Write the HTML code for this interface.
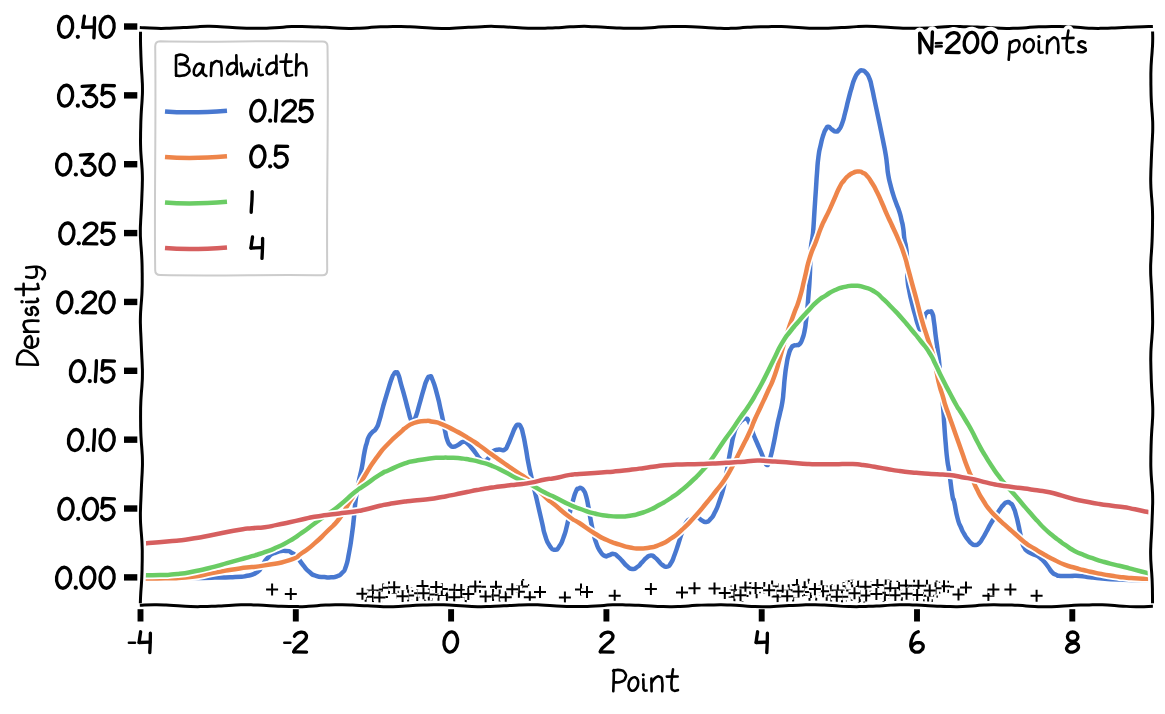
<!DOCTYPE html>
<html><head><meta charset="utf-8"><title>KDE bandwidth</title>
<style>html,body{margin:0;padding:0;background:#fff;font-family:"Liberation Sans",sans-serif}svg{display:block}</style></head>
<body>
<svg width="1165" height="714" viewBox="0 0 1165 714" style="display:block">
<rect width="1165" height="714" fill="#fff"/>
<defs><clipPath id="cp"><rect x="140.4" y="27.2" width="1012.3" height="578.5"/></clipPath></defs>
<g clip-path="url(#cp)" fill="none" stroke-linecap="butt" stroke-linejoin="round">
<path d="M141 578.2C154 578.13 155.4 578.2 180 578C204.6 577.8 196.47 577.93 214.8 577.6C233.13 577.27 224.2 577.6 235 577C245.8 576.4 239.8 577.43 247.2 575.8C254.6 574.17 252.27 575.37 257.2 572.1C262.13 568.83 258.67 570.57 262 566C265.33 561.43 262.87 562.8 267.2 558.4C271.53 554 268.8 555.3 275 552.8C281.2 550.3 280.13 550.83 285.8 550.9C291.47 550.97 288.23 550.93 292 553C295.77 555.07 293.43 553.1 297.1 557.1C300.77 561.1 298.87 560 303 565C307.13 570 305.17 568.5 309.5 572.1C313.83 575.7 311 574.13 316 575.8C321 577.47 319.5 576.6 324.5 577.1C329.5 577.6 326.83 577.57 331 577.3C335.17 577.03 333.33 577.73 337 576.3C340.67 574.87 339.1 576.07 342 573C344.9 569.93 343.37 573.77 345.7 567.1C348.03 560.43 346.93 563.8 349 553C351.07 542.2 350.23 546.7 351.9 534.7C353.57 522.7 352.73 528.63 354 517C355.27 505.37 354.2 511.13 355.7 499.8C357.2 488.47 356.43 493.8 358.5 483C360.57 472.2 359.9 477.73 361.9 467.4C363.9 457.07 362.83 460.3 364.5 452C366.17 443.7 365.53 447.4 366.9 442.5C368.27 437.6 366.9 440.63 368.6 437.3C370.3 433.97 369.5 435.43 372 432.5C374.5 429.57 373.6 432.67 376.1 428.5C378.6 424.33 377.2 427.17 379.5 420C381.8 412.83 380.4 416.2 383 407C385.6 397.8 384.47 401.73 387.3 392.4C390.13 383.07 389.27 385.13 391.5 379C393.73 372.87 392.47 376.2 394 374C395.53 371.8 394.6 372.07 396.1 372.4C397.6 372.73 396.87 371.13 398.5 375C400.13 378.87 398.9 376.53 401 384C403.1 391.47 402.47 388.9 404.8 397.4C407.13 405.9 405.93 402.03 408 409.5C410.07 416.97 409.23 415.9 411 419.8C412.77 423.7 411.63 422.47 413.3 421.2C414.97 419.93 413.93 421.73 416 416C418.07 410.27 417 412.7 419.5 404C422 395.3 421.07 397.9 423.5 389.9C425.93 381.9 424.73 384.33 426.8 380C428.87 375.67 427.77 376.9 429.7 376.9C431.63 376.9 430.1 374 432.6 380C435.1 386 434.57 385.23 437.2 394.9C439.83 404.57 438.43 399.87 440.5 409C442.57 418.13 441.8 414.63 443.4 422.3C445 429.97 444.03 426.17 445.3 432C446.57 437.83 445.63 435.47 447.2 439.8C448.77 444.13 447.93 442.7 450 445C452.07 447.3 450.73 446.7 453.4 446.7C456.07 446.7 454.67 446.67 458 445C461.33 443.33 460.23 442.2 463.4 441.7C466.57 441.2 464.6 441.23 467.5 443.5C470.4 445.77 469.27 445.17 472.1 448.5C474.93 451.83 473.5 450.2 476 453.5C478.5 456.8 476.93 455.9 479.6 458.4C482.27 460.9 481.1 461 484 461C486.9 461 485.97 460.9 488.3 458.4C490.63 455.9 488.93 456.13 491 453.5C493.07 450.87 491.83 451.8 494.5 450.5C497.17 449.2 495.67 449.87 499 449.6C502.33 449.33 501.5 451.4 504.5 449.7C507.5 448 505.5 449.47 508 444.5C510.5 439.53 509.5 440.63 512 434.8C514.5 428.97 513.43 430.33 515.5 427C517.57 423.67 516.43 424.8 518.2 424.8C519.97 424.8 519.13 423.67 520.8 427C522.47 430.33 521.57 427.97 523.2 434.8C524.83 441.63 524.03 438.37 525.7 447.5C527.37 456.63 526.53 453.37 528.2 462.2C529.87 471.03 529.03 466.53 530.7 474C532.37 481.47 531.37 476.83 533.2 484.6C535.03 492.37 533.3 484.83 536.2 497.3C539.1 509.77 539 509.53 541.9 522C544.8 534.47 542.37 526.87 544.9 534.7C547.43 542.53 546.17 540.5 549.5 545.5C552.83 550.5 551.57 549.53 554.9 549.7C558.23 549.87 556.6 550.17 559.5 546C562.4 541.83 561.1 544.03 563.6 537.2C566.1 530.37 564.9 533.8 567 525.5C569.1 517.2 567.9 520.63 569.9 512.3C571.9 503.97 570.93 507.57 573 500.5C575.07 493.43 574.23 495.07 576.1 491.1C577.97 487.13 576.93 489.6 578.6 488.6C580.27 487.6 579.43 487.5 581.1 488.1C582.77 488.7 581.93 487.73 583.6 490.4C585.27 493.07 584.43 490.23 586.1 496.1C587.77 501.97 586.93 499.3 588.6 508C590.27 516.7 589.47 513.87 591.1 522.2C592.73 530.53 591.87 526.33 593.5 533C595.13 539.67 593.83 536.2 596 542.2C598.17 548.2 597.07 546.43 600 551C602.93 555.57 601.8 554.47 604.8 555.9C607.8 557.33 606.1 555.97 609 555.3C611.9 554.63 610.57 553.5 613.5 553.9C616.43 554.3 614.9 554.17 617.8 556.5C620.7 558.83 619.13 557.73 622.2 560.9C625.27 564.07 623.67 563.33 627 566C630.33 568.67 628.8 568.57 632.2 568.9C635.6 569.23 633.87 569.27 637.2 567C640.53 564.73 639.1 565.2 642.2 562.1C645.3 559 643.6 559.93 646.5 557.7C649.4 555.47 648.2 555.57 650.9 555.4C653.6 555.23 652.1 555.37 654.6 557.2C657.1 559.03 655.77 558.3 658.4 560.9C661.03 563.5 659.6 563.1 662.5 565C665.4 566.9 664.27 567.27 667.1 566.6C669.93 565.93 668.5 566.97 671 563C673.5 559.03 672.17 561.03 674.6 554.7C677.03 548.37 675.8 551.5 678.3 544C680.8 536.5 679.53 539.2 682.1 532.2C684.67 525.2 683.03 527.47 686 523C688.97 518.53 687.33 520.6 691 518.8C694.67 517 693.33 517.03 697 517.6C700.67 518.17 699 519.03 702 520.5C705 521.97 703.17 522.5 706 522C708.83 521.5 707.5 522.3 710.5 519C713.5 515.7 712 518.1 715 512.1C718 506.1 716.6 509.3 719.5 501C722.4 492.7 721.43 496.2 723.7 487.2C725.97 478.2 724.63 483.13 726.3 474C727.97 464.87 727.07 468.97 728.7 459.8C730.33 450.63 729.53 454.83 731.2 446.5C732.87 438.17 731.9 441.3 733.7 434.8C735.5 428.3 734.53 431.13 736.6 427C738.67 422.87 737.77 424.9 739.9 422.4C742.03 419.9 740.93 420.77 743 419.5C745.07 418.23 744.17 417.93 746.1 418.6C748.03 419.27 746.87 417.87 748.8 421.5C750.73 425.13 750.3 425.07 751.9 429.5C753.5 433.93 751.8 430.13 753.6 434.8C755.4 439.47 754.8 437.67 757.3 443.5C759.8 449.33 758.87 446.97 761.1 452.3C763.33 457.63 762.1 455.33 764 459.5C765.9 463.67 765.13 464.13 766.8 464.8C768.47 465.47 767.57 464.83 769 461.5C770.43 458.17 769.37 461.63 771.1 454.8C772.83 447.97 772.13 450.97 774.2 441C776.27 431.03 775.43 433.9 777.3 424.9C779.17 415.9 778.13 421.5 779.8 414C781.47 406.5 781.03 410.07 782.3 402.4C783.57 394.73 782.77 399.27 783.6 391C784.43 382.73 783.83 386.27 784.8 377.6C785.77 368.93 785.27 372.5 786.5 365C787.73 357.5 787 360.6 788.5 355.1C790 349.6 789.33 351.63 791 348.5C792.67 345.37 791.67 346.8 793.5 345.7C795.33 344.6 794.43 345.8 796.5 345.2C798.57 344.6 797.7 346.13 799.7 343.9C801.7 341.67 800.83 343.07 802.5 338.5C804.17 333.93 803.53 336.03 804.7 330.2C805.87 324.37 805.17 327.63 806 321C806.83 314.37 806.37 318.97 807.2 310.3C808.03 301.63 807.67 305.8 808.5 295C809.33 284.2 809.1 288.9 809.7 277.9C810.3 266.9 809.9 272 810.3 262C810.7 252 810.17 256.23 810.9 247.9C811.63 239.57 811.67 243.63 812.5 237C813.33 230.37 812.7 237.33 813.4 228C814.1 218.67 813.77 221.8 814.6 209C815.43 196.2 815.1 201.6 815.9 189.6C816.7 177.6 816.17 183.8 817 173C817.83 162.2 817.17 166.53 818.4 157.2C819.63 147.87 819.03 152.47 820.7 145C822.37 137.53 821.63 140.13 823.4 134.8C825.17 129.47 824.33 131.67 826 129C827.67 126.33 826.4 126.63 828.4 126.8C830.4 126.97 829.5 127.93 832 129.5C834.5 131.07 833.57 131.5 835.9 131.5C838.23 131.5 836.93 132.17 839 129.5C841.07 126.83 840.03 129.17 842.1 123.5C844.17 117.83 843.13 120.37 845.2 112.5C847.27 104.63 846.23 107.9 848.3 99.9C850.37 91.9 849.3 95.57 851.4 88.5C853.5 81.43 852.3 84 854.6 78.7C856.9 73.4 855.8 75.37 858.3 72.6C860.8 69.83 859.53 70.33 862.1 70.4C864.67 70.47 863.53 70.03 866 72.8C868.47 75.57 867.5 73.63 869.5 78.7C871.5 83.77 870.33 80.93 872 88C873.67 95.07 872.63 91.07 874.5 99.9C876.37 108.73 875.5 104.53 877.6 114.5C879.7 124.47 878.9 120.63 880.8 129.8C882.7 138.97 881.67 133.7 883.3 142C884.93 150.3 884.47 147.2 885.7 154.7C886.93 162.2 886.17 157.83 887 164.5C887.83 171.17 887.03 167.87 888.2 174.7C889.37 181.53 888.83 178.37 890.5 185C892.17 191.63 891.27 188.43 893.2 194.6C895.13 200.77 894.2 197.67 896.3 203.5C898.4 209.33 897.77 206.6 899.5 212.1C901.23 217.6 900.27 214.7 901.5 220C902.73 225.3 902.23 221.67 903.2 228C904.17 234.33 903.47 232.67 904.4 239C905.33 245.33 905.17 241.33 906 247C906.83 252.67 906.47 249 906.9 256C907.33 263 907.07 259.87 907.3 268C907.53 276.13 906.87 272.4 907.6 280.4C908.33 288.4 908.07 284.53 909.5 292C910.93 299.47 910.07 295.3 911.9 302.8C913.73 310.3 912.93 307.03 915 314.5C917.07 321.97 916.27 320.2 918.1 325.2C919.93 330.2 919 329.23 920.5 329.5C922 329.77 921.27 330.17 922.6 326C923.93 321.83 923.2 321.37 924.5 317C925.8 312.63 924.87 314.67 926.5 312.9C928.13 311.13 927.5 311.6 929.4 311.7C931.3 311.8 930.67 309.77 932.2 313.2C933.73 316.63 932.87 314.67 934 322C935.13 329.33 934.43 326.2 935.6 335.2C936.77 344.2 936.27 339.43 937.5 349C938.73 358.57 938.13 351.9 939.3 363.9C940.47 375.9 939.73 370.5 941 385C942.27 399.5 942 394.07 943.1 407.4C944.2 420.73 943.47 413.37 944.3 425C945.13 436.63 944.6 430.67 945.6 442.3C946.6 453.93 946.07 449.93 947.3 459.9C948.53 469.87 947.63 460.57 949.3 472.2C950.97 483.83 950.63 484.8 952.3 494.8C953.97 504.8 952.57 494.47 954.3 502.2C956.03 509.93 955.27 509.57 957.5 518C959.73 526.43 958.67 522 961 527.5C963.33 533 962.17 530.47 964.5 534.5C966.83 538.53 965.67 536.6 968 539.6C970.33 542.6 969.1 541.67 971.5 543.5C973.9 545.33 972.7 545.17 975.2 545.1C977.7 545.03 976.53 545.53 979 543.3C981.47 541.07 980.1 542.33 982.6 538.4C985.1 534.47 983.87 536.3 986.5 531.5C989.13 526.7 987.67 528.83 990.5 524C993.33 519.17 991.93 521.73 995 517C998.07 512.27 996.87 513.87 999.7 509.8C1002.53 505.73 1001.03 507.3 1003.5 504.8C1005.97 502.3 1004.83 502.83 1007.1 502.3C1009.37 501.77 1008.2 501.53 1010.3 503.2C1012.4 504.87 1011.5 503.37 1013.4 507.3C1015.3 511.23 1014.33 509.2 1016 515C1017.67 520.8 1016.97 518.37 1018.4 524.7C1019.83 531.03 1019.07 528.17 1020.3 534C1021.53 539.83 1020.77 537.7 1022.1 542.2C1023.43 546.7 1022.63 544.6 1024.3 547.5C1025.97 550.4 1024.53 548.83 1027.1 550.9C1029.67 552.97 1028.67 552.03 1032 553.7C1035.33 555.37 1034.17 554.3 1037.1 555.9C1040.03 557.5 1038.33 556.43 1040.8 558.5C1043.27 560.57 1042 559.27 1044.5 562.1C1047 564.93 1045.8 563.67 1048.3 567C1050.8 570.33 1049.43 569.5 1052 572.1C1054.57 574.7 1053.1 573.53 1056 574.8C1058.9 576.07 1056.03 575.5 1060.7 575.9C1065.37 576.3 1063.77 576 1070 576C1076.23 576 1072.73 575.5 1079.4 575.9C1086.07 576.3 1083.33 576.4 1090 577.2C1096.67 578 1089.63 577.5 1099.4 578.3C1109.17 579.1 1105.77 579.03 1119.3 579.6C1132.83 580.17 1128.77 579.83 1140 580C1151.23 580.17 1148.67 580.07 1153 580.1" stroke="#fff" stroke-width="8"/>
<path d="M141 578.2C154 578.13 155.4 578.2 180 578C204.6 577.8 196.47 577.93 214.8 577.6C233.13 577.27 224.2 577.6 235 577C245.8 576.4 239.8 577.43 247.2 575.8C254.6 574.17 252.27 575.37 257.2 572.1C262.13 568.83 258.67 570.57 262 566C265.33 561.43 262.87 562.8 267.2 558.4C271.53 554 268.8 555.3 275 552.8C281.2 550.3 280.13 550.83 285.8 550.9C291.47 550.97 288.23 550.93 292 553C295.77 555.07 293.43 553.1 297.1 557.1C300.77 561.1 298.87 560 303 565C307.13 570 305.17 568.5 309.5 572.1C313.83 575.7 311 574.13 316 575.8C321 577.47 319.5 576.6 324.5 577.1C329.5 577.6 326.83 577.57 331 577.3C335.17 577.03 333.33 577.73 337 576.3C340.67 574.87 339.1 576.07 342 573C344.9 569.93 343.37 573.77 345.7 567.1C348.03 560.43 346.93 563.8 349 553C351.07 542.2 350.23 546.7 351.9 534.7C353.57 522.7 352.73 528.63 354 517C355.27 505.37 354.2 511.13 355.7 499.8C357.2 488.47 356.43 493.8 358.5 483C360.57 472.2 359.9 477.73 361.9 467.4C363.9 457.07 362.83 460.3 364.5 452C366.17 443.7 365.53 447.4 366.9 442.5C368.27 437.6 366.9 440.63 368.6 437.3C370.3 433.97 369.5 435.43 372 432.5C374.5 429.57 373.6 432.67 376.1 428.5C378.6 424.33 377.2 427.17 379.5 420C381.8 412.83 380.4 416.2 383 407C385.6 397.8 384.47 401.73 387.3 392.4C390.13 383.07 389.27 385.13 391.5 379C393.73 372.87 392.47 376.2 394 374C395.53 371.8 394.6 372.07 396.1 372.4C397.6 372.73 396.87 371.13 398.5 375C400.13 378.87 398.9 376.53 401 384C403.1 391.47 402.47 388.9 404.8 397.4C407.13 405.9 405.93 402.03 408 409.5C410.07 416.97 409.23 415.9 411 419.8C412.77 423.7 411.63 422.47 413.3 421.2C414.97 419.93 413.93 421.73 416 416C418.07 410.27 417 412.7 419.5 404C422 395.3 421.07 397.9 423.5 389.9C425.93 381.9 424.73 384.33 426.8 380C428.87 375.67 427.77 376.9 429.7 376.9C431.63 376.9 430.1 374 432.6 380C435.1 386 434.57 385.23 437.2 394.9C439.83 404.57 438.43 399.87 440.5 409C442.57 418.13 441.8 414.63 443.4 422.3C445 429.97 444.03 426.17 445.3 432C446.57 437.83 445.63 435.47 447.2 439.8C448.77 444.13 447.93 442.7 450 445C452.07 447.3 450.73 446.7 453.4 446.7C456.07 446.7 454.67 446.67 458 445C461.33 443.33 460.23 442.2 463.4 441.7C466.57 441.2 464.6 441.23 467.5 443.5C470.4 445.77 469.27 445.17 472.1 448.5C474.93 451.83 473.5 450.2 476 453.5C478.5 456.8 476.93 455.9 479.6 458.4C482.27 460.9 481.1 461 484 461C486.9 461 485.97 460.9 488.3 458.4C490.63 455.9 488.93 456.13 491 453.5C493.07 450.87 491.83 451.8 494.5 450.5C497.17 449.2 495.67 449.87 499 449.6C502.33 449.33 501.5 451.4 504.5 449.7C507.5 448 505.5 449.47 508 444.5C510.5 439.53 509.5 440.63 512 434.8C514.5 428.97 513.43 430.33 515.5 427C517.57 423.67 516.43 424.8 518.2 424.8C519.97 424.8 519.13 423.67 520.8 427C522.47 430.33 521.57 427.97 523.2 434.8C524.83 441.63 524.03 438.37 525.7 447.5C527.37 456.63 526.53 453.37 528.2 462.2C529.87 471.03 529.03 466.53 530.7 474C532.37 481.47 531.37 476.83 533.2 484.6C535.03 492.37 533.3 484.83 536.2 497.3C539.1 509.77 539 509.53 541.9 522C544.8 534.47 542.37 526.87 544.9 534.7C547.43 542.53 546.17 540.5 549.5 545.5C552.83 550.5 551.57 549.53 554.9 549.7C558.23 549.87 556.6 550.17 559.5 546C562.4 541.83 561.1 544.03 563.6 537.2C566.1 530.37 564.9 533.8 567 525.5C569.1 517.2 567.9 520.63 569.9 512.3C571.9 503.97 570.93 507.57 573 500.5C575.07 493.43 574.23 495.07 576.1 491.1C577.97 487.13 576.93 489.6 578.6 488.6C580.27 487.6 579.43 487.5 581.1 488.1C582.77 488.7 581.93 487.73 583.6 490.4C585.27 493.07 584.43 490.23 586.1 496.1C587.77 501.97 586.93 499.3 588.6 508C590.27 516.7 589.47 513.87 591.1 522.2C592.73 530.53 591.87 526.33 593.5 533C595.13 539.67 593.83 536.2 596 542.2C598.17 548.2 597.07 546.43 600 551C602.93 555.57 601.8 554.47 604.8 555.9C607.8 557.33 606.1 555.97 609 555.3C611.9 554.63 610.57 553.5 613.5 553.9C616.43 554.3 614.9 554.17 617.8 556.5C620.7 558.83 619.13 557.73 622.2 560.9C625.27 564.07 623.67 563.33 627 566C630.33 568.67 628.8 568.57 632.2 568.9C635.6 569.23 633.87 569.27 637.2 567C640.53 564.73 639.1 565.2 642.2 562.1C645.3 559 643.6 559.93 646.5 557.7C649.4 555.47 648.2 555.57 650.9 555.4C653.6 555.23 652.1 555.37 654.6 557.2C657.1 559.03 655.77 558.3 658.4 560.9C661.03 563.5 659.6 563.1 662.5 565C665.4 566.9 664.27 567.27 667.1 566.6C669.93 565.93 668.5 566.97 671 563C673.5 559.03 672.17 561.03 674.6 554.7C677.03 548.37 675.8 551.5 678.3 544C680.8 536.5 679.53 539.2 682.1 532.2C684.67 525.2 683.03 527.47 686 523C688.97 518.53 687.33 520.6 691 518.8C694.67 517 693.33 517.03 697 517.6C700.67 518.17 699 519.03 702 520.5C705 521.97 703.17 522.5 706 522C708.83 521.5 707.5 522.3 710.5 519C713.5 515.7 712 518.1 715 512.1C718 506.1 716.6 509.3 719.5 501C722.4 492.7 721.43 496.2 723.7 487.2C725.97 478.2 724.63 483.13 726.3 474C727.97 464.87 727.07 468.97 728.7 459.8C730.33 450.63 729.53 454.83 731.2 446.5C732.87 438.17 731.9 441.3 733.7 434.8C735.5 428.3 734.53 431.13 736.6 427C738.67 422.87 737.77 424.9 739.9 422.4C742.03 419.9 740.93 420.77 743 419.5C745.07 418.23 744.17 417.93 746.1 418.6C748.03 419.27 746.87 417.87 748.8 421.5C750.73 425.13 750.3 425.07 751.9 429.5C753.5 433.93 751.8 430.13 753.6 434.8C755.4 439.47 754.8 437.67 757.3 443.5C759.8 449.33 758.87 446.97 761.1 452.3C763.33 457.63 762.1 455.33 764 459.5C765.9 463.67 765.13 464.13 766.8 464.8C768.47 465.47 767.57 464.83 769 461.5C770.43 458.17 769.37 461.63 771.1 454.8C772.83 447.97 772.13 450.97 774.2 441C776.27 431.03 775.43 433.9 777.3 424.9C779.17 415.9 778.13 421.5 779.8 414C781.47 406.5 781.03 410.07 782.3 402.4C783.57 394.73 782.77 399.27 783.6 391C784.43 382.73 783.83 386.27 784.8 377.6C785.77 368.93 785.27 372.5 786.5 365C787.73 357.5 787 360.6 788.5 355.1C790 349.6 789.33 351.63 791 348.5C792.67 345.37 791.67 346.8 793.5 345.7C795.33 344.6 794.43 345.8 796.5 345.2C798.57 344.6 797.7 346.13 799.7 343.9C801.7 341.67 800.83 343.07 802.5 338.5C804.17 333.93 803.53 336.03 804.7 330.2C805.87 324.37 805.17 327.63 806 321C806.83 314.37 806.37 318.97 807.2 310.3C808.03 301.63 807.67 305.8 808.5 295C809.33 284.2 809.1 288.9 809.7 277.9C810.3 266.9 809.9 272 810.3 262C810.7 252 810.17 256.23 810.9 247.9C811.63 239.57 811.67 243.63 812.5 237C813.33 230.37 812.7 237.33 813.4 228C814.1 218.67 813.77 221.8 814.6 209C815.43 196.2 815.1 201.6 815.9 189.6C816.7 177.6 816.17 183.8 817 173C817.83 162.2 817.17 166.53 818.4 157.2C819.63 147.87 819.03 152.47 820.7 145C822.37 137.53 821.63 140.13 823.4 134.8C825.17 129.47 824.33 131.67 826 129C827.67 126.33 826.4 126.63 828.4 126.8C830.4 126.97 829.5 127.93 832 129.5C834.5 131.07 833.57 131.5 835.9 131.5C838.23 131.5 836.93 132.17 839 129.5C841.07 126.83 840.03 129.17 842.1 123.5C844.17 117.83 843.13 120.37 845.2 112.5C847.27 104.63 846.23 107.9 848.3 99.9C850.37 91.9 849.3 95.57 851.4 88.5C853.5 81.43 852.3 84 854.6 78.7C856.9 73.4 855.8 75.37 858.3 72.6C860.8 69.83 859.53 70.33 862.1 70.4C864.67 70.47 863.53 70.03 866 72.8C868.47 75.57 867.5 73.63 869.5 78.7C871.5 83.77 870.33 80.93 872 88C873.67 95.07 872.63 91.07 874.5 99.9C876.37 108.73 875.5 104.53 877.6 114.5C879.7 124.47 878.9 120.63 880.8 129.8C882.7 138.97 881.67 133.7 883.3 142C884.93 150.3 884.47 147.2 885.7 154.7C886.93 162.2 886.17 157.83 887 164.5C887.83 171.17 887.03 167.87 888.2 174.7C889.37 181.53 888.83 178.37 890.5 185C892.17 191.63 891.27 188.43 893.2 194.6C895.13 200.77 894.2 197.67 896.3 203.5C898.4 209.33 897.77 206.6 899.5 212.1C901.23 217.6 900.27 214.7 901.5 220C902.73 225.3 902.23 221.67 903.2 228C904.17 234.33 903.47 232.67 904.4 239C905.33 245.33 905.17 241.33 906 247C906.83 252.67 906.47 249 906.9 256C907.33 263 907.07 259.87 907.3 268C907.53 276.13 906.87 272.4 907.6 280.4C908.33 288.4 908.07 284.53 909.5 292C910.93 299.47 910.07 295.3 911.9 302.8C913.73 310.3 912.93 307.03 915 314.5C917.07 321.97 916.27 320.2 918.1 325.2C919.93 330.2 919 329.23 920.5 329.5C922 329.77 921.27 330.17 922.6 326C923.93 321.83 923.2 321.37 924.5 317C925.8 312.63 924.87 314.67 926.5 312.9C928.13 311.13 927.5 311.6 929.4 311.7C931.3 311.8 930.67 309.77 932.2 313.2C933.73 316.63 932.87 314.67 934 322C935.13 329.33 934.43 326.2 935.6 335.2C936.77 344.2 936.27 339.43 937.5 349C938.73 358.57 938.13 351.9 939.3 363.9C940.47 375.9 939.73 370.5 941 385C942.27 399.5 942 394.07 943.1 407.4C944.2 420.73 943.47 413.37 944.3 425C945.13 436.63 944.6 430.67 945.6 442.3C946.6 453.93 946.07 449.93 947.3 459.9C948.53 469.87 947.63 460.57 949.3 472.2C950.97 483.83 950.63 484.8 952.3 494.8C953.97 504.8 952.57 494.47 954.3 502.2C956.03 509.93 955.27 509.57 957.5 518C959.73 526.43 958.67 522 961 527.5C963.33 533 962.17 530.47 964.5 534.5C966.83 538.53 965.67 536.6 968 539.6C970.33 542.6 969.1 541.67 971.5 543.5C973.9 545.33 972.7 545.17 975.2 545.1C977.7 545.03 976.53 545.53 979 543.3C981.47 541.07 980.1 542.33 982.6 538.4C985.1 534.47 983.87 536.3 986.5 531.5C989.13 526.7 987.67 528.83 990.5 524C993.33 519.17 991.93 521.73 995 517C998.07 512.27 996.87 513.87 999.7 509.8C1002.53 505.73 1001.03 507.3 1003.5 504.8C1005.97 502.3 1004.83 502.83 1007.1 502.3C1009.37 501.77 1008.2 501.53 1010.3 503.2C1012.4 504.87 1011.5 503.37 1013.4 507.3C1015.3 511.23 1014.33 509.2 1016 515C1017.67 520.8 1016.97 518.37 1018.4 524.7C1019.83 531.03 1019.07 528.17 1020.3 534C1021.53 539.83 1020.77 537.7 1022.1 542.2C1023.43 546.7 1022.63 544.6 1024.3 547.5C1025.97 550.4 1024.53 548.83 1027.1 550.9C1029.67 552.97 1028.67 552.03 1032 553.7C1035.33 555.37 1034.17 554.3 1037.1 555.9C1040.03 557.5 1038.33 556.43 1040.8 558.5C1043.27 560.57 1042 559.27 1044.5 562.1C1047 564.93 1045.8 563.67 1048.3 567C1050.8 570.33 1049.43 569.5 1052 572.1C1054.57 574.7 1053.1 573.53 1056 574.8C1058.9 576.07 1056.03 575.5 1060.7 575.9C1065.37 576.3 1063.77 576 1070 576C1076.23 576 1072.73 575.5 1079.4 575.9C1086.07 576.3 1083.33 576.4 1090 577.2C1096.67 578 1089.63 577.5 1099.4 578.3C1109.17 579.1 1105.77 579.03 1119.3 579.6C1132.83 580.17 1128.77 579.83 1140 580C1151.23 580.17 1148.67 580.07 1153 580.1" stroke="#4878d0" stroke-width="4.5"/>
<path d="M141 578.5C149 578.43 148.7 578.77 165 578.3C181.3 577.83 173.3 579 189.9 577.1C206.5 575.2 198.2 575.5 214.8 572.6C231.4 569.7 223.07 570.8 239.7 568.4C256.33 566 248.07 568.17 264.7 565.4C281.33 562.63 277.17 564.23 289.6 560.1C302.03 555.97 293.7 558.57 302 553C310.3 547.43 306.17 550.57 314.5 543.4C322.83 536.23 318.7 539.8 327 531.5C335.3 523.2 332.4 527.5 339.4 518.5C346.4 509.5 342.17 514.07 348 504.5C353.83 494.93 350.73 500.3 356.9 489.8C363.07 479.3 359.87 483.8 366.5 473C373.13 462.2 369.63 467.07 376.8 457.4C383.97 447.73 379.67 452.73 388 444C396.33 435.27 396.2 436.4 401.8 431.2C407.4 426 400.73 431.13 404.8 428.4C408.87 425.67 407.37 425.47 414 423C420.63 420.53 418.37 421.4 424.7 421C431.03 420.6 427.17 420.7 433 421.8C438.83 422.9 435.2 421.57 442.2 424.3C449.2 427.03 445.7 425.67 454 430C462.3 434.33 458.6 432.13 467.1 437.3C475.6 442.47 471.2 439.7 479.5 445.5C487.8 451.3 483.67 448.7 492 454.7C500.33 460.7 496.17 457.67 504.5 463.5C512.83 469.33 508.67 466.4 517 472.2C525.33 478 520.2 472.77 529.5 480.9C538.8 489.03 536.6 488.7 544.9 496.6C553.2 504.5 546.07 497.7 554.4 504.6C562.73 511.5 561.6 511.17 569.9 517.3C578.2 523.43 571 517.6 579.3 523C587.6 528.4 585.57 527.83 594.8 533.5C604.03 539.17 598.7 536.27 607 540C615.3 543.73 612.03 542.2 619.7 544.7C627.37 547.2 623.33 546.27 630 547.5C636.67 548.73 633.03 548.4 639.7 548.4C646.37 548.4 643.37 548.73 650 547.5C656.63 546.27 652.6 547.7 659.6 544.7C666.6 541.7 663.5 543.5 671 538.5C678.5 533.5 674.27 536.87 682.1 529.7C689.93 522.53 686.2 526.13 694.5 517C702.8 507.87 699.83 510.97 707 502.3C714.17 493.63 710.2 498.47 716 491C721.8 483.53 719.4 487.23 724.4 479.9C729.4 472.57 726.83 476.5 731 469C735.17 461.5 732.9 465.23 736.9 457.4C740.9 449.57 738.83 453.8 743 445.5C747.17 437.2 745.4 441.33 749.4 432.5C753.4 423.67 751.1 427.83 755 419C758.9 410.17 756.77 415.33 761.1 406C765.43 396.67 763.43 401.3 768 391C772.57 380.7 770.47 387.43 774.8 375.1C779.13 362.77 776.83 368.13 781 354C785.17 339.87 783.13 345.7 787.3 332.7C791.47 319.7 789.37 326.63 793.5 315C797.63 303.37 795.97 310.13 799.7 297.8C803.43 285.47 801.37 291.3 804.7 278C808.03 264.7 805.93 270.07 809.7 257.9C813.47 245.73 812.27 251.47 816 241.5C819.73 231.53 817.9 235.5 820.9 228C823.9 220.5 822.1 225.13 825 219C827.9 212.87 826.43 216.43 829.6 209.6C832.77 202.77 831.17 206 834.5 198.5C837.83 191 836.43 193.1 839.6 187.1C842.77 181.1 841.1 184.23 844 180.5C846.9 176.77 845.2 178.5 848.3 175.9C851.4 173.3 849.97 174.2 853.3 172.7C856.63 171.2 855.2 171.4 858.3 171.4C861.4 171.4 859.7 171.2 862.6 172.7C865.5 174.2 863.87 172.47 867 175.9C870.13 179.33 868.67 177.6 872 183C875.33 188.4 873.67 185.43 877 192.1C880.33 198.77 878.67 195.5 882 203C885.33 210.5 884.27 208.43 887 214.6C889.73 220.77 888.13 217.03 890.2 221.5C892.27 225.97 890.27 221.5 893.2 228C896.13 234.5 895.27 231.87 899 241C902.73 250.13 901.33 246.07 904.4 255.4C907.47 264.73 905.7 259.87 908.2 269C910.7 278.13 908.97 271.97 911.9 282.8C914.83 293.63 913.67 289.03 917 301.5C920.33 313.97 918.4 308.03 921.9 320.2C925.4 332.37 923.77 326.37 927.5 338C931.23 349.63 930.17 344.27 933.1 355.1C936.03 365.93 934.23 360.67 936.3 370.5C938.37 380.33 937.07 375.77 939.3 384.6C941.53 393.43 940.9 389.87 943 397C945.1 404.13 943.5 399.53 945.6 406C947.7 412.47 946 407.07 949.3 416.4C952.6 425.73 951.33 422.2 955.5 434C959.67 445.8 957.9 440.83 961.8 451.8C965.7 462.77 963.73 458 967.2 466.9C970.67 475.8 968.87 470.87 972.2 478.5C975.53 486.13 973.43 482.3 977.2 489.8C980.97 497.3 979.33 494.33 983.5 501C987.67 507.67 985.2 504.3 989.7 509.8C994.2 515.3 992.03 512.53 997 517.5C1001.97 522.47 998.73 519.37 1004.6 524.7C1010.47 530.03 1007.93 527.67 1014.6 533.5C1021.27 539.33 1017.97 537.13 1024.6 542.2C1031.23 547.27 1027.87 544.53 1034.5 548.7C1041.13 552.87 1037.83 550.93 1044.5 554.7C1051.17 558.47 1047.83 556.7 1054.5 560C1061.17 563.3 1057.43 561.93 1064.5 564.6C1071.57 567.27 1068.23 565.9 1075.7 568C1083.17 570.1 1079 569.03 1086.9 570.9C1094.8 572.77 1091.1 571.97 1099.4 573.6C1107.7 575.23 1103.93 574.57 1111.8 575.8C1119.67 577.03 1115.5 576.47 1123 577.3C1130.5 578.13 1126.37 577.8 1134.3 578.3C1142.23 578.8 1140.57 578.57 1146.8 578.8C1153.03 579.03 1150.93 578.93 1153 579" stroke="#fff" stroke-width="8"/>
<path d="M141 578.5C149 578.43 148.7 578.77 165 578.3C181.3 577.83 173.3 579 189.9 577.1C206.5 575.2 198.2 575.5 214.8 572.6C231.4 569.7 223.07 570.8 239.7 568.4C256.33 566 248.07 568.17 264.7 565.4C281.33 562.63 277.17 564.23 289.6 560.1C302.03 555.97 293.7 558.57 302 553C310.3 547.43 306.17 550.57 314.5 543.4C322.83 536.23 318.7 539.8 327 531.5C335.3 523.2 332.4 527.5 339.4 518.5C346.4 509.5 342.17 514.07 348 504.5C353.83 494.93 350.73 500.3 356.9 489.8C363.07 479.3 359.87 483.8 366.5 473C373.13 462.2 369.63 467.07 376.8 457.4C383.97 447.73 379.67 452.73 388 444C396.33 435.27 396.2 436.4 401.8 431.2C407.4 426 400.73 431.13 404.8 428.4C408.87 425.67 407.37 425.47 414 423C420.63 420.53 418.37 421.4 424.7 421C431.03 420.6 427.17 420.7 433 421.8C438.83 422.9 435.2 421.57 442.2 424.3C449.2 427.03 445.7 425.67 454 430C462.3 434.33 458.6 432.13 467.1 437.3C475.6 442.47 471.2 439.7 479.5 445.5C487.8 451.3 483.67 448.7 492 454.7C500.33 460.7 496.17 457.67 504.5 463.5C512.83 469.33 508.67 466.4 517 472.2C525.33 478 520.2 472.77 529.5 480.9C538.8 489.03 536.6 488.7 544.9 496.6C553.2 504.5 546.07 497.7 554.4 504.6C562.73 511.5 561.6 511.17 569.9 517.3C578.2 523.43 571 517.6 579.3 523C587.6 528.4 585.57 527.83 594.8 533.5C604.03 539.17 598.7 536.27 607 540C615.3 543.73 612.03 542.2 619.7 544.7C627.37 547.2 623.33 546.27 630 547.5C636.67 548.73 633.03 548.4 639.7 548.4C646.37 548.4 643.37 548.73 650 547.5C656.63 546.27 652.6 547.7 659.6 544.7C666.6 541.7 663.5 543.5 671 538.5C678.5 533.5 674.27 536.87 682.1 529.7C689.93 522.53 686.2 526.13 694.5 517C702.8 507.87 699.83 510.97 707 502.3C714.17 493.63 710.2 498.47 716 491C721.8 483.53 719.4 487.23 724.4 479.9C729.4 472.57 726.83 476.5 731 469C735.17 461.5 732.9 465.23 736.9 457.4C740.9 449.57 738.83 453.8 743 445.5C747.17 437.2 745.4 441.33 749.4 432.5C753.4 423.67 751.1 427.83 755 419C758.9 410.17 756.77 415.33 761.1 406C765.43 396.67 763.43 401.3 768 391C772.57 380.7 770.47 387.43 774.8 375.1C779.13 362.77 776.83 368.13 781 354C785.17 339.87 783.13 345.7 787.3 332.7C791.47 319.7 789.37 326.63 793.5 315C797.63 303.37 795.97 310.13 799.7 297.8C803.43 285.47 801.37 291.3 804.7 278C808.03 264.7 805.93 270.07 809.7 257.9C813.47 245.73 812.27 251.47 816 241.5C819.73 231.53 817.9 235.5 820.9 228C823.9 220.5 822.1 225.13 825 219C827.9 212.87 826.43 216.43 829.6 209.6C832.77 202.77 831.17 206 834.5 198.5C837.83 191 836.43 193.1 839.6 187.1C842.77 181.1 841.1 184.23 844 180.5C846.9 176.77 845.2 178.5 848.3 175.9C851.4 173.3 849.97 174.2 853.3 172.7C856.63 171.2 855.2 171.4 858.3 171.4C861.4 171.4 859.7 171.2 862.6 172.7C865.5 174.2 863.87 172.47 867 175.9C870.13 179.33 868.67 177.6 872 183C875.33 188.4 873.67 185.43 877 192.1C880.33 198.77 878.67 195.5 882 203C885.33 210.5 884.27 208.43 887 214.6C889.73 220.77 888.13 217.03 890.2 221.5C892.27 225.97 890.27 221.5 893.2 228C896.13 234.5 895.27 231.87 899 241C902.73 250.13 901.33 246.07 904.4 255.4C907.47 264.73 905.7 259.87 908.2 269C910.7 278.13 908.97 271.97 911.9 282.8C914.83 293.63 913.67 289.03 917 301.5C920.33 313.97 918.4 308.03 921.9 320.2C925.4 332.37 923.77 326.37 927.5 338C931.23 349.63 930.17 344.27 933.1 355.1C936.03 365.93 934.23 360.67 936.3 370.5C938.37 380.33 937.07 375.77 939.3 384.6C941.53 393.43 940.9 389.87 943 397C945.1 404.13 943.5 399.53 945.6 406C947.7 412.47 946 407.07 949.3 416.4C952.6 425.73 951.33 422.2 955.5 434C959.67 445.8 957.9 440.83 961.8 451.8C965.7 462.77 963.73 458 967.2 466.9C970.67 475.8 968.87 470.87 972.2 478.5C975.53 486.13 973.43 482.3 977.2 489.8C980.97 497.3 979.33 494.33 983.5 501C987.67 507.67 985.2 504.3 989.7 509.8C994.2 515.3 992.03 512.53 997 517.5C1001.97 522.47 998.73 519.37 1004.6 524.7C1010.47 530.03 1007.93 527.67 1014.6 533.5C1021.27 539.33 1017.97 537.13 1024.6 542.2C1031.23 547.27 1027.87 544.53 1034.5 548.7C1041.13 552.87 1037.83 550.93 1044.5 554.7C1051.17 558.47 1047.83 556.7 1054.5 560C1061.17 563.3 1057.43 561.93 1064.5 564.6C1071.57 567.27 1068.23 565.9 1075.7 568C1083.17 570.1 1079 569.03 1086.9 570.9C1094.8 572.77 1091.1 571.97 1099.4 573.6C1107.7 575.23 1103.93 574.57 1111.8 575.8C1119.67 577.03 1115.5 576.47 1123 577.3C1130.5 578.13 1126.37 577.8 1134.3 578.3C1142.23 578.8 1140.57 578.57 1146.8 578.8C1153.03 579.03 1150.93 578.93 1153 579" stroke="#ee854a" stroke-width="4.5"/>
<path d="M141 575.3C147.33 575.2 147.87 575.4 160 575C172.13 574.6 165.4 575.43 177.4 574.1C189.4 572.77 183.53 573.5 196 571C208.47 568.5 204.47 569.2 214.8 566.6C225.13 564 218.7 565.53 227 563.2C235.3 560.87 231.37 561.93 239.7 559.6C248.03 557.27 243.67 558.67 252 556.2C260.33 553.73 256.37 555.17 264.7 552.2C273.03 549.23 268.7 551.07 277 547.3C285.3 543.53 281.27 545.77 289.6 540.9C297.93 536.03 293.7 538.5 302 532.7C310.3 526.9 306.17 529.57 314.5 523.5C322.83 517.43 318.7 520.5 327 514.5C335.3 508.5 330.1 512.97 339.4 505.5C348.7 498.03 346.57 498.8 354.9 492.1C363.23 485.4 356.07 491.2 364.4 485.4C372.73 479.6 371.6 479.83 379.9 474.7C388.2 469.57 381 473.77 389.3 470C397.6 466.23 396.5 466.4 404.8 463.4C413.1 460.4 405.9 462.67 414.2 461C422.5 459.33 421.1 459.47 429.7 458.4C438.3 457.33 433.33 458.03 440 457.8C446.67 457.57 443.03 457.53 449.7 457.7C456.37 457.87 453.37 457.63 460 458.3C466.63 458.97 462.6 458.37 469.6 459.7C476.6 461.03 473.53 460.23 481 462.3C488.47 464.37 484.17 462.77 492 465.9C499.83 469.03 496.17 467.53 504.5 471.7C512.83 475.87 508.67 474.3 517 478.4C525.33 482.5 520.2 479.27 529.5 484C538.8 488.73 536.6 488.27 544.9 492.6C553.2 496.93 546.07 492.93 554.4 497C562.73 501.07 560.7 500.63 569.9 504.8C579.1 508.97 573.7 506.6 582 509.5C590.3 512.4 586.47 511.43 594.8 513.5C603.13 515.57 598.7 514.7 607 515.7C615.3 516.7 612.03 516.5 619.7 516.5C627.37 516.5 623.33 516.7 630 515.7C636.67 514.7 633.03 515.47 639.7 513.5C646.37 511.53 643.37 512.7 650 509.8C656.63 506.9 652.6 508.73 659.6 504.8C666.6 500.87 663.5 503 671 498C678.5 493 675.1 495.47 682.1 489.8C689.1 484.13 685.37 487.23 692 481C698.63 474.77 695.67 478.1 702 471.1C708.33 464.1 705.17 467.87 711 460C716.83 452.13 714.5 454.83 719.5 447.5C724.5 440.17 721.87 443.83 726 438C730.13 432.17 727.23 436.67 731.9 430C736.57 423.33 734.43 426 740 418C745.57 410 742.93 414.67 748.6 406C754.27 397.33 751.6 401.47 757 392C762.4 382.53 759.3 388.27 764.8 377.6C770.3 366.93 767.67 371.63 773.5 360C779.33 348.37 776.47 352.53 782.3 342.7C788.13 332.87 785.2 338 791 330.5C796.8 323 793.87 326.87 799.7 320.2C805.53 313.53 802.67 316.73 808.5 310.5C814.33 304.27 811.37 306.57 817.2 301.5C823.03 296.43 820.2 299.03 826 295.3C831.8 291.57 828.4 293.1 834.6 290.3C840.8 287.5 837.93 288.4 844.6 286.9C851.27 285.4 847.97 285.63 854.6 285.8C861.23 285.97 857.87 285.47 864.5 287.4C871.13 289.33 868.33 287.8 874.5 291.6C880.67 295.4 877.17 293.4 883 298.8C888.83 304.2 885.67 301.23 892 307.8C898.33 314.37 895.37 311.03 902 318.5C908.63 325.97 905.67 322.7 911.9 330.2C918.13 337.7 914.87 333.5 920.7 341C926.53 348.5 924.43 344.87 929.4 352.7C934.37 360.53 931.47 356.2 935.6 364.5C939.73 372.8 937.23 368.43 941.8 377.6C946.37 386.77 944.3 382.53 949.3 392C954.3 401.47 953.47 400.07 956.8 406C960.13 411.93 956.4 405.13 959.3 409.8C962.2 414.47 961.43 413.17 965.5 420C969.57 426.83 967.33 422.63 971.5 430.3C975.67 437.97 973.6 434.8 978 443C982.4 451.2 980.03 447.07 984.7 454.9C989.37 462.73 987 459 992 466.5C997 474 994.7 470.8 999.7 477.4C1004.7 484 1002.03 480.5 1007 486.3C1011.97 492.1 1009.6 489.07 1014.6 494.8C1019.6 500.53 1017 497.67 1022 503.5C1027 509.33 1024.6 506.6 1029.6 512.3C1034.6 518 1032.03 515.2 1037 520.6C1041.97 526 1039.5 523.7 1044.5 528.5C1049.5 533.3 1047 530.87 1052 535C1057 539.13 1054.5 537.17 1059.5 540.9C1064.5 544.63 1062 542.87 1067 546.2C1072 549.53 1068.67 547.87 1074.5 550.9C1080.33 553.93 1077.87 552.63 1084.5 555.3C1091.13 557.97 1087.77 556.67 1094.4 558.9C1101.03 561.13 1097.77 560.1 1104.4 562C1111.03 563.9 1107.67 562.93 1114.3 564.6C1120.93 566.27 1117.63 565.33 1124.3 567C1130.97 568.67 1126.8 567.63 1134.3 569.6C1141.8 571.57 1140.57 571.27 1146.8 572.9C1153.03 574.53 1150.93 573.97 1153 574.5" stroke="#fff" stroke-width="8"/>
<path d="M141 575.3C147.33 575.2 147.87 575.4 160 575C172.13 574.6 165.4 575.43 177.4 574.1C189.4 572.77 183.53 573.5 196 571C208.47 568.5 204.47 569.2 214.8 566.6C225.13 564 218.7 565.53 227 563.2C235.3 560.87 231.37 561.93 239.7 559.6C248.03 557.27 243.67 558.67 252 556.2C260.33 553.73 256.37 555.17 264.7 552.2C273.03 549.23 268.7 551.07 277 547.3C285.3 543.53 281.27 545.77 289.6 540.9C297.93 536.03 293.7 538.5 302 532.7C310.3 526.9 306.17 529.57 314.5 523.5C322.83 517.43 318.7 520.5 327 514.5C335.3 508.5 330.1 512.97 339.4 505.5C348.7 498.03 346.57 498.8 354.9 492.1C363.23 485.4 356.07 491.2 364.4 485.4C372.73 479.6 371.6 479.83 379.9 474.7C388.2 469.57 381 473.77 389.3 470C397.6 466.23 396.5 466.4 404.8 463.4C413.1 460.4 405.9 462.67 414.2 461C422.5 459.33 421.1 459.47 429.7 458.4C438.3 457.33 433.33 458.03 440 457.8C446.67 457.57 443.03 457.53 449.7 457.7C456.37 457.87 453.37 457.63 460 458.3C466.63 458.97 462.6 458.37 469.6 459.7C476.6 461.03 473.53 460.23 481 462.3C488.47 464.37 484.17 462.77 492 465.9C499.83 469.03 496.17 467.53 504.5 471.7C512.83 475.87 508.67 474.3 517 478.4C525.33 482.5 520.2 479.27 529.5 484C538.8 488.73 536.6 488.27 544.9 492.6C553.2 496.93 546.07 492.93 554.4 497C562.73 501.07 560.7 500.63 569.9 504.8C579.1 508.97 573.7 506.6 582 509.5C590.3 512.4 586.47 511.43 594.8 513.5C603.13 515.57 598.7 514.7 607 515.7C615.3 516.7 612.03 516.5 619.7 516.5C627.37 516.5 623.33 516.7 630 515.7C636.67 514.7 633.03 515.47 639.7 513.5C646.37 511.53 643.37 512.7 650 509.8C656.63 506.9 652.6 508.73 659.6 504.8C666.6 500.87 663.5 503 671 498C678.5 493 675.1 495.47 682.1 489.8C689.1 484.13 685.37 487.23 692 481C698.63 474.77 695.67 478.1 702 471.1C708.33 464.1 705.17 467.87 711 460C716.83 452.13 714.5 454.83 719.5 447.5C724.5 440.17 721.87 443.83 726 438C730.13 432.17 727.23 436.67 731.9 430C736.57 423.33 734.43 426 740 418C745.57 410 742.93 414.67 748.6 406C754.27 397.33 751.6 401.47 757 392C762.4 382.53 759.3 388.27 764.8 377.6C770.3 366.93 767.67 371.63 773.5 360C779.33 348.37 776.47 352.53 782.3 342.7C788.13 332.87 785.2 338 791 330.5C796.8 323 793.87 326.87 799.7 320.2C805.53 313.53 802.67 316.73 808.5 310.5C814.33 304.27 811.37 306.57 817.2 301.5C823.03 296.43 820.2 299.03 826 295.3C831.8 291.57 828.4 293.1 834.6 290.3C840.8 287.5 837.93 288.4 844.6 286.9C851.27 285.4 847.97 285.63 854.6 285.8C861.23 285.97 857.87 285.47 864.5 287.4C871.13 289.33 868.33 287.8 874.5 291.6C880.67 295.4 877.17 293.4 883 298.8C888.83 304.2 885.67 301.23 892 307.8C898.33 314.37 895.37 311.03 902 318.5C908.63 325.97 905.67 322.7 911.9 330.2C918.13 337.7 914.87 333.5 920.7 341C926.53 348.5 924.43 344.87 929.4 352.7C934.37 360.53 931.47 356.2 935.6 364.5C939.73 372.8 937.23 368.43 941.8 377.6C946.37 386.77 944.3 382.53 949.3 392C954.3 401.47 953.47 400.07 956.8 406C960.13 411.93 956.4 405.13 959.3 409.8C962.2 414.47 961.43 413.17 965.5 420C969.57 426.83 967.33 422.63 971.5 430.3C975.67 437.97 973.6 434.8 978 443C982.4 451.2 980.03 447.07 984.7 454.9C989.37 462.73 987 459 992 466.5C997 474 994.7 470.8 999.7 477.4C1004.7 484 1002.03 480.5 1007 486.3C1011.97 492.1 1009.6 489.07 1014.6 494.8C1019.6 500.53 1017 497.67 1022 503.5C1027 509.33 1024.6 506.6 1029.6 512.3C1034.6 518 1032.03 515.2 1037 520.6C1041.97 526 1039.5 523.7 1044.5 528.5C1049.5 533.3 1047 530.87 1052 535C1057 539.13 1054.5 537.17 1059.5 540.9C1064.5 544.63 1062 542.87 1067 546.2C1072 549.53 1068.67 547.87 1074.5 550.9C1080.33 553.93 1077.87 552.63 1084.5 555.3C1091.13 557.97 1087.77 556.67 1094.4 558.9C1101.03 561.13 1097.77 560.1 1104.4 562C1111.03 563.9 1107.67 562.93 1114.3 564.6C1120.93 566.27 1117.63 565.33 1124.3 567C1130.97 568.67 1126.8 567.63 1134.3 569.6C1141.8 571.57 1140.57 571.27 1146.8 572.9C1153.03 574.53 1150.93 573.97 1153 574.5" stroke="#6acc64" stroke-width="4.5"/>
<path d="M141 544C142.33 543.8 136.33 544.23 145 543.4C153.67 542.57 152.03 542.97 167 541.5C181.97 540.03 173.97 541.33 189.9 539C205.83 536.67 198.2 537.6 214.8 534.5C231.4 531.4 227.3 531.8 239.7 529.7C252.1 527.6 243.67 529.03 252 528.2C260.33 527.37 256.37 528.3 264.7 527.2C273.03 526.1 268.7 526.57 277 524.9C285.3 523.23 281.27 524 289.6 522.2C297.93 520.4 293.7 521.3 302 519.5C310.3 517.7 306.17 518.3 314.5 516.8C322.83 515.3 318.7 516.1 327 515C335.3 513.9 330.1 514.7 339.4 513.5C348.7 512.3 346.57 512.63 354.9 511.4C363.23 510.17 356.07 511.67 364.4 509.8C372.73 507.93 371.6 507.73 379.9 505.8C388.2 503.87 381 505.4 389.3 504C397.6 502.6 395.57 502.87 404.8 501.6C414.03 500.33 408.7 501.03 417 500.2C425.3 499.37 421.37 500.17 429.7 499.1C438.03 498.03 433.67 498.5 442 497C450.33 495.5 446.37 496.27 454.7 494.6C463.03 492.93 458.7 493.67 467 492C475.3 490.33 471.27 491.07 479.6 489.6C487.93 488.13 483.7 488.83 492 487.6C500.3 486.37 496.17 486.97 504.5 485.9C512.83 484.83 508.67 485.4 517 484.4C525.33 483.4 520.2 484.53 529.5 482.9C538.8 481.27 536.6 481.07 544.9 479.5C553.2 477.93 546.07 479.73 554.4 478.2C562.73 476.67 561.6 476.3 569.9 474.9C578.2 473.5 571 474.67 579.3 474C587.6 473.33 585.57 473.57 594.8 472.9C604.03 472.23 598.7 472.6 607 472C615.3 471.4 611.37 471.9 619.7 471.1C628.03 470.3 623.67 470.67 632 469.6C640.33 468.53 636.37 469.03 644.7 467.9C653.03 466.77 648.7 467.2 657 466.2C665.3 465.2 661.27 465.5 669.6 464.9C677.93 464.3 673.7 464.63 682 464.4C690.3 464.17 686.17 464.43 694.5 464.2C702.83 463.97 698.67 464.03 707 463.7C715.33 463.37 711.17 463.63 719.5 463.2C727.83 462.77 723.7 462.9 732 462.4C740.3 461.9 735.97 462.3 744.4 461.7C752.83 461.1 749 460.77 757.3 460.6C765.6 460.43 760.97 460.77 769.3 461.2C777.63 461.63 773.97 461.33 782.3 461.9C790.63 462.47 786 462.2 794.3 462.9C802.6 463.6 798.63 463.53 807.2 464C815.77 464.47 810.73 464.23 820 464.3C829.27 464.37 825.13 464.3 835 464.2C844.87 464.1 840.6 463.77 849.6 464C858.6 464.23 853.7 464 862 464.9C870.3 465.8 866.17 465.33 874.5 466.7C882.83 468.07 878.6 467.57 887 469C895.4 470.43 891.37 469.87 899.7 471C908.03 472.13 903.7 471.57 912 472.4C920.3 473.23 916.27 472.9 924.6 473.5C932.93 474.1 928.7 473.7 937 474.2C945.3 474.7 941.17 474 949.5 475C957.83 476 953.67 475.7 962 477.2C970.33 478.7 966.17 477.7 974.5 479.5C982.83 481.3 978.6 480.67 987 482.6C995.4 484.53 991.37 483.83 999.7 485.3C1008.03 486.77 1003.7 485.9 1012 487C1020.3 488.1 1016.27 487.5 1024.6 488.6C1032.93 489.7 1028.7 489.07 1037 490.3C1045.3 491.53 1041.17 490.5 1049.5 492.3C1057.83 494.1 1053.67 493.37 1062 495.7C1070.33 498.03 1066.17 497.27 1074.5 499.3C1082.83 501.33 1078.7 500.23 1087 501.8C1095.3 503.37 1091.07 502.7 1099.4 504C1107.73 505.3 1103.7 504.6 1112 505.7C1120.3 506.8 1116.63 506.1 1124.3 507.3C1131.97 508.5 1127.5 507.8 1135 509.3C1142.5 510.8 1140.8 510.5 1146.8 511.8C1152.8 513.1 1150.93 512.73 1153 513.2" stroke="#fff" stroke-width="8"/>
<path d="M141 544C142.33 543.8 136.33 544.23 145 543.4C153.67 542.57 152.03 542.97 167 541.5C181.97 540.03 173.97 541.33 189.9 539C205.83 536.67 198.2 537.6 214.8 534.5C231.4 531.4 227.3 531.8 239.7 529.7C252.1 527.6 243.67 529.03 252 528.2C260.33 527.37 256.37 528.3 264.7 527.2C273.03 526.1 268.7 526.57 277 524.9C285.3 523.23 281.27 524 289.6 522.2C297.93 520.4 293.7 521.3 302 519.5C310.3 517.7 306.17 518.3 314.5 516.8C322.83 515.3 318.7 516.1 327 515C335.3 513.9 330.1 514.7 339.4 513.5C348.7 512.3 346.57 512.63 354.9 511.4C363.23 510.17 356.07 511.67 364.4 509.8C372.73 507.93 371.6 507.73 379.9 505.8C388.2 503.87 381 505.4 389.3 504C397.6 502.6 395.57 502.87 404.8 501.6C414.03 500.33 408.7 501.03 417 500.2C425.3 499.37 421.37 500.17 429.7 499.1C438.03 498.03 433.67 498.5 442 497C450.33 495.5 446.37 496.27 454.7 494.6C463.03 492.93 458.7 493.67 467 492C475.3 490.33 471.27 491.07 479.6 489.6C487.93 488.13 483.7 488.83 492 487.6C500.3 486.37 496.17 486.97 504.5 485.9C512.83 484.83 508.67 485.4 517 484.4C525.33 483.4 520.2 484.53 529.5 482.9C538.8 481.27 536.6 481.07 544.9 479.5C553.2 477.93 546.07 479.73 554.4 478.2C562.73 476.67 561.6 476.3 569.9 474.9C578.2 473.5 571 474.67 579.3 474C587.6 473.33 585.57 473.57 594.8 472.9C604.03 472.23 598.7 472.6 607 472C615.3 471.4 611.37 471.9 619.7 471.1C628.03 470.3 623.67 470.67 632 469.6C640.33 468.53 636.37 469.03 644.7 467.9C653.03 466.77 648.7 467.2 657 466.2C665.3 465.2 661.27 465.5 669.6 464.9C677.93 464.3 673.7 464.63 682 464.4C690.3 464.17 686.17 464.43 694.5 464.2C702.83 463.97 698.67 464.03 707 463.7C715.33 463.37 711.17 463.63 719.5 463.2C727.83 462.77 723.7 462.9 732 462.4C740.3 461.9 735.97 462.3 744.4 461.7C752.83 461.1 749 460.77 757.3 460.6C765.6 460.43 760.97 460.77 769.3 461.2C777.63 461.63 773.97 461.33 782.3 461.9C790.63 462.47 786 462.2 794.3 462.9C802.6 463.6 798.63 463.53 807.2 464C815.77 464.47 810.73 464.23 820 464.3C829.27 464.37 825.13 464.3 835 464.2C844.87 464.1 840.6 463.77 849.6 464C858.6 464.23 853.7 464 862 464.9C870.3 465.8 866.17 465.33 874.5 466.7C882.83 468.07 878.6 467.57 887 469C895.4 470.43 891.37 469.87 899.7 471C908.03 472.13 903.7 471.57 912 472.4C920.3 473.23 916.27 472.9 924.6 473.5C932.93 474.1 928.7 473.7 937 474.2C945.3 474.7 941.17 474 949.5 475C957.83 476 953.67 475.7 962 477.2C970.33 478.7 966.17 477.7 974.5 479.5C982.83 481.3 978.6 480.67 987 482.6C995.4 484.53 991.37 483.83 999.7 485.3C1008.03 486.77 1003.7 485.9 1012 487C1020.3 488.1 1016.27 487.5 1024.6 488.6C1032.93 489.7 1028.7 489.07 1037 490.3C1045.3 491.53 1041.17 490.5 1049.5 492.3C1057.83 494.1 1053.67 493.37 1062 495.7C1070.33 498.03 1066.17 497.27 1074.5 499.3C1082.83 501.33 1078.7 500.23 1087 501.8C1095.3 503.37 1091.07 502.7 1099.4 504C1107.73 505.3 1103.7 504.6 1112 505.7C1120.3 506.8 1116.63 506.1 1124.3 507.3C1131.97 508.5 1127.5 507.8 1135 509.3C1142.5 510.8 1140.8 510.5 1146.8 511.8C1152.8 513.1 1150.93 512.73 1153 513.2" stroke="#d65f5f" stroke-width="4.5"/>
</g>
<g fill="none" stroke-linecap="butt">
<path d="M882.37 585.31H894.37M888.37 579.31V591.31" stroke="#fff" stroke-width="7"/><path d="M882.37 585.31H894.37M888.37 579.31V591.31" stroke="#000" stroke-width="2"/>
<path d="M847.12 585.74H859.12M853.12 579.74V591.74" stroke="#fff" stroke-width="7"/><path d="M847.12 585.74H859.12M853.12 579.74V591.74" stroke="#000" stroke-width="2"/>
<path d="M852.66 586.63H864.66M858.66 580.63V592.63" stroke="#fff" stroke-width="7"/><path d="M852.66 586.63H864.66M858.66 580.63V592.63" stroke="#000" stroke-width="2"/>
<path d="M771.58 589.33H783.58M777.58 583.33V595.33" stroke="#fff" stroke-width="7"/><path d="M771.58 589.33H783.58M777.58 583.33V595.33" stroke="#000" stroke-width="2"/>
<path d="M833.43 596.02H845.43M839.43 590.02V602.02" stroke="#fff" stroke-width="7"/><path d="M833.43 596.02H845.43M839.43 590.02V602.02" stroke="#000" stroke-width="2"/>
<path d="M825.9 590.47H837.9M831.9 584.47V596.47" stroke="#fff" stroke-width="7"/><path d="M825.9 590.47H837.9M831.9 584.47V596.47" stroke="#000" stroke-width="2"/>
<path d="M750.61 592.31H762.61M756.61 586.31V598.31" stroke="#fff" stroke-width="7"/><path d="M750.61 592.31H762.61M756.61 586.31V598.31" stroke="#000" stroke-width="2"/>
<path d="M517.2 584.98H529.2M523.2 578.98V590.98" stroke="#fff" stroke-width="7"/><path d="M517.2 584.98H529.2M523.2 578.98V590.98" stroke="#000" stroke-width="2"/>
<path d="M918.08 595.76H930.08M924.08 589.76V601.76" stroke="#fff" stroke-width="7"/><path d="M918.08 595.76H930.08M924.08 589.76V601.76" stroke="#000" stroke-width="2"/>
<path d="M430.6 590.92H442.6M436.6 584.92V596.92" stroke="#fff" stroke-width="7"/><path d="M430.6 590.92H442.6M436.6 584.92V596.92" stroke="#000" stroke-width="2"/>
<path d="M891.41 586.71H903.41M897.41 580.71V592.71" stroke="#fff" stroke-width="7"/><path d="M891.41 586.71H903.41M897.41 580.71V592.71" stroke="#000" stroke-width="2"/>
<path d="M832.27 593.75H844.27M838.27 587.75V599.75" stroke="#fff" stroke-width="7"/><path d="M832.27 593.75H844.27M838.27 587.75V599.75" stroke="#000" stroke-width="2"/>
<path d="M826.81 591.36H838.81M832.81 585.36V597.36" stroke="#fff" stroke-width="7"/><path d="M826.81 591.36H838.81M832.81 585.36V597.36" stroke="#000" stroke-width="2"/>
<path d="M839.83 595.55H851.83M845.83 589.55V601.55" stroke="#fff" stroke-width="7"/><path d="M839.83 595.55H851.83M845.83 589.55V601.55" stroke="#000" stroke-width="2"/>
<path d="M878.98 586.14H890.98M884.98 580.14V592.14" stroke="#fff" stroke-width="7"/><path d="M878.98 586.14H890.98M884.98 580.14V592.14" stroke="#000" stroke-width="2"/>
<path d="M789.21 591.61H801.21M795.21 585.61V597.61" stroke="#fff" stroke-width="7"/><path d="M789.21 591.61H801.21M795.21 585.61V597.61" stroke="#000" stroke-width="2"/>
<path d="M822.1 594.53H834.1M828.1 588.53V600.53" stroke="#fff" stroke-width="7"/><path d="M822.1 594.53H834.1M828.1 588.53V600.53" stroke="#000" stroke-width="2"/>
<path d="M857.11 587.61H869.11M863.11 581.61V593.61" stroke="#fff" stroke-width="7"/><path d="M857.11 587.61H869.11M863.11 581.61V593.61" stroke="#000" stroke-width="2"/>
<path d="M881.58 588.2H893.58M887.58 582.2V594.2" stroke="#fff" stroke-width="7"/><path d="M881.58 588.2H893.58M887.58 582.2V594.2" stroke="#000" stroke-width="2"/>
<path d="M816.78 588.34H828.78M822.78 582.34V594.34" stroke="#fff" stroke-width="7"/><path d="M816.78 588.34H828.78M822.78 582.34V594.34" stroke="#000" stroke-width="2"/>
<path d="M827.2 592.64H839.2M833.2 586.64V598.64" stroke="#fff" stroke-width="7"/><path d="M827.2 592.64H839.2M833.2 586.64V598.64" stroke="#000" stroke-width="2"/>
<path d="M908.59 596.81H920.59M914.59 590.81V602.81" stroke="#fff" stroke-width="7"/><path d="M908.59 596.81H920.59M914.59 590.81V602.81" stroke="#000" stroke-width="2"/>
<path d="M864.26 588.88H876.26M870.26 582.88V594.88" stroke="#fff" stroke-width="7"/><path d="M864.26 588.88H876.26M870.26 582.88V594.88" stroke="#000" stroke-width="2"/>
<path d="M440.89 595.05H452.89M446.89 589.05V601.05" stroke="#fff" stroke-width="7"/><path d="M440.89 595.05H452.89M446.89 589.05V601.05" stroke="#000" stroke-width="2"/>
<path d="M860.09 590.32H872.09M866.09 584.32V596.32" stroke="#fff" stroke-width="7"/><path d="M860.09 590.32H872.09M866.09 584.32V596.32" stroke="#000" stroke-width="2"/>
<path d="M942.03 586.87H954.03M948.03 580.87V592.87" stroke="#fff" stroke-width="7"/><path d="M942.03 586.87H954.03M948.03 580.87V592.87" stroke="#000" stroke-width="2"/>
<path d="M887.02 594.77H899.02M893.02 588.77V600.77" stroke="#fff" stroke-width="7"/><path d="M887.02 594.77H899.02M893.02 588.77V600.77" stroke="#000" stroke-width="2"/>
<path d="M925.85 596.66H937.85M931.85 590.66V602.66" stroke="#fff" stroke-width="7"/><path d="M925.85 596.66H937.85M931.85 590.66V602.66" stroke="#000" stroke-width="2"/>
<path d="M855.66 589.9H867.66M861.66 583.9V595.9" stroke="#fff" stroke-width="7"/><path d="M855.66 589.9H867.66M861.66 583.9V595.9" stroke="#000" stroke-width="2"/>
<path d="M766.12 586.48H778.12M772.12 580.48V592.48" stroke="#fff" stroke-width="7"/><path d="M766.12 586.48H778.12M772.12 580.48V592.48" stroke="#000" stroke-width="2"/>
<path d="M383 587.62H395M389 581.62V593.62" stroke="#fff" stroke-width="7"/><path d="M383 587.62H395M389 581.62V593.62" stroke="#000" stroke-width="2"/>
<path d="M877.71 591.36H889.71M883.71 585.36V597.36" stroke="#fff" stroke-width="7"/><path d="M877.71 591.36H889.71M883.71 585.36V597.36" stroke="#000" stroke-width="2"/>
<path d="M725.5 591.54H737.5M731.5 585.54V597.54" stroke="#fff" stroke-width="7"/><path d="M725.5 591.54H737.5M731.5 585.54V597.54" stroke="#000" stroke-width="2"/>
<path d="M796.9 590.43H808.9M802.9 584.43V596.43" stroke="#fff" stroke-width="7"/><path d="M796.9 590.43H808.9M802.9 584.43V596.43" stroke="#000" stroke-width="2"/>
<path d="M490 586.67H502M496 580.67V592.67" stroke="#fff" stroke-width="7"/><path d="M490 586.67H502M496 580.67V592.67" stroke="#000" stroke-width="2"/>
<path d="M845.6 585.73H857.6M851.6 579.73V591.73" stroke="#fff" stroke-width="7"/><path d="M845.6 585.73H857.6M851.6 579.73V591.73" stroke="#000" stroke-width="2"/>
<path d="M459.72 596.92H471.72M465.72 590.92V602.92" stroke="#fff" stroke-width="7"/><path d="M459.72 596.92H471.72M465.72 590.92V602.92" stroke="#000" stroke-width="2"/>
<path d="M840.57 586.56H852.57M846.57 580.56V592.56" stroke="#fff" stroke-width="7"/><path d="M840.57 586.56H852.57M846.57 580.56V592.56" stroke="#000" stroke-width="2"/>
<path d="M827.51 593.67H839.51M833.51 587.67V599.67" stroke="#fff" stroke-width="7"/><path d="M827.51 593.67H839.51M833.51 587.67V599.67" stroke="#000" stroke-width="2"/>
<path d="M802.68 584.85H814.68M808.68 578.85V590.85" stroke="#fff" stroke-width="7"/><path d="M802.68 584.85H814.68M808.68 578.85V590.85" stroke="#000" stroke-width="2"/>
<path d="M930.87 591.54H942.87M936.87 585.54V597.54" stroke="#fff" stroke-width="7"/><path d="M930.87 591.54H942.87M936.87 585.54V597.54" stroke="#000" stroke-width="2"/>
<path d="M467.72 586.98H479.72M473.72 580.98V592.98" stroke="#fff" stroke-width="7"/><path d="M467.72 586.98H479.72M473.72 580.98V592.98" stroke="#000" stroke-width="2"/>
<path d="M845.8 594.83H857.8M851.8 588.83V600.83" stroke="#fff" stroke-width="7"/><path d="M845.8 594.83H857.8M851.8 588.83V600.83" stroke="#000" stroke-width="2"/>
<path d="M930.64 586.45H942.64M936.64 580.45V592.45" stroke="#fff" stroke-width="7"/><path d="M930.64 586.45H942.64M936.64 580.45V592.45" stroke="#000" stroke-width="2"/>
<path d="M833.29 591.63H845.29M839.29 585.63V597.63" stroke="#fff" stroke-width="7"/><path d="M833.29 591.63H845.29M839.29 585.63V597.63" stroke="#000" stroke-width="2"/>
<path d="M411.25 595.04H423.25M417.25 589.04V601.04" stroke="#fff" stroke-width="7"/><path d="M411.25 595.04H423.25M417.25 589.04V601.04" stroke="#000" stroke-width="2"/>
<path d="M884.72 586.46H896.72M890.72 580.46V592.46" stroke="#fff" stroke-width="7"/><path d="M884.72 586.46H896.72M890.72 580.46V592.46" stroke="#000" stroke-width="2"/>
<path d="M405.32 593.16H417.32M411.32 587.16V599.16" stroke="#fff" stroke-width="7"/><path d="M405.32 593.16H417.32M411.32 587.16V599.16" stroke="#000" stroke-width="2"/>
<path d="M516.08 586.48H528.08M522.08 580.48V592.48" stroke="#fff" stroke-width="7"/><path d="M516.08 586.48H528.08M522.08 580.48V592.48" stroke="#000" stroke-width="2"/>
<path d="M854.59 596.99H866.59M860.59 590.99V602.99" stroke="#fff" stroke-width="7"/><path d="M854.59 596.99H866.59M860.59 590.99V602.99" stroke="#000" stroke-width="2"/>
<path d="M926.97 591.88H938.97M932.97 585.88V597.88" stroke="#fff" stroke-width="7"/><path d="M926.97 591.88H938.97M932.97 585.88V597.88" stroke="#000" stroke-width="2"/>
<path d="M359.66 597.04H371.66M365.66 591.04V603.04" stroke="#fff" stroke-width="7"/><path d="M359.66 597.04H371.66M365.66 591.04V603.04" stroke="#000" stroke-width="2"/>
<path d="M836.82 591.96H848.82M842.82 585.96V597.96" stroke="#fff" stroke-width="7"/><path d="M836.82 591.96H848.82M842.82 585.96V597.96" stroke="#000" stroke-width="2"/>
<path d="M807.4 594.08H819.4M813.4 588.08V600.08" stroke="#fff" stroke-width="7"/><path d="M807.4 594.08H819.4M813.4 588.08V600.08" stroke="#000" stroke-width="2"/>
<path d="M837.63 588.12H849.63M843.63 582.12V594.12" stroke="#fff" stroke-width="7"/><path d="M837.63 588.12H849.63M843.63 582.12V594.12" stroke="#000" stroke-width="2"/>
<path d="M448.67 589.87H460.67M454.67 583.87V595.87" stroke="#fff" stroke-width="7"/><path d="M448.67 589.87H460.67M454.67 583.87V595.87" stroke="#000" stroke-width="2"/>
<path d="M744.57 588.02H756.57M750.57 582.02V594.02" stroke="#fff" stroke-width="7"/><path d="M744.57 588.02H756.57M750.57 582.02V594.02" stroke="#000" stroke-width="2"/>
<path d="M432.47 594.9H444.47M438.47 588.9V600.9" stroke="#fff" stroke-width="7"/><path d="M432.47 594.9H444.47M438.47 588.9V600.9" stroke="#000" stroke-width="2"/>
<path d="M377.23 589.47H389.23M383.23 583.47V595.47" stroke="#fff" stroke-width="7"/><path d="M377.23 589.47H389.23M383.23 583.47V595.47" stroke="#000" stroke-width="2"/>
<path d="M868.11 591.89H880.11M874.11 585.89V597.89" stroke="#fff" stroke-width="7"/><path d="M868.11 591.89H880.11M874.11 585.89V597.89" stroke="#000" stroke-width="2"/>
<path d="M503.15 593.21H515.15M509.15 587.21V599.21" stroke="#fff" stroke-width="7"/><path d="M503.15 593.21H515.15M509.15 587.21V599.21" stroke="#000" stroke-width="2"/>
<path d="M383 587.7H395M389 581.7V593.7" stroke="#fff" stroke-width="7"/><path d="M383 587.7H395M389 581.7V593.7" stroke="#000" stroke-width="2"/>
<path d="M787.15 596.55H799.15M793.15 590.55V602.55" stroke="#fff" stroke-width="7"/><path d="M787.15 596.55H799.15M793.15 590.55V602.55" stroke="#000" stroke-width="2"/>
<path d="M872.62 589.04H884.62M878.62 583.04V595.04" stroke="#fff" stroke-width="7"/><path d="M872.62 589.04H884.62M878.62 583.04V595.04" stroke="#000" stroke-width="2"/>
<path d="M812.91 591.97H824.91M818.91 585.97V597.97" stroke="#fff" stroke-width="7"/><path d="M812.91 591.97H824.91M818.91 585.97V597.97" stroke="#000" stroke-width="2"/>
<path d="M814.77 587.98H826.77M820.77 581.98V593.98" stroke="#fff" stroke-width="7"/><path d="M814.77 587.98H826.77M820.77 581.98V593.98" stroke="#000" stroke-width="2"/>
<path d="M820.35 591.99H832.35M826.35 585.99V597.99" stroke="#fff" stroke-width="7"/><path d="M820.35 591.99H832.35M826.35 585.99V597.99" stroke="#000" stroke-width="2"/>
<path d="M853.6 593.97H865.6M859.6 587.97V599.97" stroke="#fff" stroke-width="7"/><path d="M853.6 593.97H865.6M859.6 587.97V599.97" stroke="#000" stroke-width="2"/>
<path d="M810.18 594.84H822.18M816.18 588.84V600.84" stroke="#fff" stroke-width="7"/><path d="M810.18 594.84H822.18M816.18 588.84V600.84" stroke="#000" stroke-width="2"/>
<path d="M416.51 585.89H428.51M422.51 579.89V591.89" stroke="#fff" stroke-width="7"/><path d="M416.51 585.89H428.51M422.51 579.89V591.89" stroke="#000" stroke-width="2"/>
<path d="M829.6 590.92H841.6M835.6 584.92V596.92" stroke="#fff" stroke-width="7"/><path d="M829.6 590.92H841.6M835.6 584.92V596.92" stroke="#000" stroke-width="2"/>
<path d="M744.16 588.55H756.16M750.16 582.55V594.55" stroke="#fff" stroke-width="7"/><path d="M744.16 588.55H756.16M750.16 582.55V594.55" stroke="#000" stroke-width="2"/>
<path d="M869.76 590.44H881.76M875.76 584.44V596.44" stroke="#fff" stroke-width="7"/><path d="M869.76 590.44H881.76M875.76 584.44V596.44" stroke="#000" stroke-width="2"/>
<path d="M825.14 596.48H837.14M831.14 590.48V602.48" stroke="#fff" stroke-width="7"/><path d="M825.14 596.48H837.14M831.14 590.48V602.48" stroke="#000" stroke-width="2"/>
<path d="M824.84 591.27H836.84M830.84 585.27V597.27" stroke="#fff" stroke-width="7"/><path d="M824.84 591.27H836.84M830.84 585.27V597.27" stroke="#000" stroke-width="2"/>
<path d="M487.07 595.12H499.07M493.07 589.12V601.12" stroke="#fff" stroke-width="7"/><path d="M487.07 595.12H499.07M493.07 589.12V601.12" stroke="#000" stroke-width="2"/>
<path d="M809.38 591.91H821.38M815.38 585.91V597.91" stroke="#fff" stroke-width="7"/><path d="M809.38 591.91H821.38M815.38 585.91V597.91" stroke="#000" stroke-width="2"/>
<path d="M778.9 592.27H790.9M784.9 586.27V598.27" stroke="#fff" stroke-width="7"/><path d="M778.9 592.27H790.9M784.9 586.27V598.27" stroke="#000" stroke-width="2"/>
<path d="M858.18 597.47H870.18M864.18 591.47V603.47" stroke="#fff" stroke-width="7"/><path d="M858.18 597.47H870.18M864.18 591.47V603.47" stroke="#000" stroke-width="2"/>
<path d="M729.1 590.35H741.1M735.1 584.35V596.35" stroke="#fff" stroke-width="7"/><path d="M729.1 590.35H741.1M735.1 584.35V596.35" stroke="#000" stroke-width="2"/>
<path d="M804.21 590.86H816.21M810.21 584.86V596.86" stroke="#fff" stroke-width="7"/><path d="M804.21 590.86H816.21M810.21 584.86V596.86" stroke="#000" stroke-width="2"/>
<path d="M419.27 596.45H431.27M425.27 590.45V602.45" stroke="#fff" stroke-width="7"/><path d="M419.27 596.45H431.27M425.27 590.45V602.45" stroke="#000" stroke-width="2"/>
<path d="M789.97 591.22H801.97M795.97 585.22V597.22" stroke="#fff" stroke-width="7"/><path d="M789.97 591.22H801.97M795.97 585.22V597.22" stroke="#000" stroke-width="2"/>
<path d="M925.6 589.14H937.6M931.6 583.14V595.14" stroke="#fff" stroke-width="7"/><path d="M925.6 589.14H937.6M931.6 583.14V595.14" stroke="#000" stroke-width="2"/>
<path d="M836.3 596.87H848.3M842.3 590.87V602.87" stroke="#fff" stroke-width="7"/><path d="M836.3 596.87H848.3M842.3 590.87V602.87" stroke="#000" stroke-width="2"/>
<path d="M455.27 589.94H467.27M461.27 583.94V595.94" stroke="#fff" stroke-width="7"/><path d="M455.27 589.94H467.27M461.27 583.94V595.94" stroke="#000" stroke-width="2"/>
<path d="M808.42 591.43H820.42M814.42 585.43V597.43" stroke="#fff" stroke-width="7"/><path d="M808.42 591.43H820.42M814.42 585.43V597.43" stroke="#000" stroke-width="2"/>
<path d="M879.73 585.62H891.73M885.73 579.62V591.62" stroke="#fff" stroke-width="7"/><path d="M879.73 585.62H891.73M885.73 579.62V591.62" stroke="#000" stroke-width="2"/>
<path d="M493.68 595.38H505.68M499.68 589.38V601.38" stroke="#fff" stroke-width="7"/><path d="M493.68 595.38H505.68M499.68 589.38V601.38" stroke="#000" stroke-width="2"/>
<path d="M366.68 590.52H378.68M372.68 584.52V596.52" stroke="#fff" stroke-width="7"/><path d="M366.68 590.52H378.68M372.68 584.52V596.52" stroke="#000" stroke-width="2"/>
<path d="M877.62 597.24H889.62M883.62 591.24V603.24" stroke="#fff" stroke-width="7"/><path d="M877.62 597.24H889.62M883.62 591.24V603.24" stroke="#000" stroke-width="2"/>
<path d="M375.91 597.02H387.91M381.91 591.02V603.02" stroke="#fff" stroke-width="7"/><path d="M375.91 597.02H387.91M381.91 591.02V603.02" stroke="#000" stroke-width="2"/>
<path d="M862.65 589.14H874.65M868.65 583.14V595.14" stroke="#fff" stroke-width="7"/><path d="M862.65 589.14H874.65M868.65 583.14V595.14" stroke="#000" stroke-width="2"/>
<path d="M933.39 587.85H945.39M939.39 581.85V593.85" stroke="#fff" stroke-width="7"/><path d="M933.39 587.85H945.39M939.39 581.85V593.85" stroke="#000" stroke-width="2"/>
<path d="M891.55 590.2H903.55M897.55 584.2V596.2" stroke="#fff" stroke-width="7"/><path d="M891.55 590.2H903.55M897.55 584.2V596.2" stroke="#000" stroke-width="2"/>
<path d="M865.26 587.31H877.26M871.26 581.31V593.31" stroke="#fff" stroke-width="7"/><path d="M865.26 587.31H877.26M871.26 581.31V593.31" stroke="#000" stroke-width="2"/>
<path d="M899.88 592.1H911.88M905.88 586.1V598.1" stroke="#fff" stroke-width="7"/><path d="M899.88 592.1H911.88M905.88 586.1V598.1" stroke="#000" stroke-width="2"/>
<path d="M922.13 595.84H934.13M928.13 589.84V601.84" stroke="#fff" stroke-width="7"/><path d="M922.13 595.84H934.13M928.13 589.84V601.84" stroke="#000" stroke-width="2"/>
<path d="M842.78 586.36H854.78M848.78 580.36V592.36" stroke="#fff" stroke-width="7"/><path d="M842.78 586.36H854.78M848.78 580.36V592.36" stroke="#000" stroke-width="2"/>
<path d="M877.6 597.41H889.6M883.6 591.41V603.41" stroke="#fff" stroke-width="7"/><path d="M877.6 597.41H889.6M883.6 591.41V603.41" stroke="#000" stroke-width="2"/>
<path d="M851.8 596.28H863.8M857.8 590.28V602.28" stroke="#fff" stroke-width="7"/><path d="M851.8 596.28H863.8M857.8 590.28V602.28" stroke="#000" stroke-width="2"/>
<path d="M435.81 589.06H447.81M441.81 583.06V595.06" stroke="#fff" stroke-width="7"/><path d="M435.81 589.06H447.81M441.81 583.06V595.06" stroke="#000" stroke-width="2"/>
<path d="M815.59 586.16H827.59M821.59 580.16V592.16" stroke="#fff" stroke-width="7"/><path d="M815.59 586.16H827.59M821.59 580.16V592.16" stroke="#000" stroke-width="2"/>
<path d="M912.02 592.92H924.02M918.02 586.92V598.92" stroke="#fff" stroke-width="7"/><path d="M912.02 592.92H924.02M918.02 586.92V598.92" stroke="#000" stroke-width="2"/>
<path d="M878.86 594.89H890.86M884.86 588.89V600.89" stroke="#fff" stroke-width="7"/><path d="M878.86 594.89H890.86M884.86 588.89V600.89" stroke="#000" stroke-width="2"/>
<path d="M771.61 596.45H783.61M777.61 590.45V602.45" stroke="#fff" stroke-width="7"/><path d="M771.61 596.45H783.61M777.61 590.45V602.45" stroke="#000" stroke-width="2"/>
<path d="M388.76 587.42H400.76M394.76 581.42V593.42" stroke="#fff" stroke-width="7"/><path d="M388.76 587.42H400.76M394.76 581.42V593.42" stroke="#000" stroke-width="2"/>
<path d="M901.06 585.95H913.06M907.06 579.95V591.95" stroke="#fff" stroke-width="7"/><path d="M901.06 585.95H913.06M907.06 579.95V591.95" stroke="#000" stroke-width="2"/>
<path d="M854.18 593.25H866.18M860.18 587.25V599.25" stroke="#fff" stroke-width="7"/><path d="M854.18 593.25H866.18M860.18 587.25V599.25" stroke="#000" stroke-width="2"/>
<path d="M852.89 597.18H864.89M858.89 591.18V603.18" stroke="#fff" stroke-width="7"/><path d="M852.89 597.18H864.89M858.89 591.18V603.18" stroke="#000" stroke-width="2"/>
<path d="M890.39 596.47H902.39M896.39 590.47V602.47" stroke="#fff" stroke-width="7"/><path d="M890.39 596.47H902.39M896.39 590.47V602.47" stroke="#000" stroke-width="2"/>
<path d="M920.96 585.65H932.96M926.96 579.65V591.65" stroke="#fff" stroke-width="7"/><path d="M920.96 585.65H932.96M926.96 579.65V591.65" stroke="#000" stroke-width="2"/>
<path d="M893.13 588.11H905.13M899.13 582.11V594.11" stroke="#fff" stroke-width="7"/><path d="M893.13 588.11H905.13M899.13 582.11V594.11" stroke="#000" stroke-width="2"/>
<path d="M499.75 597.35H511.75M505.75 591.35V603.35" stroke="#fff" stroke-width="7"/><path d="M499.75 597.35H511.75M505.75 591.35V603.35" stroke="#000" stroke-width="2"/>
<path d="M845.58 587.88H857.58M851.58 581.88V593.88" stroke="#fff" stroke-width="7"/><path d="M845.58 587.88H857.58M851.58 581.88V593.88" stroke="#000" stroke-width="2"/>
<path d="M902.83 590.24H914.83M908.83 584.24V596.24" stroke="#fff" stroke-width="7"/><path d="M902.83 590.24H914.83M908.83 584.24V596.24" stroke="#000" stroke-width="2"/>
<path d="M462.31 594.08H474.31M468.31 588.08V600.08" stroke="#fff" stroke-width="7"/><path d="M462.31 594.08H474.31M468.31 588.08V600.08" stroke="#000" stroke-width="2"/>
<path d="M869.86 585.05H881.86M875.86 579.05V591.05" stroke="#fff" stroke-width="7"/><path d="M869.86 585.05H881.86M875.86 579.05V591.05" stroke="#000" stroke-width="2"/>
<path d="M790.99 585.04H802.99M796.99 579.04V591.04" stroke="#fff" stroke-width="7"/><path d="M790.99 585.04H802.99M796.99 579.04V591.04" stroke="#000" stroke-width="2"/>
<path d="M512.89 591.82H524.89M518.89 585.82V597.82" stroke="#fff" stroke-width="7"/><path d="M512.89 591.82H524.89M518.89 585.82V597.82" stroke="#000" stroke-width="2"/>
<path d="M938.01 586.2H950.01M944.01 580.2V592.2" stroke="#fff" stroke-width="7"/><path d="M938.01 586.2H950.01M944.01 580.2V592.2" stroke="#000" stroke-width="2"/>
<path d="M899.95 585.54H911.95M905.95 579.54V591.54" stroke="#fff" stroke-width="7"/><path d="M899.95 585.54H911.95M905.95 579.54V591.54" stroke="#000" stroke-width="2"/>
<path d="M356.42 593.66H368.42M362.42 587.66V599.66" stroke="#fff" stroke-width="7"/><path d="M356.42 593.66H368.42M362.42 587.66V599.66" stroke="#000" stroke-width="2"/>
<path d="M758.29 588.12H770.29M764.29 582.12V594.12" stroke="#fff" stroke-width="7"/><path d="M758.29 588.12H770.29M764.29 582.12V594.12" stroke="#000" stroke-width="2"/>
<path d="M473.94 586.73H485.94M479.94 580.73V592.73" stroke="#fff" stroke-width="7"/><path d="M473.94 586.73H485.94M479.94 580.73V592.73" stroke="#000" stroke-width="2"/>
<path d="M425.57 594.81H437.57M431.57 588.81V600.81" stroke="#fff" stroke-width="7"/><path d="M425.57 594.81H437.57M431.57 588.81V600.81" stroke="#000" stroke-width="2"/>
<path d="M430.17 587.09H442.17M436.17 581.09V593.09" stroke="#fff" stroke-width="7"/><path d="M430.17 587.09H442.17M436.17 581.09V593.09" stroke="#000" stroke-width="2"/>
<path d="M852.11 586.78H864.11M858.11 580.78V592.78" stroke="#fff" stroke-width="7"/><path d="M852.11 586.78H864.11M858.11 580.78V592.78" stroke="#000" stroke-width="2"/>
<path d="M391.62 592.79H403.62M397.62 586.79V598.79" stroke="#fff" stroke-width="7"/><path d="M391.62 592.79H403.62M397.62 586.79V598.79" stroke="#000" stroke-width="2"/>
<path d="M802.11 587.01H814.11M808.11 581.01V593.01" stroke="#fff" stroke-width="7"/><path d="M802.11 587.01H814.11M808.11 581.01V593.01" stroke="#000" stroke-width="2"/>
<path d="M895.8 596.57H907.8M901.8 590.57V602.57" stroke="#fff" stroke-width="7"/><path d="M895.8 596.57H907.8M901.8 590.57V602.57" stroke="#000" stroke-width="2"/>
<path d="M798.65 587.14H810.65M804.65 581.14V593.14" stroke="#fff" stroke-width="7"/><path d="M798.65 587.14H810.65M804.65 581.14V593.14" stroke="#000" stroke-width="2"/>
<path d="M884.28 588.26H896.28M890.28 582.26V594.26" stroke="#fff" stroke-width="7"/><path d="M884.28 588.26H896.28M890.28 582.26V594.26" stroke="#000" stroke-width="2"/>
<path d="M831.81 590.59H843.81M837.81 584.59V596.59" stroke="#fff" stroke-width="7"/><path d="M831.81 590.59H843.81M837.81 584.59V596.59" stroke="#000" stroke-width="2"/>
<path d="M422.82 594.4H434.82M428.82 588.4V600.4" stroke="#fff" stroke-width="7"/><path d="M422.82 594.4H434.82M428.82 588.4V600.4" stroke="#000" stroke-width="2"/>
<path d="M401.22 590.94H413.22M407.22 584.94V596.94" stroke="#fff" stroke-width="7"/><path d="M401.22 590.94H413.22M407.22 584.94V596.94" stroke="#000" stroke-width="2"/>
<path d="M506.25 589.29H518.25M512.25 583.29V595.29" stroke="#fff" stroke-width="7"/><path d="M506.25 589.29H518.25M512.25 583.29V595.29" stroke="#000" stroke-width="2"/>
<path d="M889.37 595.28H901.37M895.37 589.28V601.28" stroke="#fff" stroke-width="7"/><path d="M889.37 595.28H901.37M895.37 589.28V601.28" stroke="#000" stroke-width="2"/>
<path d="M782.67 590.18H794.67M788.67 584.18V596.18" stroke="#fff" stroke-width="7"/><path d="M782.67 590.18H794.67M788.67 584.18V596.18" stroke="#000" stroke-width="2"/>
<path d="M417.45 593.26H429.45M423.45 587.26V599.26" stroke="#fff" stroke-width="7"/><path d="M417.45 593.26H429.45M423.45 587.26V599.26" stroke="#000" stroke-width="2"/>
<path d="M908.19 585.73H920.19M914.19 579.73V591.73" stroke="#fff" stroke-width="7"/><path d="M908.19 585.73H920.19M914.19 579.73V591.73" stroke="#000" stroke-width="2"/>
<path d="M469.26 586.43H481.26M475.26 580.43V592.43" stroke="#fff" stroke-width="7"/><path d="M469.26 586.43H481.26M475.26 580.43V592.43" stroke="#000" stroke-width="2"/>
<path d="M402.11 595.56H414.11M408.11 589.56V601.56" stroke="#fff" stroke-width="7"/><path d="M402.11 595.56H414.11M408.11 589.56V601.56" stroke="#000" stroke-width="2"/>
<path d="M912.48 585.87H924.48M918.48 579.87V591.87" stroke="#fff" stroke-width="7"/><path d="M912.48 585.87H924.48M918.48 579.87V591.87" stroke="#000" stroke-width="2"/>
<path d="M835.97 596.86H847.97M841.97 590.86V602.86" stroke="#fff" stroke-width="7"/><path d="M835.97 596.86H847.97M841.97 590.86V602.86" stroke="#000" stroke-width="2"/>
<path d="M479.6 596.38H491.6M485.6 590.38V602.38" stroke="#fff" stroke-width="7"/><path d="M479.6 596.38H491.6M485.6 590.38V602.38" stroke="#000" stroke-width="2"/>
<path d="M736.48 595.96H748.48M742.48 589.96V601.96" stroke="#fff" stroke-width="7"/><path d="M736.48 595.96H748.48M742.48 589.96V601.96" stroke="#000" stroke-width="2"/>
<path d="M820.69 594.68H832.69M826.69 588.68V600.68" stroke="#fff" stroke-width="7"/><path d="M820.69 594.68H832.69M826.69 588.68V600.68" stroke="#000" stroke-width="2"/>
<path d="M763.13 590.16H775.13M769.13 584.16V596.16" stroke="#fff" stroke-width="7"/><path d="M763.13 590.16H775.13M769.13 584.16V596.16" stroke="#000" stroke-width="2"/>
<path d="M749.63 587.88H761.63M755.63 581.88V593.88" stroke="#fff" stroke-width="7"/><path d="M749.63 587.88H761.63M755.63 581.88V593.88" stroke="#000" stroke-width="2"/>
<path d="M929.55 588.23H941.55M935.55 582.23V594.23" stroke="#fff" stroke-width="7"/><path d="M929.55 588.23H941.55M935.55 582.23V594.23" stroke="#000" stroke-width="2"/>
<path d="M902.31 593.61H914.31M908.31 587.61V599.61" stroke="#fff" stroke-width="7"/><path d="M902.31 593.61H914.31M908.31 587.61V599.61" stroke="#000" stroke-width="2"/>
<path d="M830.78 596.85H842.78M836.78 590.85V602.85" stroke="#fff" stroke-width="7"/><path d="M830.78 596.85H842.78M836.78 590.85V602.85" stroke="#000" stroke-width="2"/>
<path d="M871.37 585.03H883.37M877.37 579.03V591.03" stroke="#fff" stroke-width="7"/><path d="M871.37 585.03H883.37M877.37 579.03V591.03" stroke="#000" stroke-width="2"/>
<path d="M857.43 591.04H869.43M863.43 585.04V597.04" stroke="#fff" stroke-width="7"/><path d="M857.43 591.04H869.43M863.43 585.04V597.04" stroke="#000" stroke-width="2"/>
<path d="M846.14 590.46H858.14M852.14 584.46V596.46" stroke="#fff" stroke-width="7"/><path d="M846.14 590.46H858.14M852.14 584.46V596.46" stroke="#000" stroke-width="2"/>
<path d="M448.21 597.24H460.21M454.21 591.24V603.24" stroke="#fff" stroke-width="7"/><path d="M448.21 597.24H460.21M454.21 591.24V603.24" stroke="#000" stroke-width="2"/>
<path d="M923.69 590.61H935.69M929.69 584.61V596.61" stroke="#fff" stroke-width="7"/><path d="M923.69 590.61H935.69M929.69 584.61V596.61" stroke="#000" stroke-width="2"/>
<path d="M776.74 590.66H788.74M782.74 584.66V596.66" stroke="#fff" stroke-width="7"/><path d="M776.74 590.66H788.74M782.74 584.66V596.66" stroke="#000" stroke-width="2"/>
<path d="M853.74 596.1H865.74M859.74 590.1V602.1" stroke="#fff" stroke-width="7"/><path d="M853.74 596.1H865.74M859.74 590.1V602.1" stroke="#000" stroke-width="2"/>
<path d="M862.03 591.4H874.03M868.03 585.4V597.4" stroke="#fff" stroke-width="7"/><path d="M862.03 591.4H874.03M868.03 585.4V597.4" stroke="#000" stroke-width="2"/>
<path d="M728.42 596.75H740.42M734.42 590.75V602.75" stroke="#fff" stroke-width="7"/><path d="M728.42 596.75H740.42M734.42 590.75V602.75" stroke="#000" stroke-width="2"/>
<path d="M872.21 592.79H884.21M878.21 586.79V598.79" stroke="#fff" stroke-width="7"/><path d="M872.21 592.79H884.21M878.21 586.79V598.79" stroke="#000" stroke-width="2"/>
<path d="M859.48 586.87H871.48M865.48 580.87V592.87" stroke="#fff" stroke-width="7"/><path d="M859.48 586.87H871.48M865.48 580.87V592.87" stroke="#000" stroke-width="2"/>
<path d="M911.17 595.06H923.17M917.17 589.06V601.06" stroke="#fff" stroke-width="7"/><path d="M911.17 595.06H923.17M917.17 589.06V601.06" stroke="#000" stroke-width="2"/>
<path d="M366.97 596.79H378.97M372.97 590.79V602.79" stroke="#fff" stroke-width="7"/><path d="M366.97 596.79H378.97M372.97 590.79V602.79" stroke="#000" stroke-width="2"/>
<path d="M388.2 587.32H400.2M394.2 581.32V593.32" stroke="#fff" stroke-width="7"/><path d="M388.2 587.32H400.2M394.2 581.32V593.32" stroke="#000" stroke-width="2"/>
<path d="M781.22 596.37H793.22M787.22 590.37V602.37" stroke="#fff" stroke-width="7"/><path d="M781.22 596.37H793.22M787.22 590.37V602.37" stroke="#000" stroke-width="2"/>
<path d="M373.43 597.45H385.43M379.43 591.45V603.45" stroke="#fff" stroke-width="7"/><path d="M373.43 597.45H385.43M379.43 591.45V603.45" stroke="#000" stroke-width="2"/>
<path d="M817.1 591.3H829.1M823.1 585.3V597.3" stroke="#fff" stroke-width="7"/><path d="M817.1 591.3H829.1M823.1 585.3V597.3" stroke="#000" stroke-width="2"/>
<path d="M792.54 591.5H804.54M798.54 585.5V597.5" stroke="#fff" stroke-width="7"/><path d="M792.54 591.5H804.54M798.54 585.5V597.5" stroke="#000" stroke-width="2"/>
<path d="M523.8 597.23H535.8M529.8 591.23V603.23" stroke="#fff" stroke-width="7"/><path d="M523.8 597.23H535.8M529.8 591.23V603.23" stroke="#000" stroke-width="2"/>
<path d="M860.17 595.46H872.17M866.17 589.46V601.46" stroke="#fff" stroke-width="7"/><path d="M860.17 595.46H872.17M866.17 589.46V601.46" stroke="#000" stroke-width="2"/>
<path d="M848.5 593.37H860.5M854.5 587.37V599.37" stroke="#fff" stroke-width="7"/><path d="M848.5 593.37H860.5M854.5 587.37V599.37" stroke="#000" stroke-width="2"/>
<path d="M803.49 595.03H815.49M809.49 589.03V601.03" stroke="#fff" stroke-width="7"/><path d="M803.49 595.03H815.49M809.49 589.03V601.03" stroke="#000" stroke-width="2"/>
<path d="M739.43 587.5H751.43M745.43 581.5V593.5" stroke="#fff" stroke-width="7"/><path d="M739.43 587.5H751.43M745.43 581.5V593.5" stroke="#000" stroke-width="2"/>
<path d="M870.39 594.04H882.39M876.39 588.04V600.04" stroke="#fff" stroke-width="7"/><path d="M870.39 594.04H882.39M876.39 588.04V600.04" stroke="#000" stroke-width="2"/>
<path d="M804.91 591.92H816.91M810.91 585.92V597.92" stroke="#fff" stroke-width="7"/><path d="M804.91 591.92H816.91M810.91 585.92V597.92" stroke="#000" stroke-width="2"/>
<path d="M900.57 593.77H912.57M906.57 587.77V599.77" stroke="#fff" stroke-width="7"/><path d="M900.57 593.77H912.57M906.57 587.77V599.77" stroke="#000" stroke-width="2"/>
<path d="M808.92 588.97H820.92M814.92 582.97V594.97" stroke="#fff" stroke-width="7"/><path d="M808.92 588.97H820.92M814.92 582.97V594.97" stroke="#000" stroke-width="2"/>
<path d="M734.52 595.37H746.52M740.52 589.37V601.37" stroke="#fff" stroke-width="7"/><path d="M734.52 595.37H746.52M740.52 589.37V601.37" stroke="#000" stroke-width="2"/>
<path d="M718.8 593.12H730.8M724.8 587.12V599.12" stroke="#fff" stroke-width="7"/><path d="M718.8 593.12H730.8M724.8 587.12V599.12" stroke="#000" stroke-width="2"/>
<path d="M396.61 596.32H408.61M402.61 590.32V602.32" stroke="#fff" stroke-width="7"/><path d="M396.61 596.32H408.61M402.61 590.32V602.32" stroke="#000" stroke-width="2"/>
<path d="M266.1 589.6H278.1M272.1 583.6V595.6" stroke="#fff" stroke-width="7"/><path d="M266.1 589.6H278.1M272.1 583.6V595.6" stroke="#000" stroke-width="2"/>
<path d="M284.8 594H296.8M290.8 588V600" stroke="#fff" stroke-width="7"/><path d="M284.8 594H296.8M290.8 588V600" stroke="#000" stroke-width="2"/>
<path d="M534 592H546M540 586V598" stroke="#fff" stroke-width="7"/><path d="M534 592H546M540 586V598" stroke="#000" stroke-width="2"/>
<path d="M558.9 597.5H570.9M564.9 591.5V603.5" stroke="#fff" stroke-width="7"/><path d="M558.9 597.5H570.9M564.9 591.5V603.5" stroke="#000" stroke-width="2"/>
<path d="M575 589.5H587M581 583.5V595.5" stroke="#fff" stroke-width="7"/><path d="M575 589.5H587M581 583.5V595.5" stroke="#000" stroke-width="2"/>
<path d="M581 592H593M587 586V598" stroke="#fff" stroke-width="7"/><path d="M581 592H593M587 586V598" stroke="#000" stroke-width="2"/>
<path d="M608.7 595.8H620.7M614.7 589.8V601.8" stroke="#fff" stroke-width="7"/><path d="M608.7 595.8H620.7M614.7 589.8V601.8" stroke="#000" stroke-width="2"/>
<path d="M644.9 589H656.9M650.9 583V595" stroke="#fff" stroke-width="7"/><path d="M644.9 589H656.9M650.9 583V595" stroke="#000" stroke-width="2"/>
<path d="M676 592.5H688M682 586.5V598.5" stroke="#fff" stroke-width="7"/><path d="M676 592.5H688M682 586.5V598.5" stroke="#000" stroke-width="2"/>
<path d="M688.5 588.3H700.5M694.5 582.3V594.3" stroke="#fff" stroke-width="7"/><path d="M688.5 588.3H700.5M694.5 582.3V594.3" stroke="#000" stroke-width="2"/>
<path d="M708.5 588.6H720.5M714.5 582.6V594.6" stroke="#fff" stroke-width="7"/><path d="M708.5 588.6H720.5M714.5 582.6V594.6" stroke="#000" stroke-width="2"/>
<path d="M952.5 594.5H964.5M958.5 588.5V600.5" stroke="#fff" stroke-width="7"/><path d="M952.5 594.5H964.5M958.5 588.5V600.5" stroke="#000" stroke-width="2"/>
<path d="M960 587.6H972M966 581.6V593.6" stroke="#fff" stroke-width="7"/><path d="M960 587.6H972M966 581.6V593.6" stroke="#000" stroke-width="2"/>
<path d="M982.4 595.8H994.4M988.4 589.8V601.8" stroke="#fff" stroke-width="7"/><path d="M982.4 595.8H994.4M988.4 589.8V601.8" stroke="#000" stroke-width="2"/>
<path d="M987.4 589.6H999.4M993.4 583.6V595.6" stroke="#fff" stroke-width="7"/><path d="M987.4 589.6H999.4M993.4 583.6V595.6" stroke="#000" stroke-width="2"/>
<path d="M1004.4 589.6H1016.4M1010.4 583.6V595.6" stroke="#fff" stroke-width="7"/><path d="M1004.4 589.6H1016.4M1010.4 583.6V595.6" stroke="#000" stroke-width="2"/>
<path d="M1030.6 595.8H1042.6M1036.6 589.8V601.8" stroke="#fff" stroke-width="7"/><path d="M1030.6 595.8H1042.6M1036.6 589.8V601.8" stroke="#000" stroke-width="2"/>
</g>
<g fill="none" stroke-linecap="butt">
<path d="M139.8 27.51C145.43 27.79 145.43 28.21 156.69 28.35C167.94 28.5 162.31 28.32 173.57 27.93C184.83 27.55 179.2 27.73 190.46 27.2C201.71 26.68 196.08 26.44 207.34 26.36C218.6 26.29 212.97 26.45 224.23 26.98C235.48 27.51 229.85 27.53 241.11 27.95C252.37 28.37 246.74 28.29 258 28.23C269.25 28.18 263.62 28.34 274.88 27.79C286.14 27.23 280.51 26.96 291.77 26.57C303.02 26.19 297.39 26.37 308.65 26.63C319.91 26.89 314.28 26.82 325.54 27.34C336.79 27.86 331.16 27.88 342.42 28.18C353.68 28.49 348.05 28.62 359.31 28.25C370.56 27.88 364.93 27.62 376.19 27.08C387.45 26.53 381.82 26.72 393.08 26.61C404.33 26.5 398.7 26.34 409.96 26.74C421.22 27.14 415.59 27.25 426.85 27.81C438.1 28.36 432.47 28.45 443.73 28.4C454.99 28.36 449.36 28.17 460.62 27.68C471.87 27.18 466.24 27.36 477.5 26.93C488.76 26.5 483.13 26.28 494.39 26.39C505.64 26.5 500.01 26.68 511.27 27.27C522.53 27.87 516.9 27.89 528.16 28.18C539.41 28.46 533.78 28.37 545.04 28.13C556.3 27.9 550.67 28.05 561.93 27.48C573.18 26.9 567.55 26.63 578.81 26.41C590.07 26.18 584.44 26.39 595.7 26.8C606.95 27.21 601.32 27.16 612.58 27.65C623.84 28.14 618.21 28.16 629.47 28.28C640.72 28.4 635.09 28.52 646.35 28.02C657.61 27.52 651.98 27.26 663.24 26.78C674.49 26.31 668.86 26.51 680.12 26.59C691.38 26.67 685.75 26.52 697.01 27.02C708.26 27.51 702.63 27.62 713.89 28.06C725.15 28.51 719.52 28.58 730.78 28.35C742.03 28.12 736.4 27.91 747.66 27.37C758.92 26.83 753.29 27.01 764.55 26.73C775.8 26.44 770.17 26.23 781.43 26.52C792.69 26.8 787.06 26.99 798.32 27.59C809.57 28.19 803.94 28.2 815.2 28.32C826.46 28.43 820.83 28.32 832.09 27.94C843.34 27.56 837.71 27.7 848.97 27.17C860.23 26.63 854.6 26.38 865.86 26.34C877.11 26.3 871.48 26.52 882.74 27.05C894 27.58 888.37 27.52 899.63 27.93C910.88 28.34 905.25 28.34 916.51 28.27C927.77 28.21 922.14 28.31 933.39 27.73C944.65 27.16 939.02 26.9 950.28 26.55C961.54 26.19 955.91 26.41 967.17 26.67C978.42 26.93 972.79 26.8 984.05 27.33C995.31 27.85 989.68 27.96 1000.94 28.25C1012.19 28.54 1006.56 28.59 1017.82 28.19C1029.08 27.8 1023.45 27.59 1034.71 27.06C1045.96 26.53 1040.33 26.72 1051.59 26.62C1062.85 26.51 1057.22 26.31 1068.48 26.73C1079.73 27.16 1074.1 27.35 1085.36 27.89C1096.62 28.43 1090.99 28.43 1102.25 28.36C1113.5 28.29 1107.87 28.16 1119.13 27.68C1130.39 27.19 1124.76 27.34 1136.02 26.9C1147.27 26.47 1147.27 26.55 1152.9 26.38" stroke="#fff" stroke-width="8"/>
<path d="M139.8 605.21C145.43 605.05 145.43 604.64 156.69 604.74C167.94 604.84 162.31 604.92 173.57 605.52C184.83 606.12 179.2 606.25 190.46 606.54C201.71 606.83 196.08 606.65 207.34 606.39C218.6 606.14 212.97 606.32 224.23 605.77C235.48 605.22 229.85 604.98 241.11 604.74C252.37 604.49 246.74 604.62 258 605.05C269.25 605.48 263.62 605.53 274.88 606.02C286.14 606.51 280.51 606.42 291.77 606.53C303.02 606.63 297.39 606.82 308.65 606.34C319.91 605.86 314.28 605.59 325.54 605.09C336.79 604.59 331.16 604.75 342.42 604.85C353.68 604.95 348.05 604.9 359.31 605.38C370.56 605.87 364.93 605.87 376.19 606.31C387.45 606.74 381.82 606.91 393.08 606.69C404.33 606.47 398.7 606.21 409.96 605.65C421.22 605.09 415.59 605.27 426.85 605.01C438.1 604.74 432.47 604.59 443.73 604.87C454.99 605.14 449.36 605.23 460.62 605.83C471.87 606.43 466.24 606.55 477.5 606.68C488.76 606.8 483.13 606.6 494.39 606.2C505.64 605.8 500.01 605.98 511.27 605.47C522.53 604.96 516.9 604.72 528.16 604.67C539.41 604.61 533.78 604.76 545.04 605.3C556.3 605.84 550.67 605.89 561.93 606.3C573.18 606.7 567.55 606.6 578.81 606.52C590.07 606.44 584.44 606.61 595.7 606.05C606.95 605.5 601.32 605.22 612.58 604.85C623.84 604.48 618.21 604.66 629.47 604.94C640.72 605.22 635.09 605.17 646.35 605.69C657.61 606.21 651.98 606.21 663.24 606.49C674.49 606.77 668.86 606.92 680.12 606.53C691.38 606.15 685.75 605.89 697.01 605.34C708.26 604.79 702.63 604.98 713.89 604.89C725.15 604.81 719.52 604.67 730.78 605.09C742.03 605.5 736.4 605.59 747.66 606.13C758.92 606.67 753.29 606.78 764.55 606.71C775.8 606.65 770.17 606.44 781.43 605.93C792.69 605.43 787.06 605.61 798.32 605.2C809.57 604.79 803.94 604.58 815.2 604.71C826.46 604.84 820.83 605 832.09 605.6C843.34 606.2 837.71 606.24 848.97 606.51C860.23 606.78 854.6 606.66 865.86 606.41C877.11 606.15 871.48 606.31 882.74 605.74C894 605.17 888.37 604.9 899.63 604.7C910.88 604.49 905.25 604.68 916.51 605.12C927.77 605.55 922.14 605.51 933.39 606C944.65 606.48 939.02 606.47 950.28 606.57C961.54 606.67 955.91 606.8 967.17 606.3C978.42 605.79 972.79 605.52 984.05 605.05C995.31 604.58 989.68 604.78 1000.94 604.89C1012.19 604.99 1006.56 604.87 1017.82 605.36C1029.08 605.86 1023.45 605.95 1034.71 606.38C1045.96 606.8 1040.33 606.89 1051.59 606.64C1062.85 606.4 1057.22 606.17 1068.48 605.63C1079.73 605.08 1074.1 605.27 1085.36 605.01C1096.62 604.75 1090.99 604.55 1102.25 604.85C1113.5 605.15 1107.87 605.32 1119.13 605.91C1130.39 606.51 1124.76 606.54 1136.02 606.64C1147.27 606.74 1147.27 606.35 1152.9 606.2" stroke="#fff" stroke-width="8"/>
<path d="M140.55 31.7C140.53 34.88 140.44 34.88 140.51 41.23C140.58 47.58 140.57 44.4 140.76 50.75C140.95 57.1 140.82 53.92 141.09 60.27C141.35 66.62 141.2 63.45 141.55 69.8C141.9 76.15 141.84 72.98 142.14 79.33C142.44 85.67 142.45 82.5 142.46 88.85C142.48 95.2 142.5 92.02 142.19 98.38C141.89 104.73 141.94 101.55 141.55 107.9C141.15 114.25 141.28 111.08 141.01 117.42C140.73 123.77 140.87 120.6 140.72 126.95C140.57 133.3 140.6 130.12 140.56 136.47C140.52 142.82 140.43 139.65 140.6 146C140.76 152.35 140.65 149.18 141.06 155.53C141.47 161.88 141.39 158.7 141.81 165.05C142.23 171.4 142.16 168.22 142.33 174.57C142.49 180.92 142.42 177.75 142.3 184.1C142.18 190.45 142.2 187.28 141.97 193.62C141.73 199.97 141.86 196.8 141.59 203.15C141.31 209.5 141.47 206.32 141.14 212.67C140.81 219.02 140.87 215.85 140.61 222.2C140.35 228.55 140.33 225.38 140.35 231.72C140.37 238.07 140.34 234.9 140.67 241.25C141.01 247.6 140.95 244.42 141.36 250.77C141.77 257.12 141.65 253.95 141.91 260.3C142.17 266.65 142.04 263.47 142.14 269.82C142.25 276.18 142.23 273 142.22 279.35C142.21 285.7 142.31 282.53 142.11 288.88C141.92 295.22 142.04 292.05 141.63 298.4C141.22 304.75 141.3 301.57 140.89 307.93C140.49 314.28 140.55 311.1 140.42 317.45C140.29 323.8 140.34 320.62 140.5 326.97C140.67 333.32 140.64 330.15 140.92 336.5C141.2 342.85 141.06 339.67 141.34 346.02C141.62 352.38 141.47 349.2 141.77 355.55C142.06 361.9 142.01 358.73 142.23 365.07C142.45 371.42 142.48 368.25 142.42 374.6C142.36 380.95 142.42 377.77 142.05 384.12C141.69 390.48 141.75 387.3 141.33 393.65C140.91 400 141.02 396.82 140.78 403.18C140.54 409.53 140.66 406.35 140.6 412.7C140.55 419.05 140.56 415.87 140.62 422.22C140.68 428.57 140.57 425.4 140.79 431.75C141.01 438.1 140.88 434.92 141.28 441.27C141.68 447.62 141.61 444.45 141.99 450.8C142.37 457.15 142.33 453.98 142.43 460.32C142.52 466.67 142.49 463.5 142.28 469.85C142.06 476.2 142.1 473.02 141.79 479.38C141.47 485.73 141.62 482.55 141.33 488.9C141.05 495.25 141.2 492.07 140.94 498.43C140.67 504.78 140.72 501.6 140.55 507.95C140.38 514.3 140.32 511.12 140.42 517.48C140.52 523.83 140.45 520.65 140.83 527C141.22 533.35 141.15 530.17 141.58 536.52C142.01 542.88 141.9 539.7 142.12 546.05C142.34 552.4 142.24 549.23 142.24 555.58C142.24 561.93 142.25 558.75 142.13 565.1C142.02 571.45 142.15 568.27 141.9 574.62C141.66 580.98 141.8 577.8 141.41 584.15C141.02 590.5 141.08 587.33 140.73 593.68C140.38 600.03 140.47 600.03 140.35 603.2" stroke="#fff" stroke-width="8"/>
<path d="M1152.6 31.5C1152.62 34.68 1152.81 34.68 1152.68 41.03C1152.54 47.38 1152.6 44.2 1152.19 50.56C1151.79 56.91 1151.86 53.73 1151.45 60.09C1151.05 66.44 1151.16 63.26 1150.97 69.61C1150.78 75.97 1150.88 72.79 1150.88 79.14C1150.88 85.49 1150.86 82.32 1150.97 88.67C1151.08 95.02 1150.95 91.85 1151.21 98.2C1151.47 104.55 1151.35 101.37 1151.76 107.73C1152.17 114.08 1152.11 110.9 1152.44 117.26C1152.77 123.61 1152.74 120.43 1152.75 126.78C1152.77 133.14 1152.75 129.96 1152.48 136.31C1152.21 142.66 1152.27 139.49 1151.94 145.84C1151.61 152.19 1151.76 149.02 1151.49 155.37C1151.22 161.72 1151.35 158.54 1151.12 164.9C1150.89 171.25 1150.91 168.07 1150.8 174.43C1150.69 180.78 1150.62 177.6 1150.79 183.95C1150.96 190.31 1150.88 187.13 1151.31 193.48C1151.73 199.83 1151.66 196.66 1152.06 203.01C1152.46 209.36 1152.36 206.19 1152.52 212.54C1152.68 218.89 1152.59 215.71 1152.54 222.07C1152.49 228.42 1152.52 225.24 1152.36 231.59C1152.21 237.95 1152.35 234.77 1152.07 241.12C1151.79 247.48 1151.92 244.3 1151.53 250.65C1151.14 257 1151.19 253.83 1150.9 260.18C1150.6 266.53 1150.61 263.36 1150.64 269.71C1150.66 276.06 1150.66 272.88 1150.97 279.24C1151.28 285.59 1151.22 282.41 1151.57 288.77C1151.93 295.12 1151.78 291.94 1152.04 298.29C1152.3 304.65 1152.17 301.47 1152.35 307.82C1152.54 314.17 1152.53 311 1152.59 317.35C1152.65 323.7 1152.74 320.53 1152.54 326.88C1152.34 333.23 1152.43 330.05 1151.99 336.41C1151.56 342.76 1151.63 339.58 1151.23 345.94C1150.84 352.29 1150.93 349.11 1150.81 355.46C1150.68 361.82 1150.75 358.64 1150.85 364.99C1150.96 371.34 1150.92 368.17 1151.12 374.52C1151.32 380.87 1151.17 377.7 1151.46 384.05C1151.74 390.4 1151.61 387.22 1151.97 393.58C1152.34 399.93 1152.3 396.75 1152.56 403.11C1152.82 409.46 1152.82 406.28 1152.76 412.63C1152.69 418.99 1152.71 415.81 1152.36 422.16C1152.01 428.51 1152.08 425.34 1151.71 431.69C1151.34 438.04 1151.48 434.87 1151.24 441.22C1151 447.57 1151.12 444.39 1150.98 450.75C1150.85 457.1 1150.85 453.92 1150.83 460.28C1150.82 466.63 1150.72 463.45 1150.95 469.8C1151.18 476.16 1151.08 472.98 1151.52 479.33C1151.96 485.68 1151.89 482.51 1152.27 488.86C1152.65 495.21 1152.57 492.04 1152.66 498.39C1152.75 504.74 1152.69 501.56 1152.53 507.92C1152.38 514.27 1152.43 511.09 1152.19 517.44C1151.95 523.8 1152.1 520.62 1151.81 526.97C1151.53 533.33 1151.66 530.15 1151.32 536.5C1150.99 542.85 1151.02 539.68 1150.8 546.03C1150.59 552.38 1150.56 549.21 1150.67 555.56C1150.77 561.91 1150.74 558.73 1151.12 565.09C1151.5 571.44 1151.42 568.26 1151.81 574.62C1152.19 580.97 1152.05 577.79 1152.27 584.14C1152.49 590.5 1152.38 587.32 1152.46 593.67C1152.55 600.02 1152.51 600.02 1152.53 603.2" stroke="#fff" stroke-width="8"/>
<path d="M139.8 27.51C145.43 27.79 145.43 28.21 156.69 28.35C167.94 28.5 162.31 28.32 173.57 27.93C184.83 27.55 179.2 27.73 190.46 27.2C201.71 26.68 196.08 26.44 207.34 26.36C218.6 26.29 212.97 26.45 224.23 26.98C235.48 27.51 229.85 27.53 241.11 27.95C252.37 28.37 246.74 28.29 258 28.23C269.25 28.18 263.62 28.34 274.88 27.79C286.14 27.23 280.51 26.96 291.77 26.57C303.02 26.19 297.39 26.37 308.65 26.63C319.91 26.89 314.28 26.82 325.54 27.34C336.79 27.86 331.16 27.88 342.42 28.18C353.68 28.49 348.05 28.62 359.31 28.25C370.56 27.88 364.93 27.62 376.19 27.08C387.45 26.53 381.82 26.72 393.08 26.61C404.33 26.5 398.7 26.34 409.96 26.74C421.22 27.14 415.59 27.25 426.85 27.81C438.1 28.36 432.47 28.45 443.73 28.4C454.99 28.36 449.36 28.17 460.62 27.68C471.87 27.18 466.24 27.36 477.5 26.93C488.76 26.5 483.13 26.28 494.39 26.39C505.64 26.5 500.01 26.68 511.27 27.27C522.53 27.87 516.9 27.89 528.16 28.18C539.41 28.46 533.78 28.37 545.04 28.13C556.3 27.9 550.67 28.05 561.93 27.48C573.18 26.9 567.55 26.63 578.81 26.41C590.07 26.18 584.44 26.39 595.7 26.8C606.95 27.21 601.32 27.16 612.58 27.65C623.84 28.14 618.21 28.16 629.47 28.28C640.72 28.4 635.09 28.52 646.35 28.02C657.61 27.52 651.98 27.26 663.24 26.78C674.49 26.31 668.86 26.51 680.12 26.59C691.38 26.67 685.75 26.52 697.01 27.02C708.26 27.51 702.63 27.62 713.89 28.06C725.15 28.51 719.52 28.58 730.78 28.35C742.03 28.12 736.4 27.91 747.66 27.37C758.92 26.83 753.29 27.01 764.55 26.73C775.8 26.44 770.17 26.23 781.43 26.52C792.69 26.8 787.06 26.99 798.32 27.59C809.57 28.19 803.94 28.2 815.2 28.32C826.46 28.43 820.83 28.32 832.09 27.94C843.34 27.56 837.71 27.7 848.97 27.17C860.23 26.63 854.6 26.38 865.86 26.34C877.11 26.3 871.48 26.52 882.74 27.05C894 27.58 888.37 27.52 899.63 27.93C910.88 28.34 905.25 28.34 916.51 28.27C927.77 28.21 922.14 28.31 933.39 27.73C944.65 27.16 939.02 26.9 950.28 26.55C961.54 26.19 955.91 26.41 967.17 26.67C978.42 26.93 972.79 26.8 984.05 27.33C995.31 27.85 989.68 27.96 1000.94 28.25C1012.19 28.54 1006.56 28.59 1017.82 28.19C1029.08 27.8 1023.45 27.59 1034.71 27.06C1045.96 26.53 1040.33 26.72 1051.59 26.62C1062.85 26.51 1057.22 26.31 1068.48 26.73C1079.73 27.16 1074.1 27.35 1085.36 27.89C1096.62 28.43 1090.99 28.43 1102.25 28.36C1113.5 28.29 1107.87 28.16 1119.13 27.68C1130.39 27.19 1124.76 27.34 1136.02 26.9C1147.27 26.47 1147.27 26.55 1152.9 26.38" stroke="#000" stroke-width="3"/>
<path d="M139.8 605.21C145.43 605.05 145.43 604.64 156.69 604.74C167.94 604.84 162.31 604.92 173.57 605.52C184.83 606.12 179.2 606.25 190.46 606.54C201.71 606.83 196.08 606.65 207.34 606.39C218.6 606.14 212.97 606.32 224.23 605.77C235.48 605.22 229.85 604.98 241.11 604.74C252.37 604.49 246.74 604.62 258 605.05C269.25 605.48 263.62 605.53 274.88 606.02C286.14 606.51 280.51 606.42 291.77 606.53C303.02 606.63 297.39 606.82 308.65 606.34C319.91 605.86 314.28 605.59 325.54 605.09C336.79 604.59 331.16 604.75 342.42 604.85C353.68 604.95 348.05 604.9 359.31 605.38C370.56 605.87 364.93 605.87 376.19 606.31C387.45 606.74 381.82 606.91 393.08 606.69C404.33 606.47 398.7 606.21 409.96 605.65C421.22 605.09 415.59 605.27 426.85 605.01C438.1 604.74 432.47 604.59 443.73 604.87C454.99 605.14 449.36 605.23 460.62 605.83C471.87 606.43 466.24 606.55 477.5 606.68C488.76 606.8 483.13 606.6 494.39 606.2C505.64 605.8 500.01 605.98 511.27 605.47C522.53 604.96 516.9 604.72 528.16 604.67C539.41 604.61 533.78 604.76 545.04 605.3C556.3 605.84 550.67 605.89 561.93 606.3C573.18 606.7 567.55 606.6 578.81 606.52C590.07 606.44 584.44 606.61 595.7 606.05C606.95 605.5 601.32 605.22 612.58 604.85C623.84 604.48 618.21 604.66 629.47 604.94C640.72 605.22 635.09 605.17 646.35 605.69C657.61 606.21 651.98 606.21 663.24 606.49C674.49 606.77 668.86 606.92 680.12 606.53C691.38 606.15 685.75 605.89 697.01 605.34C708.26 604.79 702.63 604.98 713.89 604.89C725.15 604.81 719.52 604.67 730.78 605.09C742.03 605.5 736.4 605.59 747.66 606.13C758.92 606.67 753.29 606.78 764.55 606.71C775.8 606.65 770.17 606.44 781.43 605.93C792.69 605.43 787.06 605.61 798.32 605.2C809.57 604.79 803.94 604.58 815.2 604.71C826.46 604.84 820.83 605 832.09 605.6C843.34 606.2 837.71 606.24 848.97 606.51C860.23 606.78 854.6 606.66 865.86 606.41C877.11 606.15 871.48 606.31 882.74 605.74C894 605.17 888.37 604.9 899.63 604.7C910.88 604.49 905.25 604.68 916.51 605.12C927.77 605.55 922.14 605.51 933.39 606C944.65 606.48 939.02 606.47 950.28 606.57C961.54 606.67 955.91 606.8 967.17 606.3C978.42 605.79 972.79 605.52 984.05 605.05C995.31 604.58 989.68 604.78 1000.94 604.89C1012.19 604.99 1006.56 604.87 1017.82 605.36C1029.08 605.86 1023.45 605.95 1034.71 606.38C1045.96 606.8 1040.33 606.89 1051.59 606.64C1062.85 606.4 1057.22 606.17 1068.48 605.63C1079.73 605.08 1074.1 605.27 1085.36 605.01C1096.62 604.75 1090.99 604.55 1102.25 604.85C1113.5 605.15 1107.87 605.32 1119.13 605.91C1130.39 606.51 1124.76 606.54 1136.02 606.64C1147.27 606.74 1147.27 606.35 1152.9 606.2" stroke="#000" stroke-width="3"/>
<path d="M140.55 31.7C140.53 34.88 140.44 34.88 140.51 41.23C140.58 47.58 140.57 44.4 140.76 50.75C140.95 57.1 140.82 53.92 141.09 60.27C141.35 66.62 141.2 63.45 141.55 69.8C141.9 76.15 141.84 72.98 142.14 79.33C142.44 85.67 142.45 82.5 142.46 88.85C142.48 95.2 142.5 92.02 142.19 98.38C141.89 104.73 141.94 101.55 141.55 107.9C141.15 114.25 141.28 111.08 141.01 117.42C140.73 123.77 140.87 120.6 140.72 126.95C140.57 133.3 140.6 130.12 140.56 136.47C140.52 142.82 140.43 139.65 140.6 146C140.76 152.35 140.65 149.18 141.06 155.53C141.47 161.88 141.39 158.7 141.81 165.05C142.23 171.4 142.16 168.22 142.33 174.57C142.49 180.92 142.42 177.75 142.3 184.1C142.18 190.45 142.2 187.28 141.97 193.62C141.73 199.97 141.86 196.8 141.59 203.15C141.31 209.5 141.47 206.32 141.14 212.67C140.81 219.02 140.87 215.85 140.61 222.2C140.35 228.55 140.33 225.38 140.35 231.72C140.37 238.07 140.34 234.9 140.67 241.25C141.01 247.6 140.95 244.42 141.36 250.77C141.77 257.12 141.65 253.95 141.91 260.3C142.17 266.65 142.04 263.47 142.14 269.82C142.25 276.18 142.23 273 142.22 279.35C142.21 285.7 142.31 282.53 142.11 288.88C141.92 295.22 142.04 292.05 141.63 298.4C141.22 304.75 141.3 301.57 140.89 307.93C140.49 314.28 140.55 311.1 140.42 317.45C140.29 323.8 140.34 320.62 140.5 326.97C140.67 333.32 140.64 330.15 140.92 336.5C141.2 342.85 141.06 339.67 141.34 346.02C141.62 352.38 141.47 349.2 141.77 355.55C142.06 361.9 142.01 358.73 142.23 365.07C142.45 371.42 142.48 368.25 142.42 374.6C142.36 380.95 142.42 377.77 142.05 384.12C141.69 390.48 141.75 387.3 141.33 393.65C140.91 400 141.02 396.82 140.78 403.18C140.54 409.53 140.66 406.35 140.6 412.7C140.55 419.05 140.56 415.87 140.62 422.22C140.68 428.57 140.57 425.4 140.79 431.75C141.01 438.1 140.88 434.92 141.28 441.27C141.68 447.62 141.61 444.45 141.99 450.8C142.37 457.15 142.33 453.98 142.43 460.32C142.52 466.67 142.49 463.5 142.28 469.85C142.06 476.2 142.1 473.02 141.79 479.38C141.47 485.73 141.62 482.55 141.33 488.9C141.05 495.25 141.2 492.07 140.94 498.43C140.67 504.78 140.72 501.6 140.55 507.95C140.38 514.3 140.32 511.12 140.42 517.48C140.52 523.83 140.45 520.65 140.83 527C141.22 533.35 141.15 530.17 141.58 536.52C142.01 542.88 141.9 539.7 142.12 546.05C142.34 552.4 142.24 549.23 142.24 555.58C142.24 561.93 142.25 558.75 142.13 565.1C142.02 571.45 142.15 568.27 141.9 574.62C141.66 580.98 141.8 577.8 141.41 584.15C141.02 590.5 141.08 587.33 140.73 593.68C140.38 600.03 140.47 600.03 140.35 603.2" stroke="#000" stroke-width="3"/>
<path d="M1152.6 31.5C1152.62 34.68 1152.81 34.68 1152.68 41.03C1152.54 47.38 1152.6 44.2 1152.19 50.56C1151.79 56.91 1151.86 53.73 1151.45 60.09C1151.05 66.44 1151.16 63.26 1150.97 69.61C1150.78 75.97 1150.88 72.79 1150.88 79.14C1150.88 85.49 1150.86 82.32 1150.97 88.67C1151.08 95.02 1150.95 91.85 1151.21 98.2C1151.47 104.55 1151.35 101.37 1151.76 107.73C1152.17 114.08 1152.11 110.9 1152.44 117.26C1152.77 123.61 1152.74 120.43 1152.75 126.78C1152.77 133.14 1152.75 129.96 1152.48 136.31C1152.21 142.66 1152.27 139.49 1151.94 145.84C1151.61 152.19 1151.76 149.02 1151.49 155.37C1151.22 161.72 1151.35 158.54 1151.12 164.9C1150.89 171.25 1150.91 168.07 1150.8 174.43C1150.69 180.78 1150.62 177.6 1150.79 183.95C1150.96 190.31 1150.88 187.13 1151.31 193.48C1151.73 199.83 1151.66 196.66 1152.06 203.01C1152.46 209.36 1152.36 206.19 1152.52 212.54C1152.68 218.89 1152.59 215.71 1152.54 222.07C1152.49 228.42 1152.52 225.24 1152.36 231.59C1152.21 237.95 1152.35 234.77 1152.07 241.12C1151.79 247.48 1151.92 244.3 1151.53 250.65C1151.14 257 1151.19 253.83 1150.9 260.18C1150.6 266.53 1150.61 263.36 1150.64 269.71C1150.66 276.06 1150.66 272.88 1150.97 279.24C1151.28 285.59 1151.22 282.41 1151.57 288.77C1151.93 295.12 1151.78 291.94 1152.04 298.29C1152.3 304.65 1152.17 301.47 1152.35 307.82C1152.54 314.17 1152.53 311 1152.59 317.35C1152.65 323.7 1152.74 320.53 1152.54 326.88C1152.34 333.23 1152.43 330.05 1151.99 336.41C1151.56 342.76 1151.63 339.58 1151.23 345.94C1150.84 352.29 1150.93 349.11 1150.81 355.46C1150.68 361.82 1150.75 358.64 1150.85 364.99C1150.96 371.34 1150.92 368.17 1151.12 374.52C1151.32 380.87 1151.17 377.7 1151.46 384.05C1151.74 390.4 1151.61 387.22 1151.97 393.58C1152.34 399.93 1152.3 396.75 1152.56 403.11C1152.82 409.46 1152.82 406.28 1152.76 412.63C1152.69 418.99 1152.71 415.81 1152.36 422.16C1152.01 428.51 1152.08 425.34 1151.71 431.69C1151.34 438.04 1151.48 434.87 1151.24 441.22C1151 447.57 1151.12 444.39 1150.98 450.75C1150.85 457.1 1150.85 453.92 1150.83 460.28C1150.82 466.63 1150.72 463.45 1150.95 469.8C1151.18 476.16 1151.08 472.98 1151.52 479.33C1151.96 485.68 1151.89 482.51 1152.27 488.86C1152.65 495.21 1152.57 492.04 1152.66 498.39C1152.75 504.74 1152.69 501.56 1152.53 507.92C1152.38 514.27 1152.43 511.09 1152.19 517.44C1151.95 523.8 1152.1 520.62 1151.81 526.97C1151.53 533.33 1151.66 530.15 1151.32 536.5C1150.99 542.85 1151.02 539.68 1150.8 546.03C1150.59 552.38 1150.56 549.21 1150.67 555.56C1150.77 561.91 1150.74 558.73 1151.12 565.09C1151.5 571.44 1151.42 568.26 1151.81 574.62C1152.19 580.97 1152.05 577.79 1152.27 584.14C1152.49 590.5 1152.38 587.32 1152.46 593.67C1152.55 600.02 1152.51 600.02 1152.53 603.2" stroke="#000" stroke-width="3"/>
</g>
<g fill="#000">
<rect x="124" y="23.3" width="13.3" height="6.4"/>
<rect x="124" y="92.16" width="13.3" height="6.4"/>
<rect x="124" y="161.02" width="13.3" height="6.4"/>
<rect x="124" y="229.88" width="13.3" height="6.4"/>
<rect x="124" y="298.74" width="13.3" height="6.4"/>
<rect x="124" y="367.6" width="13.3" height="6.4"/>
<rect x="124" y="436.46" width="13.3" height="6.4"/>
<rect x="124" y="505.32" width="13.3" height="6.4"/>
<rect x="124" y="574.18" width="13.3" height="6.4"/>
<rect x="137.55" y="609.2" width="5.9" height="12.3"/>
<rect x="292.85" y="609.2" width="5.9" height="12.3"/>
<rect x="448.15" y="609.2" width="5.9" height="12.3"/>
<rect x="603.45" y="609.2" width="5.9" height="12.3"/>
<rect x="758.75" y="609.2" width="5.9" height="12.3"/>
<rect x="914.05" y="609.2" width="5.9" height="12.3"/>
<rect x="1069.35" y="609.2" width="5.9" height="12.3"/>
</g>
<path d="M160.2 41.3C215.2 42.6 257.5 40.4 322.5 41.6Q327.5 41.6 327.5 46.3C328.6 121.3 326.5 185.3 327.2 270.3Q327.2 275.3 322.5 275.3C267.5 274.3 225.2 276.3 160.2 275.1Q155.2 275.1 155.2 270.3C154.2 195.3 156.2 131.3 155.2 46.3Q155.2 41.3 160.2 41.3Z" fill="#fff" fill-opacity="0.8" stroke="#fff" stroke-width="7"/>
<path d="M160.2 41.3C215.2 42.6 257.5 40.4 322.5 41.6Q327.5 41.6 327.5 46.3C328.6 121.3 326.5 185.3 327.2 270.3Q327.2 275.3 322.5 275.3C267.5 274.3 225.2 276.3 160.2 275.1Q155.2 275.1 155.2 270.3C154.2 195.3 156.2 131.3 155.2 46.3Q155.2 41.3 160.2 41.3Z" fill="none" stroke="#cccccc" stroke-width="2"/>
<path d="M165 111.4C185 113.1 205 112.5 227 110.7" fill="none" stroke="#fff" stroke-width="8"/><path d="M165 111.4C185 113.1 205 112.5 227 110.7" fill="none" stroke="#4878d0" stroke-width="4.5"/>
<path d="M165 157C185 158.7 205 158.1 227 156.3" fill="none" stroke="#fff" stroke-width="8"/><path d="M165 157C185 158.7 205 158.1 227 156.3" fill="none" stroke="#ee854a" stroke-width="4.5"/>
<path d="M165 202.5C185 204.2 205 203.6 227 201.8" fill="none" stroke="#fff" stroke-width="8"/><path d="M165 202.5C185 204.2 205 203.6 227 201.8" fill="none" stroke="#6acc64" stroke-width="4.5"/>
<path d="M165 248.1C185 249.8 205 249.2 227 247.4" fill="none" stroke="#fff" stroke-width="8"/><path d="M165 248.1C185 249.8 205 249.2 227 247.4" fill="none" stroke="#d65f5f" stroke-width="4.5"/>
<g>
<ellipse cx="65.6" cy="26.85" rx="7.04" ry="10.51" transform="rotate(7 65.6 26.85)" fill="none" stroke="#fff" stroke-width="11.35"/>
<circle cx="77.85" cy="36.78" r="6.12" fill="#fff"/>
<path d="M84.38 16.25C84.1 18.17 84.06 18.33 83.54 22.03C83.02 25.73 83.06 25.56 82.82 27.33" fill="none" stroke="#fff" stroke-width="11.35" stroke-linecap="round" stroke-linejoin="round"/><path d="M82.82 27.33L94.02 26.97" fill="none" stroke="#fff" stroke-width="11.35" stroke-linecap="round" stroke-linejoin="round"/><path d="M94.5 17.69C94.46 20.74 94.59 20.14 94.38 26.85C94.18 33.56 94.06 34.16 93.9 37.82" fill="none" stroke="#fff" stroke-width="11.35" stroke-linecap="round" stroke-linejoin="round"/>
<ellipse cx="107.1" cy="26.85" rx="7.04" ry="10.51" transform="rotate(7 107.1 26.85)" fill="none" stroke="#fff" stroke-width="11.35"/>
<ellipse cx="65.6" cy="95.71" rx="7.04" ry="10.51" transform="rotate(7 65.6 95.71)" fill="none" stroke="#fff" stroke-width="11.35"/>
<circle cx="77.85" cy="105.64" r="6.12" fill="#fff"/>
<path d="M82.11 86.31L94.64 85.59L86.44 94.5" fill="none" stroke="#fff" stroke-width="11.35" stroke-linecap="round" stroke-linejoin="round"/><path d="M86.44 94.5C87.97 94.42 88.21 93.62 91.02 94.26C93.83 94.91 92.99 94.34 94.88 96.43C96.77 98.52 96.93 97.72 96.69 100.53C96.44 103.34 96.52 102.86 94.16 104.87C91.79 106.88 92.55 106.55 89.58 106.55C86.6 106.55 87.25 106.55 85.24 104.87C83.23 103.18 84.11 102.62 83.55 101.49" fill="none" stroke="#fff" stroke-width="11.35" stroke-linecap="round" stroke-linejoin="round"/>
<path d="M114.4 85.71L102.95 85.35L102.23 94.5" fill="none" stroke="#fff" stroke-width="11.35" stroke-linecap="round" stroke-linejoin="round"/><path d="M102.23 94.5C103.15 94.02 103.03 93.7 105 93.06C106.97 92.42 105.96 92.26 108.13 92.58C110.3 92.9 109.7 92.42 111.5 94.02C113.31 95.63 112.91 94.91 113.55 97.4C114.2 99.89 114.44 98.92 113.43 101.49C112.43 104.06 112.95 103.42 110.54 105.11C108.13 106.8 108.69 106.47 106.2 106.55C103.71 106.64 104.6 106.39 103.07 105.35C101.54 104.31 102.11 104.06 101.62 103.42" fill="none" stroke="#fff" stroke-width="11.35" stroke-linecap="round" stroke-linejoin="round"/>
<ellipse cx="63.7" cy="164.57" rx="7.04" ry="10.51" transform="rotate(7 63.7 164.57)" fill="none" stroke="#fff" stroke-width="11.35"/>
<circle cx="75.85" cy="174.5" r="6.12" fill="#fff"/>
<path d="M80.41 155.17L92.94 154.45L84.74 163.37" fill="none" stroke="#fff" stroke-width="11.35" stroke-linecap="round" stroke-linejoin="round"/><path d="M84.74 163.37C86.27 163.28 86.51 162.48 89.32 163.12C92.13 163.77 91.29 163.2 93.18 165.29C95.07 167.38 95.23 166.58 94.99 169.39C94.74 172.2 94.82 171.72 92.46 173.73C90.09 175.74 90.85 175.42 87.88 175.42C84.9 175.42 85.55 175.42 83.54 173.73C81.53 172.04 82.41 171.48 81.85 170.35" fill="none" stroke="#fff" stroke-width="11.35" stroke-linecap="round" stroke-linejoin="round"/>
<ellipse cx="107.1" cy="164.57" rx="7.04" ry="10.51" transform="rotate(7 107.1 164.57)" fill="none" stroke="#fff" stroke-width="11.35"/>
<ellipse cx="66.85" cy="233.43" rx="7.04" ry="10.51" transform="rotate(7 66.85 233.43)" fill="none" stroke="#fff" stroke-width="11.35"/>
<circle cx="78.75" cy="243.36" r="6.12" fill="#fff"/>
<path d="M84.37 227.41C85.17 226.52 84.85 226.08 86.78 224.75C88.71 223.43 87.9 223.83 90.15 223.43C92.4 223.03 91.56 222.87 93.53 223.55C95.5 224.23 95.01 223.87 96.06 225.48C97.1 227.08 97.02 226.36 96.66 228.37C96.3 230.38 96.58 229.49 94.97 231.5C93.37 233.51 94.17 232.31 91.84 234.39C89.51 236.48 90.23 235.68 87.98 237.77C85.73 239.86 86.54 238.73 85.09 240.66C83.65 242.59 84.13 242.59 83.65 243.55" fill="none" stroke="#fff" stroke-width="11.35" stroke-linecap="round" stroke-linejoin="round"/><path d="M83.65 243.67L96.9 243.91" fill="none" stroke="#fff" stroke-width="11.35" stroke-linecap="round" stroke-linejoin="round"/>
<path d="M114.4 223.43L102.95 223.07L102.23 232.22" fill="none" stroke="#fff" stroke-width="11.35" stroke-linecap="round" stroke-linejoin="round"/><path d="M102.23 232.22C103.15 231.74 103.03 231.42 105 230.78C106.97 230.14 105.96 229.98 108.13 230.3C110.3 230.62 109.7 230.14 111.5 231.74C113.31 233.35 112.91 232.63 113.55 235.12C114.2 237.61 114.44 236.64 113.43 239.21C112.43 241.78 112.95 241.14 110.54 242.83C108.13 244.52 108.69 244.19 106.2 244.28C103.71 244.36 104.6 244.11 103.07 243.07C101.54 242.03 102.11 241.78 101.62 241.14" fill="none" stroke="#fff" stroke-width="11.35" stroke-linecap="round" stroke-linejoin="round"/>
<ellipse cx="64.8" cy="302.29" rx="7.04" ry="10.51" transform="rotate(7 64.8 302.29)" fill="none" stroke="#fff" stroke-width="11.35"/>
<circle cx="77.05" cy="312.22" r="6.12" fill="#fff"/>
<path d="M83.07 296.26C83.87 295.38 83.55 294.94 85.48 293.61C87.41 292.29 86.6 292.69 88.85 292.29C91.1 291.89 90.26 291.73 92.23 292.41C94.2 293.09 93.71 292.73 94.76 294.34C95.8 295.94 95.72 295.22 95.36 297.23C95 299.24 95.28 298.35 93.67 300.36C92.07 302.37 92.87 301.17 90.54 303.25C88.21 305.34 88.93 304.54 86.68 306.63C84.43 308.72 85.24 307.59 83.79 309.52C82.35 311.45 82.83 311.45 82.35 312.41" fill="none" stroke="#fff" stroke-width="11.35" stroke-linecap="round" stroke-linejoin="round"/><path d="M82.35 312.53L95.6 312.77" fill="none" stroke="#fff" stroke-width="11.35" stroke-linecap="round" stroke-linejoin="round"/>
<ellipse cx="107.1" cy="302.29" rx="7.04" ry="10.51" transform="rotate(7 107.1 302.29)" fill="none" stroke="#fff" stroke-width="11.35"/>
<ellipse cx="77.5" cy="371.15" rx="7.04" ry="10.51" transform="rotate(7 77.5 371.15)" fill="none" stroke="#fff" stroke-width="11.35"/>
<circle cx="89.75" cy="381.08" r="6.12" fill="#fff"/>
<path d="M96.38 360.79C96.32 363.44 96.47 363.28 96.21 368.74C95.95 374.2 95.87 372.92 95.61 377.18C95.34 381.43 95.48 380.07 95.41 381.51" fill="none" stroke="#fff" stroke-width="11.35" stroke-linecap="round" stroke-linejoin="round"/>
<path d="M114.4 361.15L102.95 360.79L102.23 369.95" fill="none" stroke="#fff" stroke-width="11.35" stroke-linecap="round" stroke-linejoin="round"/><path d="M102.23 369.95C103.15 369.46 103.03 369.14 105 368.5C106.97 367.86 105.96 367.7 108.13 368.02C110.3 368.34 109.7 367.86 111.5 369.46C113.31 371.07 112.91 370.35 113.55 372.84C114.2 375.33 114.44 374.36 113.43 376.93C112.43 379.5 112.95 378.86 110.54 380.55C108.13 382.24 108.69 381.91 106.2 382C103.71 382.08 104.6 381.83 103.07 380.79C101.54 379.75 102.11 379.5 101.62 378.86" fill="none" stroke="#fff" stroke-width="11.35" stroke-linecap="round" stroke-linejoin="round"/>
<ellipse cx="75.55" cy="440.01" rx="7.04" ry="10.51" transform="rotate(7 75.55 440.01)" fill="none" stroke="#fff" stroke-width="11.35"/>
<circle cx="87.85" cy="449.94" r="6.12" fill="#fff"/>
<path d="M94.48 429.65C94.42 432.3 94.57 432.14 94.31 437.6C94.05 443.06 93.97 441.78 93.71 446.03C93.44 450.29 93.58 448.93 93.51 450.37" fill="none" stroke="#fff" stroke-width="11.35" stroke-linecap="round" stroke-linejoin="round"/>
<ellipse cx="107.1" cy="440.01" rx="7.04" ry="10.51" transform="rotate(7 107.1 440.01)" fill="none" stroke="#fff" stroke-width="11.35"/>
<ellipse cx="66" cy="508.87" rx="7.04" ry="10.51" transform="rotate(7 66 508.87)" fill="none" stroke="#fff" stroke-width="11.35"/>
<circle cx="78.25" cy="518.8" r="6.12" fill="#fff"/>
<ellipse cx="90.4" cy="508.87" rx="7.04" ry="10.51" transform="rotate(7 90.4 508.87)" fill="none" stroke="#fff" stroke-width="11.35"/>
<path d="M114.4 498.87L102.95 498.51L102.23 507.67" fill="none" stroke="#fff" stroke-width="11.35" stroke-linecap="round" stroke-linejoin="round"/><path d="M102.23 507.67C103.15 507.18 103.03 506.86 105 506.22C106.97 505.58 105.96 505.42 108.13 505.74C110.3 506.06 109.7 505.58 111.5 507.18C113.31 508.79 112.91 508.07 113.55 510.56C114.2 513.05 114.44 512.08 113.43 514.65C112.43 517.22 112.95 516.58 110.54 518.27C108.13 519.96 108.69 519.63 106.2 519.72C103.71 519.8 104.6 519.55 103.07 518.51C101.54 517.47 102.11 517.22 101.62 516.58" fill="none" stroke="#fff" stroke-width="11.35" stroke-linecap="round" stroke-linejoin="round"/>
<ellipse cx="63.6" cy="577.73" rx="7.04" ry="10.51" transform="rotate(7 63.6 577.73)" fill="none" stroke="#fff" stroke-width="11.35"/>
<circle cx="75.75" cy="587.66" r="6.12" fill="#fff"/>
<ellipse cx="87.8" cy="577.73" rx="7.04" ry="10.51" transform="rotate(7 87.8 577.73)" fill="none" stroke="#fff" stroke-width="11.35"/>
<ellipse cx="107.1" cy="577.73" rx="7.04" ry="10.51" transform="rotate(7 107.1 577.73)" fill="none" stroke="#fff" stroke-width="11.35"/>
<path d="M128.93 642.7L134.96 642.7" fill="none" stroke="#fff" stroke-width="10.6" stroke-linecap="round" stroke-linejoin="round"/>
<path d="M140.62 631.79C140.35 633.65 140.31 633.8 139.8 637.36C139.3 640.92 139.34 640.76 139.11 642.46" fill="none" stroke="#fff" stroke-width="11.35" stroke-linecap="round" stroke-linejoin="round"/><path d="M139.11 642.46L149.9 642.12" fill="none" stroke="#fff" stroke-width="11.35" stroke-linecap="round" stroke-linejoin="round"/><path d="M150.36 633.18C150.32 636.12 150.44 635.54 150.24 642C150.05 648.46 149.93 649.04 149.78 652.56" fill="none" stroke="#fff" stroke-width="11.35" stroke-linecap="round" stroke-linejoin="round"/>
<path d="M284.33 642.7L290.36 642.7" fill="none" stroke="#fff" stroke-width="10.6" stroke-linecap="round" stroke-linejoin="round"/>
<path d="M294.49 636.2C295.26 635.35 294.95 634.92 296.81 633.65C298.66 632.37 297.89 632.76 300.06 632.37C302.22 631.99 301.41 631.83 303.3 632.49C305.2 633.15 304.73 632.8 305.74 634.34C306.75 635.89 306.67 635.19 306.32 637.13C305.97 639.06 306.24 638.21 304.7 640.14C303.15 642.08 303.92 640.92 301.68 642.93C299.44 644.94 300.13 644.17 297.97 646.18C295.8 648.19 296.58 647.1 295.18 648.96C293.79 650.82 294.26 650.82 293.79 651.74" fill="none" stroke="#fff" stroke-width="11.35" stroke-linecap="round" stroke-linejoin="round"/><path d="M293.79 651.86L306.55 652.09" fill="none" stroke="#fff" stroke-width="11.35" stroke-linecap="round" stroke-linejoin="round"/>
<ellipse cx="450.77" cy="642" rx="6.77" ry="10.12" transform="rotate(7 450.77 642)" fill="none" stroke="#fff" stroke-width="11.35"/>
<path d="M600.99 636.2C601.76 635.35 601.45 634.92 603.31 633.65C605.16 632.37 604.39 632.76 606.56 632.37C608.72 631.99 607.91 631.83 609.8 632.49C611.7 633.15 611.23 632.8 612.24 634.34C613.25 635.89 613.17 635.19 612.82 637.13C612.47 639.06 612.74 638.21 611.2 640.14C609.65 642.08 610.42 640.92 608.18 642.93C605.94 644.94 606.63 644.17 604.47 646.18C602.3 648.19 603.08 647.1 601.68 648.96C600.29 650.82 600.76 650.82 600.29 651.74" fill="none" stroke="#fff" stroke-width="11.35" stroke-linecap="round" stroke-linejoin="round"/><path d="M600.29 651.86L613.05 652.09" fill="none" stroke="#fff" stroke-width="11.35" stroke-linecap="round" stroke-linejoin="round"/>
<path d="M757.62 631.79C757.35 633.65 757.31 633.8 756.8 637.36C756.3 640.92 756.34 640.76 756.11 642.46" fill="none" stroke="#fff" stroke-width="11.35" stroke-linecap="round" stroke-linejoin="round"/><path d="M756.11 642.46L766.9 642.12" fill="none" stroke="#fff" stroke-width="11.35" stroke-linecap="round" stroke-linejoin="round"/><path d="M767.36 633.18C767.32 636.12 767.44 635.54 767.24 642C767.05 648.46 766.93 649.04 766.78 652.56" fill="none" stroke="#fff" stroke-width="11.35" stroke-linecap="round" stroke-linejoin="round"/>
<path d="M918.28 631.79C917.12 632.41 916.81 631.56 914.8 633.65C912.79 635.74 913.52 634.89 912.25 638.06C910.97 641.23 911.28 639.91 910.97 643.16C910.66 646.41 910.43 645.17 911.32 647.8C912.21 650.43 911.63 649.62 913.64 651.05C915.65 652.48 914.88 652.25 917.35 652.09C919.83 651.94 919.13 652.25 921.06 650.58C923 648.92 922.84 649.35 923.15 647.1C923.46 644.86 923.62 645.33 921.99 643.86C920.37 642.39 920.91 642.7 918.28 642.7C915.65 642.7 916.35 642.39 914.1 643.86C911.86 645.33 912.4 646.02 911.55 647.1" fill="none" stroke="#fff" stroke-width="11.35" stroke-linecap="round" stroke-linejoin="round"/>
<ellipse cx="1072.67" cy="636.66" rx="5.22" ry="4.64" transform="rotate(0 1072.67 636.66)" fill="none" stroke="#fff" stroke-width="11.35"/><ellipse cx="1072.56" cy="647.68" rx="6.15" ry="4.29" transform="rotate(-18 1072.56 647.68)" fill="none" stroke="#fff" stroke-width="11.35"/>
<ellipse cx="257.86" cy="110.75" rx="7.01" ry="10.46" transform="rotate(7 257.86 110.75)" fill="none" stroke="#fff" stroke-width="11.35"/>
<circle cx="270.14" cy="120.64" r="6.11" fill="#fff"/>
<path d="M276.47 100.43C276.41 103.07 276.56 102.91 276.3 108.35C276.04 113.79 275.96 112.51 275.7 116.75C275.44 120.99 275.57 119.63 275.51 121.07" fill="none" stroke="#fff" stroke-width="11.35" stroke-linecap="round" stroke-linejoin="round"/>
<path d="M282.96 104.75C283.76 103.87 283.44 103.43 285.36 102.11C287.28 100.79 286.48 101.19 288.72 100.79C290.96 100.39 290.12 100.23 292.08 100.91C294.04 101.59 293.56 101.23 294.6 102.83C295.64 104.43 295.56 103.71 295.2 105.71C294.84 107.71 295.12 106.83 293.52 108.83C291.92 110.83 292.72 109.63 290.4 111.71C288.08 113.79 288.8 112.99 286.56 115.07C284.32 117.15 285.12 116.03 283.68 117.95C282.24 119.87 282.72 119.87 282.24 120.83" fill="none" stroke="#fff" stroke-width="11.35" stroke-linecap="round" stroke-linejoin="round"/><path d="M282.24 120.95L295.44 121.19" fill="none" stroke="#fff" stroke-width="11.35" stroke-linecap="round" stroke-linejoin="round"/>
<path d="M312.54 100.79L301.14 100.43L300.42 109.55" fill="none" stroke="#fff" stroke-width="11.35" stroke-linecap="round" stroke-linejoin="round"/><path d="M300.42 109.55C301.34 109.07 301.22 108.75 303.18 108.11C305.14 107.47 304.14 107.31 306.3 107.63C308.46 107.95 307.86 107.47 309.66 109.07C311.46 110.67 311.06 109.95 311.7 112.43C312.34 114.91 312.58 113.95 311.58 116.51C310.58 119.07 311.1 118.43 308.7 120.11C306.3 121.79 306.86 121.47 304.38 121.55C301.9 121.63 302.78 121.39 301.26 120.35C299.74 119.31 300.3 119.07 299.82 118.43" fill="none" stroke="#fff" stroke-width="11.35" stroke-linecap="round" stroke-linejoin="round"/>
<ellipse cx="257.86" cy="156.4" rx="7.01" ry="10.46" transform="rotate(7 257.86 156.4)" fill="none" stroke="#fff" stroke-width="11.35"/>
<circle cx="270.14" cy="166.29" r="6.11" fill="#fff"/>
<path d="M287.64 146.44L276.24 146.08L275.52 155.2" fill="none" stroke="#fff" stroke-width="11.35" stroke-linecap="round" stroke-linejoin="round"/><path d="M275.52 155.2C276.44 154.72 276.32 154.4 278.28 153.76C280.24 153.12 279.24 152.96 281.4 153.28C283.56 153.6 282.96 153.12 284.76 154.72C286.56 156.32 286.16 155.6 286.8 158.08C287.44 160.56 287.68 159.6 286.68 162.16C285.68 164.72 286.2 164.08 283.8 165.76C281.4 167.44 281.96 167.12 279.48 167.2C277 167.28 277.88 167.04 276.36 166C274.84 164.96 275.4 164.72 274.92 164.08" fill="none" stroke="#fff" stroke-width="11.35" stroke-linecap="round" stroke-linejoin="round"/>
<path d="M252.17 191.58C252.11 194.22 252.26 194.06 252 199.5C251.74 204.94 251.66 203.66 251.4 207.9C251.14 212.14 251.27 210.78 251.21 212.22" fill="none" stroke="#fff" stroke-width="11.35" stroke-linecap="round" stroke-linejoin="round"/>
<path d="M252.52 236.94C252.24 238.86 252.2 239.02 251.68 242.7C251.16 246.38 251.2 246.22 250.96 247.98" fill="none" stroke="#fff" stroke-width="11.35" stroke-linecap="round" stroke-linejoin="round"/><path d="M250.96 247.98L262.12 247.62" fill="none" stroke="#fff" stroke-width="11.35" stroke-linecap="round" stroke-linejoin="round"/><path d="M262.6 238.38C262.56 241.42 262.68 240.82 262.48 247.5C262.28 254.18 262.16 254.78 262 258.42" fill="none" stroke="#fff" stroke-width="11.35" stroke-linecap="round" stroke-linejoin="round"/>
<path d="M947.09 36.7C947.86 35.85 947.55 35.42 949.41 34.15C951.26 32.87 950.49 33.26 952.66 32.87C954.82 32.49 954.01 32.33 955.9 32.99C957.8 33.65 957.33 33.3 958.34 34.84C959.35 36.39 959.27 35.69 958.92 37.63C958.57 39.56 958.84 38.71 957.3 40.64C955.75 42.58 956.52 41.42 954.28 43.43C952.04 45.44 952.73 44.67 950.57 46.68C948.4 48.69 949.18 47.6 947.78 49.46C946.39 51.32 946.86 51.32 946.39 52.24" fill="none" stroke="#fff" stroke-width="11.35" stroke-linecap="round" stroke-linejoin="round"/><path d="M946.39 52.36L959.15 52.59" fill="none" stroke="#fff" stroke-width="11.35" stroke-linecap="round" stroke-linejoin="round"/>
<ellipse cx="970.97" cy="42.5" rx="6.77" ry="10.12" transform="rotate(7 970.97 42.5)" fill="none" stroke="#fff" stroke-width="11.35"/>
<ellipse cx="989.67" cy="42.5" rx="6.77" ry="10.12" transform="rotate(7 989.67 42.5)" fill="none" stroke="#fff" stroke-width="11.35"/>
<path d="M613.9 670C613.83 673.33 613.9 672.9 613.7 680C613.5 687.1 613.43 687.53 613.3 691.3" fill="none" stroke="#fff" stroke-width="10.6" stroke-linecap="round" stroke-linejoin="round"/>
<path d="M613.1 670.7C615.43 670.5 616.13 669.33 620.1 670.1C624.07 670.87 623.23 670.43 625 673C626.77 675.57 626.53 674.93 625.4 677.8C624.27 680.67 625.17 680.07 621.6 681.6C618.03 683.13 617 682.13 614.7 682.4" fill="none" stroke="#fff" stroke-width="10.6" stroke-linecap="round" stroke-linejoin="round"/>
<ellipse cx="633.4" cy="684" rx="4.7" ry="6.9" transform="rotate(14 633.4 684)" fill="none" stroke="#fff" stroke-width="10.6"/>
<path d="M643.3 679.3C643.37 681.2 643.3 681.57 643.5 685C643.7 688.43 642.87 687.77 643.9 689.6C644.93 691.43 645.7 690.2 646.6 690.5" fill="none" stroke="#fff" stroke-width="10.6" stroke-linecap="round" stroke-linejoin="round"/>
<circle cx="643.3" cy="674.7" r="5.55" fill="#fff"/>
<path d="M651.4 678.5C651.43 680.67 651.43 680.73 651.5 685C651.57 689.27 651.57 689.2 651.6 691.3" fill="none" stroke="#fff" stroke-width="10.6" stroke-linecap="round" stroke-linejoin="round"/>
<path d="M651.8 682.4C653.07 680.8 652.83 679.4 655.6 677.6C658.37 675.8 657.9 675.67 660.1 677C662.3 678.33 661.5 676.83 662.2 681.6C662.9 686.37 662.2 688.07 662.2 691.3" fill="none" stroke="#fff" stroke-width="10.6" stroke-linecap="round" stroke-linejoin="round"/>
<path d="M673 669.3C672.67 671.87 672.5 671.6 672 677C671.5 682.4 671.17 681.07 671.5 685.5C671.83 689.93 670.83 688.77 673 690.3C675.17 691.83 676.33 690.17 678 690.1" fill="none" stroke="#fff" stroke-width="10.6" stroke-linecap="round" stroke-linejoin="round"/>
<path d="M666.8 676.6L677.7 676.5" fill="none" stroke="#fff" stroke-width="10.6" stroke-linecap="round" stroke-linejoin="round"/>
<path d="M176.1 55.7C176.07 59.13 176 59.37 176 66C176 72.63 176.07 72.4 176.1 75.6" fill="none" stroke="#fff" stroke-width="10.6" stroke-linecap="round" stroke-linejoin="round"/>
<path d="M176.1 55.7C177.93 55.37 178.07 54.3 181.6 54.7C185.13 55.1 184.77 54.97 186.7 56.9C188.63 58.83 188.03 58.43 187.4 60.5C186.77 62.57 187.37 61.93 184.8 63.1C182.23 64.27 181.4 63.7 179.7 64" fill="none" stroke="#fff" stroke-width="10.6" stroke-linecap="round" stroke-linejoin="round"/>
<path d="M179.7 64C181.83 64.43 182.9 63.57 186.1 65.3C189.3 67.03 188.67 66.63 189.3 69.2C189.93 71.77 190.13 70.87 188 73C185.87 75.13 186.87 74.73 182.9 75.6C178.93 76.47 178.37 75.6 176.1 75.6" fill="none" stroke="#fff" stroke-width="10.6" stroke-linecap="round" stroke-linejoin="round"/>
<path d="M202.8 65.3C201.53 64.77 201.47 63.27 199 63.7C196.53 64.13 197.13 63.9 195.4 66.6C193.67 69.3 193.8 68.9 193.8 71.8C193.8 74.7 193.67 74.47 195.4 75.3C197.13 76.13 196.73 76.13 199 74.3C201.27 72.47 200.8 72.8 202.2 69.8C203.6 66.8 202.87 66.8 203.2 65.3" fill="none" stroke="#fff" stroke-width="10.6" stroke-linecap="round" stroke-linejoin="round"/>
<path d="M203.5 64.7C203.27 67.07 202.37 68.37 202.8 71.8C203.23 75.23 203.6 73.63 204.8 75C206 76.37 205.87 75.6 206.4 75.9" fill="none" stroke="#fff" stroke-width="10.6" stroke-linecap="round" stroke-linejoin="round"/>
<path d="M211.5 62.7C211.4 64.8 211.4 64.6 211.2 69C211 73.4 211 73.6 210.9 75.9" fill="none" stroke="#fff" stroke-width="10.6" stroke-linecap="round" stroke-linejoin="round"/>
<path d="M211.2 66.6C212.27 65.1 212.03 63.8 214.4 62.1C216.77 60.4 216.03 60.63 218.3 61.5C220.57 62.37 220.13 60 221.2 64.7C222.27 69.4 221.4 71.97 221.5 75.6" fill="none" stroke="#fff" stroke-width="10.6" stroke-linecap="round" stroke-linejoin="round"/>
<path d="M236.3 64.7C235.03 64.17 235.27 62.47 232.5 63.1C229.73 63.73 229.73 63.7 228 66.6C226.27 69.5 226.67 69.23 227.3 71.8C227.93 74.37 227.77 74.1 229.9 74.3C232.03 74.5 231.57 74.53 233.7 72.4C235.83 70.27 235.43 69.4 236.3 67.9" fill="none" stroke="#fff" stroke-width="10.6" stroke-linecap="round" stroke-linejoin="round"/>
<path d="M236.3 55.3C236.4 58.53 236.37 58.87 236.6 65C236.83 71.13 236.87 70.8 237 73.7" fill="none" stroke="#fff" stroke-width="10.6" stroke-linecap="round" stroke-linejoin="round"/>
<path d="M240.9 63.4L242.5 75" fill="none" stroke="#fff" stroke-width="10.6" stroke-linecap="round" stroke-linejoin="round"/>
<path d="M242.5 75C242.93 75.2 242.2 77 243.8 75.6C245.4 74.2 246.13 72.4 247.3 70.8" fill="none" stroke="#fff" stroke-width="10.6" stroke-linecap="round" stroke-linejoin="round"/>
<path d="M247.3 70.8C248.17 72.3 248.6 73.8 249.9 75.3C251.2 76.8 250.77 75.3 251.2 75.3" fill="none" stroke="#fff" stroke-width="10.6" stroke-linecap="round" stroke-linejoin="round"/>
<path d="M251.2 75.3L254.4 64" fill="none" stroke="#fff" stroke-width="10.6" stroke-linecap="round" stroke-linejoin="round"/>
<path d="M258.6 64.4C258.63 66.27 258.6 66.63 258.7 70C258.8 73.37 257.53 72.93 258.9 74.5C260.27 76.07 261.5 74.63 262.8 74.7" fill="none" stroke="#fff" stroke-width="10.6" stroke-linecap="round" stroke-linejoin="round"/>
<circle cx="259.2" cy="59.8" r="5.8" fill="#fff"/>
<path d="M276.3 64.4C275.13 63.83 275.6 62.17 272.8 62.7C270 63.23 269.93 63.2 267.9 66C265.87 68.8 266.37 68.43 266.7 71.1C267.03 73.77 266.67 73.57 268.9 74C271.13 74.43 270.93 74.43 273.4 72.4C275.87 70.37 275.33 69.4 276.3 67.9" fill="none" stroke="#fff" stroke-width="10.6" stroke-linecap="round" stroke-linejoin="round"/>
<path d="M276.3 55.7C276.33 58.8 276.3 59.1 276.4 65C276.5 70.9 276.53 70.6 276.6 73.4" fill="none" stroke="#fff" stroke-width="10.6" stroke-linecap="round" stroke-linejoin="round"/>
<path d="M286.6 54.4C286.17 58.03 285.5 58.87 285.3 65.3C285.1 71.73 285.03 70.27 286 73.7C286.97 77.13 286.17 75.17 288.2 75.6C290.23 76.03 290.8 75.2 292.1 75" fill="none" stroke="#fff" stroke-width="10.6" stroke-linecap="round" stroke-linejoin="round"/>
<path d="M280.5 61.8L291.4 61.6" fill="none" stroke="#fff" stroke-width="10.6" stroke-linecap="round" stroke-linejoin="round"/>
<path d="M296.6 54.4C296.5 57.93 296.5 58.03 296.3 65C296.1 71.97 296.1 71.87 296 75.3" fill="none" stroke="#fff" stroke-width="10.6" stroke-linecap="round" stroke-linejoin="round"/>
<path d="M296.3 67.9C297.47 66.5 297.33 65.2 299.8 63.7C302.27 62.2 301.67 62.43 303.7 63.4C305.73 64.37 305.03 62.53 305.9 66.6C306.77 70.67 306.17 72.6 306.3 75.6" fill="none" stroke="#fff" stroke-width="10.6" stroke-linecap="round" stroke-linejoin="round"/>
<path d="M920 52.9L919.7 33.2L931.6 52.9L932.4 32" fill="none" stroke="#fff" stroke-width="11.4" stroke-linecap="round" stroke-linejoin="round"/>
<path d="M935.9 43.3L941.7 43" fill="none" stroke="#fff" stroke-width="10.5" stroke-linecap="round" stroke-linejoin="round"/>
<path d="M935.9 46.6L941.7 46.3" fill="none" stroke="#fff" stroke-width="10.5" stroke-linecap="round" stroke-linejoin="round"/>
<path d="M1010 41.7C1009.83 44.47 1009.93 43.97 1009.5 50C1009.07 56.03 1008.97 56.53 1008.7 59.8" fill="none" stroke="#fff" stroke-width="10.6" stroke-linecap="round" stroke-linejoin="round"/>
<path d="M1010 43.5C1011.57 42.5 1011.7 40.93 1014.7 40.5C1017.7 40.07 1017.7 39.77 1019 42.2C1020.3 44.63 1019.87 44.67 1018.6 47.8C1017.33 50.93 1018.2 50.33 1015.2 51.6C1012.2 52.87 1011.47 51.6 1009.6 51.6" fill="none" stroke="#fff" stroke-width="10.6" stroke-linecap="round" stroke-linejoin="round"/>
<ellipse cx="1028.9" cy="45.6" rx="4.8" ry="6.6" transform="rotate(14 1028.9 45.6)" fill="none" stroke="#fff" stroke-width="10.6"/>
<path d="M1038.8 41.3C1038.83 43.2 1038.73 43.5 1038.9 47C1039.07 50.5 1038.07 49.97 1039.3 51.8C1040.53 53.63 1041.5 52.27 1042.6 52.5" fill="none" stroke="#fff" stroke-width="10.6" stroke-linecap="round" stroke-linejoin="round"/>
<circle cx="1039" cy="36.6" r="5.7" fill="#fff"/>
<path d="M1047.4 40.5C1047.3 42.67 1047.27 42.73 1047.1 47C1046.93 51.27 1046.97 51.2 1046.9 53.3" fill="none" stroke="#fff" stroke-width="10.6" stroke-linecap="round" stroke-linejoin="round"/>
<path d="M1047.4 44.3C1048.83 42.43 1048.87 40.7 1051.7 38.7C1054.53 36.7 1053.77 36.7 1055.9 38.3C1058.03 39.9 1057.37 38.63 1058.1 43.5C1058.83 48.37 1058.1 49.77 1058.1 52.9" fill="none" stroke="#fff" stroke-width="10.6" stroke-linecap="round" stroke-linejoin="round"/>
<path d="M1068.4 30.6C1068.03 33.07 1067.87 32.87 1067.3 38C1066.73 43.13 1066.47 41.53 1066.7 46C1066.93 50.47 1065.73 49.4 1068 51.4C1070.27 53.4 1071.67 51.8 1073.5 52" fill="none" stroke="#fff" stroke-width="10.6" stroke-linecap="round" stroke-linejoin="round"/>
<path d="M1062.4 38.3L1073.5 37.9" fill="none" stroke="#fff" stroke-width="10.6" stroke-linecap="round" stroke-linejoin="round"/>
<path d="M1085.1 42.6C1083.83 42.17 1083.43 40.73 1081.3 41.3C1079.17 41.87 1078.57 42.43 1078.7 44.3C1078.83 46.17 1079.4 45.33 1081.7 46.9C1084 48.47 1085.03 47.3 1085.6 49C1086.17 50.7 1086 51.13 1083.4 52C1080.8 52.87 1079.67 51.73 1077.8 51.6" fill="none" stroke="#fff" stroke-width="10.6" stroke-linecap="round" stroke-linejoin="round"/>
<path d="M17.1 364.3L37.9 364.7" fill="none" stroke="#fff" stroke-width="10.6" stroke-linecap="round" stroke-linejoin="round"/>
<path d="M17.1 363.8C17.3 361.5 16.4 360.8 17.7 356.9C19 353 18.43 354.13 21 352.1C23.57 350.07 22.2 350.37 25.4 350.8C28.6 351.23 27.13 350.8 30.6 353.4C34.07 356 33.37 354.97 35.8 358.6C38.23 362.23 37.2 362.4 37.9 364.3" fill="none" stroke="#fff" stroke-width="10.6" stroke-linecap="round" stroke-linejoin="round"/>
<path d="M31.6 346.5C31.6 343.73 32.8 341.4 31.6 338.2C30.4 335 30.07 336.17 28 336.9C25.93 337.63 26.27 337.8 25.4 340.4C24.53 343 24.27 342.4 25.4 344.7C26.53 347 25.93 346.57 28.8 347.3C31.67 348.03 31.1 348.03 34 346.9C36.9 345.77 36.2 346.67 37.5 343.9C38.8 341.13 37.77 340.37 37.9 338.6" fill="none" stroke="#fff" stroke-width="10.6" stroke-linecap="round" stroke-linejoin="round"/>
<path d="M24.1 331.7L38.4 331.7" fill="none" stroke="#fff" stroke-width="10.6" stroke-linecap="round" stroke-linejoin="round"/>
<path d="M28 331.3C26.83 330 25.8 330.17 24.5 327.4C23.2 324.63 22.93 325.17 24.1 323C25.27 320.83 23.23 321.6 28 320.9C32.77 320.2 34.93 320.9 38.4 320.9" fill="none" stroke="#fff" stroke-width="10.6" stroke-linecap="round" stroke-linejoin="round"/>
<path d="M26.9 308.6C26.53 309.5 25.6 309.57 25.8 311.3C26 313.03 26.1 312.67 27.5 313.8C28.9 314.93 28.57 314.7 30 314.7C31.43 314.7 31.3 315.17 31.8 313.8C32.3 312.43 31.73 312.4 31.5 310.6C31.27 308.8 30.5 309.57 31.1 308.4C31.7 307.23 31.6 307.1 33.3 307.1C35 307.1 34.7 307 36.2 308.4C37.7 309.8 37.43 309.5 37.8 311.3C38.17 313.1 38.07 312.53 37.3 313.8C36.53 315.07 36.1 314.67 35.5 315.1" fill="none" stroke="#fff" stroke-width="10.6" stroke-linecap="round" stroke-linejoin="round"/>
<path d="M26.2 302C27.8 301.97 27.8 301.97 31 301.9C34.2 301.83 33.47 302.2 35.8 301.8C38.13 301.4 37.5 301.73 38 300.7C38.5 299.67 37.53 299.37 37.3 298.7" fill="none" stroke="#fff" stroke-width="10.6" stroke-linecap="round" stroke-linejoin="round"/>
<circle cx="22" cy="301.8" r="5.75" fill="#fff"/>
<path d="M15.5 289.1C19 289.07 18.97 289.07 26 289C33.03 288.93 32.53 289.57 36.6 288.9C40.67 288.23 37.9 288.67 38.2 287C38.5 285.33 37.73 284.93 37.5 283.9" fill="none" stroke="#fff" stroke-width="10.6" stroke-linecap="round" stroke-linejoin="round"/>
<path d="M23.6 295.2L23.6 283.9" fill="none" stroke="#fff" stroke-width="10.6" stroke-linecap="round" stroke-linejoin="round"/>
<path d="M26.2 276.9C28.53 277.07 29.73 278.27 33.2 277.4C36.67 276.53 35.6 277.2 36.6 274.3C37.6 271.4 36.33 270.57 36.2 268.7" fill="none" stroke="#fff" stroke-width="10.6" stroke-linecap="round" stroke-linejoin="round"/>
<path d="M26.2 267.6C29.67 267.37 31.23 266.4 36.6 266.9C41.97 267.4 39.53 266.9 42.3 269.1C45.07 271.3 44.9 270.17 44.9 273.5C44.9 276.83 43.17 277.23 42.3 279.1" fill="none" stroke="#fff" stroke-width="10.6" stroke-linecap="round" stroke-linejoin="round"/>
<ellipse cx="65.6" cy="26.85" rx="7.04" ry="10.51" transform="rotate(7 65.6 26.85)" fill="none" stroke="#000" stroke-width="3.35"/>
<circle cx="77.85" cy="36.78" r="2.12" fill="#000"/>
<path d="M84.38 16.25C84.1 18.17 84.06 18.33 83.54 22.03C83.02 25.73 83.06 25.56 82.82 27.33" fill="none" stroke="#000" stroke-width="3.35" stroke-linecap="round" stroke-linejoin="round"/><path d="M82.82 27.33L94.02 26.97" fill="none" stroke="#000" stroke-width="3.35" stroke-linecap="round" stroke-linejoin="round"/><path d="M94.5 17.69C94.46 20.74 94.59 20.14 94.38 26.85C94.18 33.56 94.06 34.16 93.9 37.82" fill="none" stroke="#000" stroke-width="3.35" stroke-linecap="round" stroke-linejoin="round"/>
<ellipse cx="107.1" cy="26.85" rx="7.04" ry="10.51" transform="rotate(7 107.1 26.85)" fill="none" stroke="#000" stroke-width="3.35"/>
<ellipse cx="65.6" cy="95.71" rx="7.04" ry="10.51" transform="rotate(7 65.6 95.71)" fill="none" stroke="#000" stroke-width="3.35"/>
<circle cx="77.85" cy="105.64" r="2.12" fill="#000"/>
<path d="M82.11 86.31L94.64 85.59L86.44 94.5" fill="none" stroke="#000" stroke-width="3.35" stroke-linecap="round" stroke-linejoin="round"/><path d="M86.44 94.5C87.97 94.42 88.21 93.62 91.02 94.26C93.83 94.91 92.99 94.34 94.88 96.43C96.77 98.52 96.93 97.72 96.69 100.53C96.44 103.34 96.52 102.86 94.16 104.87C91.79 106.88 92.55 106.55 89.58 106.55C86.6 106.55 87.25 106.55 85.24 104.87C83.23 103.18 84.11 102.62 83.55 101.49" fill="none" stroke="#000" stroke-width="3.35" stroke-linecap="round" stroke-linejoin="round"/>
<path d="M114.4 85.71L102.95 85.35L102.23 94.5" fill="none" stroke="#000" stroke-width="3.35" stroke-linecap="round" stroke-linejoin="round"/><path d="M102.23 94.5C103.15 94.02 103.03 93.7 105 93.06C106.97 92.42 105.96 92.26 108.13 92.58C110.3 92.9 109.7 92.42 111.5 94.02C113.31 95.63 112.91 94.91 113.55 97.4C114.2 99.89 114.44 98.92 113.43 101.49C112.43 104.06 112.95 103.42 110.54 105.11C108.13 106.8 108.69 106.47 106.2 106.55C103.71 106.64 104.6 106.39 103.07 105.35C101.54 104.31 102.11 104.06 101.62 103.42" fill="none" stroke="#000" stroke-width="3.35" stroke-linecap="round" stroke-linejoin="round"/>
<ellipse cx="63.7" cy="164.57" rx="7.04" ry="10.51" transform="rotate(7 63.7 164.57)" fill="none" stroke="#000" stroke-width="3.35"/>
<circle cx="75.85" cy="174.5" r="2.12" fill="#000"/>
<path d="M80.41 155.17L92.94 154.45L84.74 163.37" fill="none" stroke="#000" stroke-width="3.35" stroke-linecap="round" stroke-linejoin="round"/><path d="M84.74 163.37C86.27 163.28 86.51 162.48 89.32 163.12C92.13 163.77 91.29 163.2 93.18 165.29C95.07 167.38 95.23 166.58 94.99 169.39C94.74 172.2 94.82 171.72 92.46 173.73C90.09 175.74 90.85 175.42 87.88 175.42C84.9 175.42 85.55 175.42 83.54 173.73C81.53 172.04 82.41 171.48 81.85 170.35" fill="none" stroke="#000" stroke-width="3.35" stroke-linecap="round" stroke-linejoin="round"/>
<ellipse cx="107.1" cy="164.57" rx="7.04" ry="10.51" transform="rotate(7 107.1 164.57)" fill="none" stroke="#000" stroke-width="3.35"/>
<ellipse cx="66.85" cy="233.43" rx="7.04" ry="10.51" transform="rotate(7 66.85 233.43)" fill="none" stroke="#000" stroke-width="3.35"/>
<circle cx="78.75" cy="243.36" r="2.12" fill="#000"/>
<path d="M84.37 227.41C85.17 226.52 84.85 226.08 86.78 224.75C88.71 223.43 87.9 223.83 90.15 223.43C92.4 223.03 91.56 222.87 93.53 223.55C95.5 224.23 95.01 223.87 96.06 225.48C97.1 227.08 97.02 226.36 96.66 228.37C96.3 230.38 96.58 229.49 94.97 231.5C93.37 233.51 94.17 232.31 91.84 234.39C89.51 236.48 90.23 235.68 87.98 237.77C85.73 239.86 86.54 238.73 85.09 240.66C83.65 242.59 84.13 242.59 83.65 243.55" fill="none" stroke="#000" stroke-width="3.35" stroke-linecap="round" stroke-linejoin="round"/><path d="M83.65 243.67L96.9 243.91" fill="none" stroke="#000" stroke-width="3.35" stroke-linecap="round" stroke-linejoin="round"/>
<path d="M114.4 223.43L102.95 223.07L102.23 232.22" fill="none" stroke="#000" stroke-width="3.35" stroke-linecap="round" stroke-linejoin="round"/><path d="M102.23 232.22C103.15 231.74 103.03 231.42 105 230.78C106.97 230.14 105.96 229.98 108.13 230.3C110.3 230.62 109.7 230.14 111.5 231.74C113.31 233.35 112.91 232.63 113.55 235.12C114.2 237.61 114.44 236.64 113.43 239.21C112.43 241.78 112.95 241.14 110.54 242.83C108.13 244.52 108.69 244.19 106.2 244.28C103.71 244.36 104.6 244.11 103.07 243.07C101.54 242.03 102.11 241.78 101.62 241.14" fill="none" stroke="#000" stroke-width="3.35" stroke-linecap="round" stroke-linejoin="round"/>
<ellipse cx="64.8" cy="302.29" rx="7.04" ry="10.51" transform="rotate(7 64.8 302.29)" fill="none" stroke="#000" stroke-width="3.35"/>
<circle cx="77.05" cy="312.22" r="2.12" fill="#000"/>
<path d="M83.07 296.26C83.87 295.38 83.55 294.94 85.48 293.61C87.41 292.29 86.6 292.69 88.85 292.29C91.1 291.89 90.26 291.73 92.23 292.41C94.2 293.09 93.71 292.73 94.76 294.34C95.8 295.94 95.72 295.22 95.36 297.23C95 299.24 95.28 298.35 93.67 300.36C92.07 302.37 92.87 301.17 90.54 303.25C88.21 305.34 88.93 304.54 86.68 306.63C84.43 308.72 85.24 307.59 83.79 309.52C82.35 311.45 82.83 311.45 82.35 312.41" fill="none" stroke="#000" stroke-width="3.35" stroke-linecap="round" stroke-linejoin="round"/><path d="M82.35 312.53L95.6 312.77" fill="none" stroke="#000" stroke-width="3.35" stroke-linecap="round" stroke-linejoin="round"/>
<ellipse cx="107.1" cy="302.29" rx="7.04" ry="10.51" transform="rotate(7 107.1 302.29)" fill="none" stroke="#000" stroke-width="3.35"/>
<ellipse cx="77.5" cy="371.15" rx="7.04" ry="10.51" transform="rotate(7 77.5 371.15)" fill="none" stroke="#000" stroke-width="3.35"/>
<circle cx="89.75" cy="381.08" r="2.12" fill="#000"/>
<path d="M96.38 360.79C96.32 363.44 96.47 363.28 96.21 368.74C95.95 374.2 95.87 372.92 95.61 377.18C95.34 381.43 95.48 380.07 95.41 381.51" fill="none" stroke="#000" stroke-width="3.35" stroke-linecap="round" stroke-linejoin="round"/>
<path d="M114.4 361.15L102.95 360.79L102.23 369.95" fill="none" stroke="#000" stroke-width="3.35" stroke-linecap="round" stroke-linejoin="round"/><path d="M102.23 369.95C103.15 369.46 103.03 369.14 105 368.5C106.97 367.86 105.96 367.7 108.13 368.02C110.3 368.34 109.7 367.86 111.5 369.46C113.31 371.07 112.91 370.35 113.55 372.84C114.2 375.33 114.44 374.36 113.43 376.93C112.43 379.5 112.95 378.86 110.54 380.55C108.13 382.24 108.69 381.91 106.2 382C103.71 382.08 104.6 381.83 103.07 380.79C101.54 379.75 102.11 379.5 101.62 378.86" fill="none" stroke="#000" stroke-width="3.35" stroke-linecap="round" stroke-linejoin="round"/>
<ellipse cx="75.55" cy="440.01" rx="7.04" ry="10.51" transform="rotate(7 75.55 440.01)" fill="none" stroke="#000" stroke-width="3.35"/>
<circle cx="87.85" cy="449.94" r="2.12" fill="#000"/>
<path d="M94.48 429.65C94.42 432.3 94.57 432.14 94.31 437.6C94.05 443.06 93.97 441.78 93.71 446.03C93.44 450.29 93.58 448.93 93.51 450.37" fill="none" stroke="#000" stroke-width="3.35" stroke-linecap="round" stroke-linejoin="round"/>
<ellipse cx="107.1" cy="440.01" rx="7.04" ry="10.51" transform="rotate(7 107.1 440.01)" fill="none" stroke="#000" stroke-width="3.35"/>
<ellipse cx="66" cy="508.87" rx="7.04" ry="10.51" transform="rotate(7 66 508.87)" fill="none" stroke="#000" stroke-width="3.35"/>
<circle cx="78.25" cy="518.8" r="2.12" fill="#000"/>
<ellipse cx="90.4" cy="508.87" rx="7.04" ry="10.51" transform="rotate(7 90.4 508.87)" fill="none" stroke="#000" stroke-width="3.35"/>
<path d="M114.4 498.87L102.95 498.51L102.23 507.67" fill="none" stroke="#000" stroke-width="3.35" stroke-linecap="round" stroke-linejoin="round"/><path d="M102.23 507.67C103.15 507.18 103.03 506.86 105 506.22C106.97 505.58 105.96 505.42 108.13 505.74C110.3 506.06 109.7 505.58 111.5 507.18C113.31 508.79 112.91 508.07 113.55 510.56C114.2 513.05 114.44 512.08 113.43 514.65C112.43 517.22 112.95 516.58 110.54 518.27C108.13 519.96 108.69 519.63 106.2 519.72C103.71 519.8 104.6 519.55 103.07 518.51C101.54 517.47 102.11 517.22 101.62 516.58" fill="none" stroke="#000" stroke-width="3.35" stroke-linecap="round" stroke-linejoin="round"/>
<ellipse cx="63.6" cy="577.73" rx="7.04" ry="10.51" transform="rotate(7 63.6 577.73)" fill="none" stroke="#000" stroke-width="3.35"/>
<circle cx="75.75" cy="587.66" r="2.12" fill="#000"/>
<ellipse cx="87.8" cy="577.73" rx="7.04" ry="10.51" transform="rotate(7 87.8 577.73)" fill="none" stroke="#000" stroke-width="3.35"/>
<ellipse cx="107.1" cy="577.73" rx="7.04" ry="10.51" transform="rotate(7 107.1 577.73)" fill="none" stroke="#000" stroke-width="3.35"/>
<path d="M128.93 642.7L134.96 642.7" fill="none" stroke="#000" stroke-width="2.6" stroke-linecap="round" stroke-linejoin="round"/>
<path d="M140.62 631.79C140.35 633.65 140.31 633.8 139.8 637.36C139.3 640.92 139.34 640.76 139.11 642.46" fill="none" stroke="#000" stroke-width="3.35" stroke-linecap="round" stroke-linejoin="round"/><path d="M139.11 642.46L149.9 642.12" fill="none" stroke="#000" stroke-width="3.35" stroke-linecap="round" stroke-linejoin="round"/><path d="M150.36 633.18C150.32 636.12 150.44 635.54 150.24 642C150.05 648.46 149.93 649.04 149.78 652.56" fill="none" stroke="#000" stroke-width="3.35" stroke-linecap="round" stroke-linejoin="round"/>
<path d="M284.33 642.7L290.36 642.7" fill="none" stroke="#000" stroke-width="2.6" stroke-linecap="round" stroke-linejoin="round"/>
<path d="M294.49 636.2C295.26 635.35 294.95 634.92 296.81 633.65C298.66 632.37 297.89 632.76 300.06 632.37C302.22 631.99 301.41 631.83 303.3 632.49C305.2 633.15 304.73 632.8 305.74 634.34C306.75 635.89 306.67 635.19 306.32 637.13C305.97 639.06 306.24 638.21 304.7 640.14C303.15 642.08 303.92 640.92 301.68 642.93C299.44 644.94 300.13 644.17 297.97 646.18C295.8 648.19 296.58 647.1 295.18 648.96C293.79 650.82 294.26 650.82 293.79 651.74" fill="none" stroke="#000" stroke-width="3.35" stroke-linecap="round" stroke-linejoin="round"/><path d="M293.79 651.86L306.55 652.09" fill="none" stroke="#000" stroke-width="3.35" stroke-linecap="round" stroke-linejoin="round"/>
<ellipse cx="450.77" cy="642" rx="6.77" ry="10.12" transform="rotate(7 450.77 642)" fill="none" stroke="#000" stroke-width="3.35"/>
<path d="M600.99 636.2C601.76 635.35 601.45 634.92 603.31 633.65C605.16 632.37 604.39 632.76 606.56 632.37C608.72 631.99 607.91 631.83 609.8 632.49C611.7 633.15 611.23 632.8 612.24 634.34C613.25 635.89 613.17 635.19 612.82 637.13C612.47 639.06 612.74 638.21 611.2 640.14C609.65 642.08 610.42 640.92 608.18 642.93C605.94 644.94 606.63 644.17 604.47 646.18C602.3 648.19 603.08 647.1 601.68 648.96C600.29 650.82 600.76 650.82 600.29 651.74" fill="none" stroke="#000" stroke-width="3.35" stroke-linecap="round" stroke-linejoin="round"/><path d="M600.29 651.86L613.05 652.09" fill="none" stroke="#000" stroke-width="3.35" stroke-linecap="round" stroke-linejoin="round"/>
<path d="M757.62 631.79C757.35 633.65 757.31 633.8 756.8 637.36C756.3 640.92 756.34 640.76 756.11 642.46" fill="none" stroke="#000" stroke-width="3.35" stroke-linecap="round" stroke-linejoin="round"/><path d="M756.11 642.46L766.9 642.12" fill="none" stroke="#000" stroke-width="3.35" stroke-linecap="round" stroke-linejoin="round"/><path d="M767.36 633.18C767.32 636.12 767.44 635.54 767.24 642C767.05 648.46 766.93 649.04 766.78 652.56" fill="none" stroke="#000" stroke-width="3.35" stroke-linecap="round" stroke-linejoin="round"/>
<path d="M918.28 631.79C917.12 632.41 916.81 631.56 914.8 633.65C912.79 635.74 913.52 634.89 912.25 638.06C910.97 641.23 911.28 639.91 910.97 643.16C910.66 646.41 910.43 645.17 911.32 647.8C912.21 650.43 911.63 649.62 913.64 651.05C915.65 652.48 914.88 652.25 917.35 652.09C919.83 651.94 919.13 652.25 921.06 650.58C923 648.92 922.84 649.35 923.15 647.1C923.46 644.86 923.62 645.33 921.99 643.86C920.37 642.39 920.91 642.7 918.28 642.7C915.65 642.7 916.35 642.39 914.1 643.86C911.86 645.33 912.4 646.02 911.55 647.1" fill="none" stroke="#000" stroke-width="3.35" stroke-linecap="round" stroke-linejoin="round"/>
<ellipse cx="1072.67" cy="636.66" rx="5.22" ry="4.64" transform="rotate(0 1072.67 636.66)" fill="none" stroke="#000" stroke-width="3.35"/><ellipse cx="1072.56" cy="647.68" rx="6.15" ry="4.29" transform="rotate(-18 1072.56 647.68)" fill="none" stroke="#000" stroke-width="3.35"/>
<ellipse cx="257.86" cy="110.75" rx="7.01" ry="10.46" transform="rotate(7 257.86 110.75)" fill="none" stroke="#000" stroke-width="3.35"/>
<circle cx="270.14" cy="120.64" r="2.11" fill="#000"/>
<path d="M276.47 100.43C276.41 103.07 276.56 102.91 276.3 108.35C276.04 113.79 275.96 112.51 275.7 116.75C275.44 120.99 275.57 119.63 275.51 121.07" fill="none" stroke="#000" stroke-width="3.35" stroke-linecap="round" stroke-linejoin="round"/>
<path d="M282.96 104.75C283.76 103.87 283.44 103.43 285.36 102.11C287.28 100.79 286.48 101.19 288.72 100.79C290.96 100.39 290.12 100.23 292.08 100.91C294.04 101.59 293.56 101.23 294.6 102.83C295.64 104.43 295.56 103.71 295.2 105.71C294.84 107.71 295.12 106.83 293.52 108.83C291.92 110.83 292.72 109.63 290.4 111.71C288.08 113.79 288.8 112.99 286.56 115.07C284.32 117.15 285.12 116.03 283.68 117.95C282.24 119.87 282.72 119.87 282.24 120.83" fill="none" stroke="#000" stroke-width="3.35" stroke-linecap="round" stroke-linejoin="round"/><path d="M282.24 120.95L295.44 121.19" fill="none" stroke="#000" stroke-width="3.35" stroke-linecap="round" stroke-linejoin="round"/>
<path d="M312.54 100.79L301.14 100.43L300.42 109.55" fill="none" stroke="#000" stroke-width="3.35" stroke-linecap="round" stroke-linejoin="round"/><path d="M300.42 109.55C301.34 109.07 301.22 108.75 303.18 108.11C305.14 107.47 304.14 107.31 306.3 107.63C308.46 107.95 307.86 107.47 309.66 109.07C311.46 110.67 311.06 109.95 311.7 112.43C312.34 114.91 312.58 113.95 311.58 116.51C310.58 119.07 311.1 118.43 308.7 120.11C306.3 121.79 306.86 121.47 304.38 121.55C301.9 121.63 302.78 121.39 301.26 120.35C299.74 119.31 300.3 119.07 299.82 118.43" fill="none" stroke="#000" stroke-width="3.35" stroke-linecap="round" stroke-linejoin="round"/>
<ellipse cx="257.86" cy="156.4" rx="7.01" ry="10.46" transform="rotate(7 257.86 156.4)" fill="none" stroke="#000" stroke-width="3.35"/>
<circle cx="270.14" cy="166.29" r="2.11" fill="#000"/>
<path d="M287.64 146.44L276.24 146.08L275.52 155.2" fill="none" stroke="#000" stroke-width="3.35" stroke-linecap="round" stroke-linejoin="round"/><path d="M275.52 155.2C276.44 154.72 276.32 154.4 278.28 153.76C280.24 153.12 279.24 152.96 281.4 153.28C283.56 153.6 282.96 153.12 284.76 154.72C286.56 156.32 286.16 155.6 286.8 158.08C287.44 160.56 287.68 159.6 286.68 162.16C285.68 164.72 286.2 164.08 283.8 165.76C281.4 167.44 281.96 167.12 279.48 167.2C277 167.28 277.88 167.04 276.36 166C274.84 164.96 275.4 164.72 274.92 164.08" fill="none" stroke="#000" stroke-width="3.35" stroke-linecap="round" stroke-linejoin="round"/>
<path d="M252.17 191.58C252.11 194.22 252.26 194.06 252 199.5C251.74 204.94 251.66 203.66 251.4 207.9C251.14 212.14 251.27 210.78 251.21 212.22" fill="none" stroke="#000" stroke-width="3.35" stroke-linecap="round" stroke-linejoin="round"/>
<path d="M252.52 236.94C252.24 238.86 252.2 239.02 251.68 242.7C251.16 246.38 251.2 246.22 250.96 247.98" fill="none" stroke="#000" stroke-width="3.35" stroke-linecap="round" stroke-linejoin="round"/><path d="M250.96 247.98L262.12 247.62" fill="none" stroke="#000" stroke-width="3.35" stroke-linecap="round" stroke-linejoin="round"/><path d="M262.6 238.38C262.56 241.42 262.68 240.82 262.48 247.5C262.28 254.18 262.16 254.78 262 258.42" fill="none" stroke="#000" stroke-width="3.35" stroke-linecap="round" stroke-linejoin="round"/>
<path d="M947.09 36.7C947.86 35.85 947.55 35.42 949.41 34.15C951.26 32.87 950.49 33.26 952.66 32.87C954.82 32.49 954.01 32.33 955.9 32.99C957.8 33.65 957.33 33.3 958.34 34.84C959.35 36.39 959.27 35.69 958.92 37.63C958.57 39.56 958.84 38.71 957.3 40.64C955.75 42.58 956.52 41.42 954.28 43.43C952.04 45.44 952.73 44.67 950.57 46.68C948.4 48.69 949.18 47.6 947.78 49.46C946.39 51.32 946.86 51.32 946.39 52.24" fill="none" stroke="#000" stroke-width="3.35" stroke-linecap="round" stroke-linejoin="round"/><path d="M946.39 52.36L959.15 52.59" fill="none" stroke="#000" stroke-width="3.35" stroke-linecap="round" stroke-linejoin="round"/>
<ellipse cx="970.97" cy="42.5" rx="6.77" ry="10.12" transform="rotate(7 970.97 42.5)" fill="none" stroke="#000" stroke-width="3.35"/>
<ellipse cx="989.67" cy="42.5" rx="6.77" ry="10.12" transform="rotate(7 989.67 42.5)" fill="none" stroke="#000" stroke-width="3.35"/>
<path d="M613.9 670C613.83 673.33 613.9 672.9 613.7 680C613.5 687.1 613.43 687.53 613.3 691.3" fill="none" stroke="#000" stroke-width="2.6" stroke-linecap="round" stroke-linejoin="round"/>
<path d="M613.1 670.7C615.43 670.5 616.13 669.33 620.1 670.1C624.07 670.87 623.23 670.43 625 673C626.77 675.57 626.53 674.93 625.4 677.8C624.27 680.67 625.17 680.07 621.6 681.6C618.03 683.13 617 682.13 614.7 682.4" fill="none" stroke="#000" stroke-width="2.6" stroke-linecap="round" stroke-linejoin="round"/>
<ellipse cx="633.4" cy="684" rx="4.7" ry="6.9" transform="rotate(14 633.4 684)" fill="none" stroke="#000" stroke-width="2.6"/>
<path d="M643.3 679.3C643.37 681.2 643.3 681.57 643.5 685C643.7 688.43 642.87 687.77 643.9 689.6C644.93 691.43 645.7 690.2 646.6 690.5" fill="none" stroke="#000" stroke-width="2.6" stroke-linecap="round" stroke-linejoin="round"/>
<circle cx="643.3" cy="674.7" r="1.55" fill="#000"/>
<path d="M651.4 678.5C651.43 680.67 651.43 680.73 651.5 685C651.57 689.27 651.57 689.2 651.6 691.3" fill="none" stroke="#000" stroke-width="2.6" stroke-linecap="round" stroke-linejoin="round"/>
<path d="M651.8 682.4C653.07 680.8 652.83 679.4 655.6 677.6C658.37 675.8 657.9 675.67 660.1 677C662.3 678.33 661.5 676.83 662.2 681.6C662.9 686.37 662.2 688.07 662.2 691.3" fill="none" stroke="#000" stroke-width="2.6" stroke-linecap="round" stroke-linejoin="round"/>
<path d="M673 669.3C672.67 671.87 672.5 671.6 672 677C671.5 682.4 671.17 681.07 671.5 685.5C671.83 689.93 670.83 688.77 673 690.3C675.17 691.83 676.33 690.17 678 690.1" fill="none" stroke="#000" stroke-width="2.6" stroke-linecap="round" stroke-linejoin="round"/>
<path d="M666.8 676.6L677.7 676.5" fill="none" stroke="#000" stroke-width="2.6" stroke-linecap="round" stroke-linejoin="round"/>
<path d="M176.1 55.7C176.07 59.13 176 59.37 176 66C176 72.63 176.07 72.4 176.1 75.6" fill="none" stroke="#000" stroke-width="2.6" stroke-linecap="round" stroke-linejoin="round"/>
<path d="M176.1 55.7C177.93 55.37 178.07 54.3 181.6 54.7C185.13 55.1 184.77 54.97 186.7 56.9C188.63 58.83 188.03 58.43 187.4 60.5C186.77 62.57 187.37 61.93 184.8 63.1C182.23 64.27 181.4 63.7 179.7 64" fill="none" stroke="#000" stroke-width="2.6" stroke-linecap="round" stroke-linejoin="round"/>
<path d="M179.7 64C181.83 64.43 182.9 63.57 186.1 65.3C189.3 67.03 188.67 66.63 189.3 69.2C189.93 71.77 190.13 70.87 188 73C185.87 75.13 186.87 74.73 182.9 75.6C178.93 76.47 178.37 75.6 176.1 75.6" fill="none" stroke="#000" stroke-width="2.6" stroke-linecap="round" stroke-linejoin="round"/>
<path d="M202.8 65.3C201.53 64.77 201.47 63.27 199 63.7C196.53 64.13 197.13 63.9 195.4 66.6C193.67 69.3 193.8 68.9 193.8 71.8C193.8 74.7 193.67 74.47 195.4 75.3C197.13 76.13 196.73 76.13 199 74.3C201.27 72.47 200.8 72.8 202.2 69.8C203.6 66.8 202.87 66.8 203.2 65.3" fill="none" stroke="#000" stroke-width="2.6" stroke-linecap="round" stroke-linejoin="round"/>
<path d="M203.5 64.7C203.27 67.07 202.37 68.37 202.8 71.8C203.23 75.23 203.6 73.63 204.8 75C206 76.37 205.87 75.6 206.4 75.9" fill="none" stroke="#000" stroke-width="2.6" stroke-linecap="round" stroke-linejoin="round"/>
<path d="M211.5 62.7C211.4 64.8 211.4 64.6 211.2 69C211 73.4 211 73.6 210.9 75.9" fill="none" stroke="#000" stroke-width="2.6" stroke-linecap="round" stroke-linejoin="round"/>
<path d="M211.2 66.6C212.27 65.1 212.03 63.8 214.4 62.1C216.77 60.4 216.03 60.63 218.3 61.5C220.57 62.37 220.13 60 221.2 64.7C222.27 69.4 221.4 71.97 221.5 75.6" fill="none" stroke="#000" stroke-width="2.6" stroke-linecap="round" stroke-linejoin="round"/>
<path d="M236.3 64.7C235.03 64.17 235.27 62.47 232.5 63.1C229.73 63.73 229.73 63.7 228 66.6C226.27 69.5 226.67 69.23 227.3 71.8C227.93 74.37 227.77 74.1 229.9 74.3C232.03 74.5 231.57 74.53 233.7 72.4C235.83 70.27 235.43 69.4 236.3 67.9" fill="none" stroke="#000" stroke-width="2.6" stroke-linecap="round" stroke-linejoin="round"/>
<path d="M236.3 55.3C236.4 58.53 236.37 58.87 236.6 65C236.83 71.13 236.87 70.8 237 73.7" fill="none" stroke="#000" stroke-width="2.6" stroke-linecap="round" stroke-linejoin="round"/>
<path d="M240.9 63.4L242.5 75" fill="none" stroke="#000" stroke-width="2.6" stroke-linecap="round" stroke-linejoin="round"/>
<path d="M242.5 75C242.93 75.2 242.2 77 243.8 75.6C245.4 74.2 246.13 72.4 247.3 70.8" fill="none" stroke="#000" stroke-width="2.6" stroke-linecap="round" stroke-linejoin="round"/>
<path d="M247.3 70.8C248.17 72.3 248.6 73.8 249.9 75.3C251.2 76.8 250.77 75.3 251.2 75.3" fill="none" stroke="#000" stroke-width="2.6" stroke-linecap="round" stroke-linejoin="round"/>
<path d="M251.2 75.3L254.4 64" fill="none" stroke="#000" stroke-width="2.6" stroke-linecap="round" stroke-linejoin="round"/>
<path d="M258.6 64.4C258.63 66.27 258.6 66.63 258.7 70C258.8 73.37 257.53 72.93 258.9 74.5C260.27 76.07 261.5 74.63 262.8 74.7" fill="none" stroke="#000" stroke-width="2.6" stroke-linecap="round" stroke-linejoin="round"/>
<circle cx="259.2" cy="59.8" r="1.8" fill="#000"/>
<path d="M276.3 64.4C275.13 63.83 275.6 62.17 272.8 62.7C270 63.23 269.93 63.2 267.9 66C265.87 68.8 266.37 68.43 266.7 71.1C267.03 73.77 266.67 73.57 268.9 74C271.13 74.43 270.93 74.43 273.4 72.4C275.87 70.37 275.33 69.4 276.3 67.9" fill="none" stroke="#000" stroke-width="2.6" stroke-linecap="round" stroke-linejoin="round"/>
<path d="M276.3 55.7C276.33 58.8 276.3 59.1 276.4 65C276.5 70.9 276.53 70.6 276.6 73.4" fill="none" stroke="#000" stroke-width="2.6" stroke-linecap="round" stroke-linejoin="round"/>
<path d="M286.6 54.4C286.17 58.03 285.5 58.87 285.3 65.3C285.1 71.73 285.03 70.27 286 73.7C286.97 77.13 286.17 75.17 288.2 75.6C290.23 76.03 290.8 75.2 292.1 75" fill="none" stroke="#000" stroke-width="2.6" stroke-linecap="round" stroke-linejoin="round"/>
<path d="M280.5 61.8L291.4 61.6" fill="none" stroke="#000" stroke-width="2.6" stroke-linecap="round" stroke-linejoin="round"/>
<path d="M296.6 54.4C296.5 57.93 296.5 58.03 296.3 65C296.1 71.97 296.1 71.87 296 75.3" fill="none" stroke="#000" stroke-width="2.6" stroke-linecap="round" stroke-linejoin="round"/>
<path d="M296.3 67.9C297.47 66.5 297.33 65.2 299.8 63.7C302.27 62.2 301.67 62.43 303.7 63.4C305.73 64.37 305.03 62.53 305.9 66.6C306.77 70.67 306.17 72.6 306.3 75.6" fill="none" stroke="#000" stroke-width="2.6" stroke-linecap="round" stroke-linejoin="round"/>
<path d="M920 52.9L919.7 33.2L931.6 52.9L932.4 32" fill="none" stroke="#000" stroke-width="3.4" stroke-linecap="round" stroke-linejoin="round"/>
<path d="M935.9 43.3L941.7 43" fill="none" stroke="#000" stroke-width="2.5" stroke-linecap="round" stroke-linejoin="round"/>
<path d="M935.9 46.6L941.7 46.3" fill="none" stroke="#000" stroke-width="2.5" stroke-linecap="round" stroke-linejoin="round"/>
<path d="M1010 41.7C1009.83 44.47 1009.93 43.97 1009.5 50C1009.07 56.03 1008.97 56.53 1008.7 59.8" fill="none" stroke="#000" stroke-width="2.6" stroke-linecap="round" stroke-linejoin="round"/>
<path d="M1010 43.5C1011.57 42.5 1011.7 40.93 1014.7 40.5C1017.7 40.07 1017.7 39.77 1019 42.2C1020.3 44.63 1019.87 44.67 1018.6 47.8C1017.33 50.93 1018.2 50.33 1015.2 51.6C1012.2 52.87 1011.47 51.6 1009.6 51.6" fill="none" stroke="#000" stroke-width="2.6" stroke-linecap="round" stroke-linejoin="round"/>
<ellipse cx="1028.9" cy="45.6" rx="4.8" ry="6.6" transform="rotate(14 1028.9 45.6)" fill="none" stroke="#000" stroke-width="2.6"/>
<path d="M1038.8 41.3C1038.83 43.2 1038.73 43.5 1038.9 47C1039.07 50.5 1038.07 49.97 1039.3 51.8C1040.53 53.63 1041.5 52.27 1042.6 52.5" fill="none" stroke="#000" stroke-width="2.6" stroke-linecap="round" stroke-linejoin="round"/>
<circle cx="1039" cy="36.6" r="1.7" fill="#000"/>
<path d="M1047.4 40.5C1047.3 42.67 1047.27 42.73 1047.1 47C1046.93 51.27 1046.97 51.2 1046.9 53.3" fill="none" stroke="#000" stroke-width="2.6" stroke-linecap="round" stroke-linejoin="round"/>
<path d="M1047.4 44.3C1048.83 42.43 1048.87 40.7 1051.7 38.7C1054.53 36.7 1053.77 36.7 1055.9 38.3C1058.03 39.9 1057.37 38.63 1058.1 43.5C1058.83 48.37 1058.1 49.77 1058.1 52.9" fill="none" stroke="#000" stroke-width="2.6" stroke-linecap="round" stroke-linejoin="round"/>
<path d="M1068.4 30.6C1068.03 33.07 1067.87 32.87 1067.3 38C1066.73 43.13 1066.47 41.53 1066.7 46C1066.93 50.47 1065.73 49.4 1068 51.4C1070.27 53.4 1071.67 51.8 1073.5 52" fill="none" stroke="#000" stroke-width="2.6" stroke-linecap="round" stroke-linejoin="round"/>
<path d="M1062.4 38.3L1073.5 37.9" fill="none" stroke="#000" stroke-width="2.6" stroke-linecap="round" stroke-linejoin="round"/>
<path d="M1085.1 42.6C1083.83 42.17 1083.43 40.73 1081.3 41.3C1079.17 41.87 1078.57 42.43 1078.7 44.3C1078.83 46.17 1079.4 45.33 1081.7 46.9C1084 48.47 1085.03 47.3 1085.6 49C1086.17 50.7 1086 51.13 1083.4 52C1080.8 52.87 1079.67 51.73 1077.8 51.6" fill="none" stroke="#000" stroke-width="2.6" stroke-linecap="round" stroke-linejoin="round"/>
<path d="M17.1 364.3L37.9 364.7" fill="none" stroke="#000" stroke-width="2.6" stroke-linecap="round" stroke-linejoin="round"/>
<path d="M17.1 363.8C17.3 361.5 16.4 360.8 17.7 356.9C19 353 18.43 354.13 21 352.1C23.57 350.07 22.2 350.37 25.4 350.8C28.6 351.23 27.13 350.8 30.6 353.4C34.07 356 33.37 354.97 35.8 358.6C38.23 362.23 37.2 362.4 37.9 364.3" fill="none" stroke="#000" stroke-width="2.6" stroke-linecap="round" stroke-linejoin="round"/>
<path d="M31.6 346.5C31.6 343.73 32.8 341.4 31.6 338.2C30.4 335 30.07 336.17 28 336.9C25.93 337.63 26.27 337.8 25.4 340.4C24.53 343 24.27 342.4 25.4 344.7C26.53 347 25.93 346.57 28.8 347.3C31.67 348.03 31.1 348.03 34 346.9C36.9 345.77 36.2 346.67 37.5 343.9C38.8 341.13 37.77 340.37 37.9 338.6" fill="none" stroke="#000" stroke-width="2.6" stroke-linecap="round" stroke-linejoin="round"/>
<path d="M24.1 331.7L38.4 331.7" fill="none" stroke="#000" stroke-width="2.6" stroke-linecap="round" stroke-linejoin="round"/>
<path d="M28 331.3C26.83 330 25.8 330.17 24.5 327.4C23.2 324.63 22.93 325.17 24.1 323C25.27 320.83 23.23 321.6 28 320.9C32.77 320.2 34.93 320.9 38.4 320.9" fill="none" stroke="#000" stroke-width="2.6" stroke-linecap="round" stroke-linejoin="round"/>
<path d="M26.9 308.6C26.53 309.5 25.6 309.57 25.8 311.3C26 313.03 26.1 312.67 27.5 313.8C28.9 314.93 28.57 314.7 30 314.7C31.43 314.7 31.3 315.17 31.8 313.8C32.3 312.43 31.73 312.4 31.5 310.6C31.27 308.8 30.5 309.57 31.1 308.4C31.7 307.23 31.6 307.1 33.3 307.1C35 307.1 34.7 307 36.2 308.4C37.7 309.8 37.43 309.5 37.8 311.3C38.17 313.1 38.07 312.53 37.3 313.8C36.53 315.07 36.1 314.67 35.5 315.1" fill="none" stroke="#000" stroke-width="2.6" stroke-linecap="round" stroke-linejoin="round"/>
<path d="M26.2 302C27.8 301.97 27.8 301.97 31 301.9C34.2 301.83 33.47 302.2 35.8 301.8C38.13 301.4 37.5 301.73 38 300.7C38.5 299.67 37.53 299.37 37.3 298.7" fill="none" stroke="#000" stroke-width="2.6" stroke-linecap="round" stroke-linejoin="round"/>
<circle cx="22" cy="301.8" r="1.75" fill="#000"/>
<path d="M15.5 289.1C19 289.07 18.97 289.07 26 289C33.03 288.93 32.53 289.57 36.6 288.9C40.67 288.23 37.9 288.67 38.2 287C38.5 285.33 37.73 284.93 37.5 283.9" fill="none" stroke="#000" stroke-width="2.6" stroke-linecap="round" stroke-linejoin="round"/>
<path d="M23.6 295.2L23.6 283.9" fill="none" stroke="#000" stroke-width="2.6" stroke-linecap="round" stroke-linejoin="round"/>
<path d="M26.2 276.9C28.53 277.07 29.73 278.27 33.2 277.4C36.67 276.53 35.6 277.2 36.6 274.3C37.6 271.4 36.33 270.57 36.2 268.7" fill="none" stroke="#000" stroke-width="2.6" stroke-linecap="round" stroke-linejoin="round"/>
<path d="M26.2 267.6C29.67 267.37 31.23 266.4 36.6 266.9C41.97 267.4 39.53 266.9 42.3 269.1C45.07 271.3 44.9 270.17 44.9 273.5C44.9 276.83 43.17 277.23 42.3 279.1" fill="none" stroke="#000" stroke-width="2.6" stroke-linecap="round" stroke-linejoin="round"/>
</g>
</svg>
</body></html>
